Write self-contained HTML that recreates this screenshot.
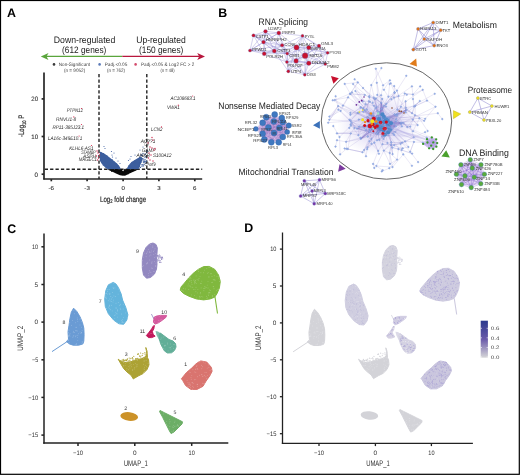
<!DOCTYPE html><html><head><meta charset="utf-8"><style>html,body{margin:0;padding:0;background:#fff;overflow:hidden}svg{display:block;will-change:transform}text{font-family:"Liberation Sans",sans-serif;text-rendering:geometricPrecision}</style></head><body>
<svg width="520" height="475" viewBox="0 0 520 475">
<rect x="0" y="0" width="520" height="475" fill="#fff"/>
<text x="7.1" y="17.3" font-size="12.4" fill="#000" font-weight="bold" >A</text>
<text x="218.3" y="17.2" font-size="12.4" fill="#000" font-weight="bold" >B</text>
<text x="7.2" y="232.5" font-size="12.4" fill="#000" font-weight="bold" >C</text>
<text x="244.3" y="232.3" font-size="12.4" fill="#000" font-weight="bold" >D</text>
<text x="84.5" y="42.7" font-size="9.4" fill="#222" text-anchor="middle" textLength="61.5" lengthAdjust="spacingAndGlyphs" >Down-regulated</text>
<text x="84.2" y="53" font-size="9.4" fill="#222" text-anchor="middle" textLength="44.2" lengthAdjust="spacingAndGlyphs" >(612 genes)</text>
<text x="161" y="42.7" font-size="9.4" fill="#222" text-anchor="middle" textLength="49.6" lengthAdjust="spacingAndGlyphs" >Up-regulated</text>
<text x="161.2" y="53" font-size="9.4" fill="#222" text-anchor="middle" textLength="44.3" lengthAdjust="spacingAndGlyphs" >(150 genes)</text>
<line x1="46" y1="56.4" x2="122.3" y2="56.4" stroke="#5aa53c" stroke-width="1.4"/>
<line x1="122.3" y1="56.4" x2="199" y2="56.4" stroke="#b8173d" stroke-width="1.4"/>
<path d="M40.8,56.4 L48.5,52.9 L46.5,56.4 L48.5,59.9 Z" fill="#5aa53c"/>
<path d="M205,56.4 L197.2,52.9 L199.2,56.4 L197.2,59.9 Z" fill="#b8173d"/>
<circle cx="54" cy="64.4" r="1.3" fill="#3a3a3a"/>
<circle cx="99.6" cy="64.4" r="1.3" fill="#5a7ab8"/>
<circle cx="135.6" cy="64.4" r="1.3" fill="#d44a6c"/>
<text x="74.4" y="66.1" font-size="4.9" fill="#444" text-anchor="middle" textLength="31.3" lengthAdjust="spacingAndGlyphs" >Non-Significant</text>
<text x="74.6" y="71.5" font-size="4.9" fill="#444" text-anchor="middle" textLength="21.3" lengthAdjust="spacingAndGlyphs" >(n = 9052)</text>
<text x="116" y="66.1" font-size="4.9" fill="#444" text-anchor="middle" textLength="22.6" lengthAdjust="spacingAndGlyphs" >Padj.&lt;0.05</text>
<text x="116" y="71.5" font-size="4.9" fill="#444" text-anchor="middle" textLength="18.2" lengthAdjust="spacingAndGlyphs" >(n = 762)</text>
<text x="167.6" y="66.1" font-size="4.9" fill="#444" text-anchor="middle" textLength="53.2" lengthAdjust="spacingAndGlyphs" >Padj.&lt;0.05 &amp; Log2 FC &gt; 2</text>
<text x="167.6" y="71.5" font-size="4.9" fill="#444" text-anchor="middle" textLength="14" lengthAdjust="spacingAndGlyphs" >(n = 48)</text>
<g stroke="#262626" stroke-width="1.7" fill="none">
<line x1="44" y1="72.6" x2="44" y2="179.6"/>
<line x1="43.3" y1="179" x2="202.2" y2="179"/>
<line x1="41.6" y1="174.2" x2="44" y2="174.2"/>
<line x1="41.6" y1="136.5" x2="44" y2="136.5"/>
<line x1="41.6" y1="98.9" x2="44" y2="98.9"/>
<line x1="51.3" y1="179" x2="51.3" y2="181.3"/>
<line x1="87.1" y1="179" x2="87.1" y2="181.3"/>
<line x1="123.1" y1="179" x2="123.1" y2="181.3"/>
<line x1="158.9" y1="179" x2="158.9" y2="181.3"/>
<line x1="194.8" y1="179" x2="194.8" y2="181.3"/>
</g>
<text x="38.1" y="176.5" font-size="6.3" fill="#333" text-anchor="end" textLength="3.5" lengthAdjust="spacingAndGlyphs" stroke="#333" stroke-width="0.12">0</text>
<text x="38.1" y="138.8" font-size="6.3" fill="#333" text-anchor="end" textLength="6.8" lengthAdjust="spacingAndGlyphs" stroke="#333" stroke-width="0.12">10</text>
<text x="38.1" y="101.2" font-size="6.3" fill="#333" text-anchor="end" textLength="6.8" lengthAdjust="spacingAndGlyphs" stroke="#333" stroke-width="0.12">20</text>
<text x="51.3" y="190.2" font-size="5.8" fill="#333" text-anchor="middle" textLength="5.5" lengthAdjust="spacingAndGlyphs" stroke="#333" stroke-width="0.12">-6</text>
<text x="87.1" y="190.2" font-size="5.8" fill="#333" text-anchor="middle" textLength="5.5" lengthAdjust="spacingAndGlyphs" stroke="#333" stroke-width="0.12">-3</text>
<text x="123.1" y="190.2" font-size="5.8" fill="#333" text-anchor="middle" textLength="3.4" lengthAdjust="spacingAndGlyphs" stroke="#333" stroke-width="0.12">0</text>
<text x="158.9" y="190.2" font-size="5.8" fill="#333" text-anchor="middle" textLength="3.4" lengthAdjust="spacingAndGlyphs" stroke="#333" stroke-width="0.12">3</text>
<text x="194.8" y="190.2" font-size="5.8" fill="#333" text-anchor="middle" textLength="3.4" lengthAdjust="spacingAndGlyphs" stroke="#333" stroke-width="0.12">6</text>
<text transform="translate(123.05,201.6) scale(0.77,1)" font-size="8" fill="#2a2a2a" stroke="#2a2a2a" stroke-width="0.2" text-anchor="middle">Log<tspan font-size="5.3" dy="1.8">2</tspan><tspan dy="-1.8"> fold change</tspan></text>
<text transform="translate(24,125.9) rotate(-90) scale(0.76,1)" font-size="8" fill="#2a2a2a" stroke="#2a2a2a" stroke-width="0.2" text-anchor="middle">-Log<tspan font-size="5.3" dy="1.8">10</tspan><tspan dy="-1.8"> P</tspan></text>
<g stroke="#222" stroke-width="1.4" stroke-dasharray="3.3,2.1" fill="none">
<line x1="99" y1="74" x2="99" y2="179"/>
<line x1="146.8" y1="74" x2="146.8" y2="179"/>
<line x1="44.7" y1="169.2" x2="202.2" y2="169.2"/>
</g>
<polygon points="99.8,151.5 102,152.5 105,154 109,157 113.4,160.6 117,163.5 119.6,166.5 121,169.3 108,169.3 105.7,168 102.3,164.4 100,161" fill="#3d5f9e"/>
<polygon points="126.4,169.3 128.5,165.5 131.5,162 135.5,159.5 139,157.5 141.5,156.5 142.5,160 140.5,164.5 138.5,169.3" fill="#3d5f9e"/>
<g fill="#3d5f9e" opacity="1.0"><circle cx="101" cy="160.5" r="0.55"/><circle cx="100.6" cy="159.2" r="0.55"/><circle cx="101.3" cy="153.1" r="0.55"/><circle cx="108.8" cy="166.2" r="0.55"/><circle cx="102.4" cy="155.5" r="0.55"/><circle cx="113.1" cy="168.4" r="0.55"/><circle cx="102.9" cy="153.6" r="0.55"/><circle cx="106.3" cy="166" r="0.55"/><circle cx="103.6" cy="161.9" r="0.55"/><circle cx="101.1" cy="155.2" r="0.55"/><circle cx="106.5" cy="161.9" r="0.55"/><circle cx="116.6" cy="163.9" r="0.55"/><circle cx="105" cy="161.7" r="0.55"/><circle cx="110.9" cy="167.1" r="0.55"/><circle cx="108.7" cy="165" r="0.55"/><circle cx="103" cy="160.2" r="0.55"/><circle cx="114.5" cy="162.1" r="0.55"/><circle cx="112.1" cy="159.6" r="0.55"/><circle cx="117.6" cy="168.3" r="0.55"/><circle cx="109.9" cy="163.3" r="0.55"/><circle cx="113.5" cy="169.2" r="0.55"/><circle cx="108" cy="163.4" r="0.55"/><circle cx="100.3" cy="159.7" r="0.55"/><circle cx="103.4" cy="153.6" r="0.55"/><circle cx="102.5" cy="155.9" r="0.55"/><circle cx="108.1" cy="167" r="0.55"/><circle cx="101.5" cy="159.5" r="0.55"/><circle cx="111.4" cy="167.2" r="0.55"/><circle cx="117.2" cy="166.9" r="0.55"/><circle cx="105.7" cy="158.9" r="0.55"/><circle cx="107.4" cy="167.2" r="0.55"/><circle cx="103.5" cy="155.6" r="0.55"/><circle cx="104.7" cy="160.1" r="0.55"/><circle cx="107.6" cy="161.6" r="0.55"/><circle cx="110.7" cy="162.5" r="0.55"/><circle cx="118.3" cy="165.7" r="0.55"/><circle cx="108.1" cy="158.6" r="0.55"/><circle cx="102" cy="162.8" r="0.55"/><circle cx="101.1" cy="152.7" r="0.55"/><circle cx="104.2" cy="154.4" r="0.55"/><circle cx="102" cy="158" r="0.55"/><circle cx="105.1" cy="157.7" r="0.55"/><circle cx="117.8" cy="169.2" r="0.55"/><circle cx="109.7" cy="160.1" r="0.55"/><circle cx="101.6" cy="153.3" r="0.55"/><circle cx="107.1" cy="156.2" r="0.55"/><circle cx="111" cy="168.9" r="0.55"/><circle cx="105.3" cy="158" r="0.55"/><circle cx="103.3" cy="165.2" r="0.55"/><circle cx="111.1" cy="165.4" r="0.55"/><circle cx="106.8" cy="155.5" r="0.55"/><circle cx="117" cy="169" r="0.55"/><circle cx="117.9" cy="165.8" r="0.55"/><circle cx="117.1" cy="164.7" r="0.55"/><circle cx="104.6" cy="160.7" r="0.55"/><circle cx="100.4" cy="156.5" r="0.55"/><circle cx="105.3" cy="163.8" r="0.55"/><circle cx="119.7" cy="169.1" r="0.55"/><circle cx="104.5" cy="155.5" r="0.55"/><circle cx="104" cy="155.1" r="0.55"/></g>
<g fill="#3d5f9e" opacity="1.0"><circle cx="136.4" cy="168" r="0.55"/><circle cx="139.9" cy="162.6" r="0.55"/><circle cx="136.9" cy="166.7" r="0.55"/><circle cx="138.5" cy="162.6" r="0.55"/><circle cx="129.3" cy="166.6" r="0.55"/><circle cx="131.8" cy="166.8" r="0.55"/><circle cx="132.9" cy="168.6" r="0.55"/><circle cx="138.1" cy="158.7" r="0.55"/><circle cx="128.8" cy="167.1" r="0.55"/><circle cx="132" cy="163.5" r="0.55"/><circle cx="134.9" cy="168.5" r="0.55"/><circle cx="133.4" cy="167.7" r="0.55"/><circle cx="139.7" cy="159.2" r="0.55"/><circle cx="130.3" cy="164" r="0.55"/><circle cx="128.5" cy="168.1" r="0.55"/><circle cx="132.1" cy="162.4" r="0.55"/><circle cx="135.8" cy="168.1" r="0.55"/><circle cx="133.2" cy="168.2" r="0.55"/><circle cx="134.5" cy="163.3" r="0.55"/><circle cx="138.1" cy="163.6" r="0.55"/><circle cx="131.6" cy="163.1" r="0.55"/><circle cx="135.3" cy="166.5" r="0.55"/><circle cx="138.8" cy="163" r="0.55"/><circle cx="135.4" cy="166.2" r="0.55"/><circle cx="141.1" cy="162.2" r="0.55"/><circle cx="136.3" cy="163" r="0.55"/><circle cx="134.6" cy="165.4" r="0.55"/><circle cx="133.7" cy="163.3" r="0.55"/><circle cx="134.1" cy="168.6" r="0.55"/><circle cx="137.7" cy="167.7" r="0.55"/><circle cx="141.6" cy="159.8" r="0.55"/><circle cx="135.4" cy="168.6" r="0.55"/><circle cx="139.9" cy="158.3" r="0.55"/><circle cx="139" cy="168" r="0.55"/><circle cx="128.9" cy="165.7" r="0.55"/><circle cx="129.9" cy="168.7" r="0.55"/><circle cx="132.8" cy="162.7" r="0.55"/><circle cx="134.7" cy="160.8" r="0.55"/><circle cx="135.3" cy="162.1" r="0.55"/><circle cx="136.4" cy="163.1" r="0.55"/></g>
<g fill="#3d5f9e" opacity="1.0"><circle cx="142" cy="166.3" r="0.6"/><circle cx="145.8" cy="153.8" r="0.6"/><circle cx="139.4" cy="166.4" r="0.6"/><circle cx="143.4" cy="162.2" r="0.6"/><circle cx="144.5" cy="157" r="0.6"/><circle cx="144" cy="164.2" r="0.6"/><circle cx="138.8" cy="165.2" r="0.6"/><circle cx="142.3" cy="155.3" r="0.6"/><circle cx="143" cy="153.4" r="0.6"/><circle cx="141" cy="154.7" r="0.6"/><circle cx="145.2" cy="154.4" r="0.6"/><circle cx="145" cy="159.4" r="0.6"/><circle cx="139.8" cy="157.9" r="0.6"/><circle cx="146.9" cy="150.8" r="0.6"/><circle cx="145.8" cy="157.1" r="0.6"/><circle cx="142.7" cy="164.8" r="0.6"/><circle cx="141.7" cy="158.5" r="0.6"/><circle cx="141.3" cy="164.8" r="0.6"/><circle cx="144.7" cy="161" r="0.6"/><circle cx="141.8" cy="155.5" r="0.6"/><circle cx="138.7" cy="163" r="0.6"/><circle cx="138.8" cy="165" r="0.6"/><circle cx="146.3" cy="161.7" r="0.6"/><circle cx="140.8" cy="157.6" r="0.6"/><circle cx="139.5" cy="157.4" r="0.6"/><circle cx="140.5" cy="167.3" r="0.6"/><circle cx="140.3" cy="167.3" r="0.6"/><circle cx="140.9" cy="155.6" r="0.6"/><circle cx="142.5" cy="158.5" r="0.6"/><circle cx="139.9" cy="158.5" r="0.6"/><circle cx="143.6" cy="159" r="0.6"/><circle cx="145.1" cy="161.4" r="0.6"/><circle cx="141.7" cy="155.1" r="0.6"/><circle cx="147.4" cy="151.7" r="0.6"/><circle cx="144.9" cy="161.1" r="0.6"/><circle cx="146.5" cy="160.8" r="0.6"/><circle cx="139.3" cy="158.9" r="0.6"/><circle cx="142.8" cy="164.8" r="0.6"/><circle cx="143.5" cy="165.9" r="0.6"/><circle cx="144.5" cy="162.1" r="0.6"/><circle cx="139" cy="164.8" r="0.6"/><circle cx="143.3" cy="160.9" r="0.6"/><circle cx="143.9" cy="161.9" r="0.6"/><circle cx="145.6" cy="163.2" r="0.6"/><circle cx="142.8" cy="159.1" r="0.6"/></g>
<g fill="#4a6aa8"><circle cx="104" cy="146.5" r="0.6"/><circle cx="105" cy="148.5" r="0.6"/><circle cx="111.5" cy="151.5" r="0.6"/><circle cx="112" cy="155" r="0.6"/><circle cx="112.5" cy="157" r="0.6"/><circle cx="116" cy="158" r="0.6"/><circle cx="114" cy="153" r="0.6"/><circle cx="131" cy="156.5" r="0.6"/><circle cx="130" cy="159" r="0.6"/><circle cx="128.5" cy="160.5" r="0.6"/><circle cx="135" cy="155" r="0.6"/><circle cx="140" cy="150" r="0.6"/><circle cx="143" cy="147" r="0.6"/><circle cx="118" cy="161" r="0.6"/><circle cx="120" cy="163.5" r="0.6"/></g>
<polygon points="107.5,169.2 121.5,169.2 123,171.5 124.5,169.2 138,169.2 135,171 130,173.3 126,175.2 123,175.8 120,175.2 116,173.5 112,171.6 109,170.3" fill="#0a0a0a"/>
<g fill="#0a0a0a" opacity="1.0"><circle cx="127.6" cy="169.6" r="0.6"/><circle cx="130" cy="170.9" r="0.6"/><circle cx="129.7" cy="170.6" r="0.6"/><circle cx="122.6" cy="171.7" r="0.6"/><circle cx="122.1" cy="173.7" r="0.6"/><circle cx="127.1" cy="169.7" r="0.6"/><circle cx="112" cy="170.9" r="0.6"/><circle cx="130.2" cy="171.2" r="0.6"/><circle cx="124.8" cy="169.3" r="0.6"/><circle cx="128" cy="173.8" r="0.6"/><circle cx="128.1" cy="171.1" r="0.6"/><circle cx="123.3" cy="172.3" r="0.6"/><circle cx="121.7" cy="170" r="0.6"/><circle cx="134.8" cy="170.5" r="0.6"/><circle cx="121.2" cy="171" r="0.6"/><circle cx="121.2" cy="171.2" r="0.6"/><circle cx="111.8" cy="171.5" r="0.6"/><circle cx="133.1" cy="170" r="0.6"/><circle cx="118.9" cy="171.8" r="0.6"/><circle cx="118.5" cy="172" r="0.6"/><circle cx="115.9" cy="169.5" r="0.6"/><circle cx="115.1" cy="171" r="0.6"/><circle cx="129.4" cy="169.5" r="0.6"/><circle cx="129.8" cy="172.2" r="0.6"/><circle cx="116.2" cy="169.5" r="0.6"/><circle cx="135.8" cy="170" r="0.6"/><circle cx="121.9" cy="171.5" r="0.6"/><circle cx="127.5" cy="171.2" r="0.6"/><circle cx="124.5" cy="171.8" r="0.6"/><circle cx="112.6" cy="170.3" r="0.6"/><circle cx="121.2" cy="170.1" r="0.6"/><circle cx="113.4" cy="169.8" r="0.6"/><circle cx="117.9" cy="169.8" r="0.6"/><circle cx="114.8" cy="170.9" r="0.6"/><circle cx="124.9" cy="175.1" r="0.6"/><circle cx="130.4" cy="171.9" r="0.6"/><circle cx="120.1" cy="172.7" r="0.6"/><circle cx="119" cy="171.4" r="0.6"/><circle cx="122.9" cy="173.4" r="0.6"/><circle cx="133.8" cy="170.6" r="0.6"/></g>
<text x="66.7" y="112.4" font-size="5.2" fill="#2a2a2a" textLength="16.2" lengthAdjust="spacingAndGlyphs" font-style="italic" >PTPN12</text>
<circle cx="81.5" cy="108.5" r="0.6" fill="#d8284c"/>
<text x="56.1" y="121.2" font-size="5.2" fill="#2a2a2a" textLength="20.1" lengthAdjust="spacingAndGlyphs" font-style="italic" >RNVU1-8</text>
<circle cx="73.8" cy="116.9" r="0.6" fill="#d8284c"/>
<text x="52.4" y="128.5" font-size="5.2" fill="#2a2a2a" textLength="31.8" lengthAdjust="spacingAndGlyphs" font-style="italic" >RP11-385J23.1</text>
<circle cx="81.5" cy="124.5" r="0.6" fill="#d8284c"/>
<text x="48" y="140.1" font-size="5.2" fill="#2a2a2a" textLength="34.2" lengthAdjust="spacingAndGlyphs" font-style="italic" >LA16c-349E10.1</text>
<circle cx="79.1" cy="136" r="0.6" fill="#d8284c"/>
<text x="69.2" y="149.5" font-size="5.2" fill="#2a2a2a" textLength="24.3" lengthAdjust="spacingAndGlyphs" font-style="italic" >KLHL6-AS1</text>
<circle cx="91.5" cy="145.5" r="0.6" fill="#d8284c"/>
<text x="81.2" y="154.1" font-size="5.2" fill="#2a2a2a" textLength="14.6" lengthAdjust="spacingAndGlyphs" font-style="italic" >STAMBP</text>
<text x="83" y="157.6" font-size="5.2" fill="#2a2a2a" textLength="13" lengthAdjust="spacingAndGlyphs" font-style="italic" >ASPH</text>
<text x="78.8" y="161" font-size="5.2" fill="#2a2a2a" textLength="18.1" lengthAdjust="spacingAndGlyphs" font-style="italic" >MAGEC1</text>
<text x="170.4" y="100.2" font-size="5.2" fill="#2a2a2a" textLength="25.2" lengthAdjust="spacingAndGlyphs" font-style="italic" >AC108683.1</text>
<circle cx="192.7" cy="96" r="0.6" fill="#d8284c"/>
<text x="167" y="109.1" font-size="5.2" fill="#2a2a2a" textLength="12.7" lengthAdjust="spacingAndGlyphs" font-style="italic" >VWA1</text>
<circle cx="178.3" cy="105.2" r="0.6" fill="#d8284c"/>
<text x="151.1" y="131.1" font-size="5.2" fill="#2a2a2a" textLength="11.4" lengthAdjust="spacingAndGlyphs" font-style="italic" >LCN2</text>
<circle cx="161.5" cy="126.9" r="0.6" fill="#d8284c"/>
<text x="140.7" y="142.9" font-size="5.2" fill="#2a2a2a" textLength="14.7" lengthAdjust="spacingAndGlyphs" font-style="italic" >AC??1</text>
<text x="144.5" y="145.8" font-size="5.2" fill="#2a2a2a" textLength="4.5" lengthAdjust="spacingAndGlyphs" font-style="italic" >CA?</text>
<text x="142.1" y="151.9" font-size="5.2" fill="#2a2a2a" textLength="13.3" lengthAdjust="spacingAndGlyphs" font-style="italic" >GAMP</text>
<text x="136.4" y="157.1" font-size="5.2" fill="#2a2a2a" textLength="13.6" lengthAdjust="spacingAndGlyphs" font-style="italic" >ANKR</text>
<text x="153" y="157.1" font-size="5.2" fill="#2a2a2a" textLength="18.5" lengthAdjust="spacingAndGlyphs" font-style="italic" >S100A12</text>
<text x="144.5" y="165.7" font-size="5.2" fill="#2a2a2a" textLength="10.9" lengthAdjust="spacingAndGlyphs" font-style="italic" >C?orf9</text>
<g fill="#d02a50"><circle cx="97" cy="151" r="0.7"/><circle cx="98" cy="153" r="0.7"/><circle cx="96.5" cy="156" r="0.7"/><circle cx="98.5" cy="158" r="0.7"/><circle cx="97.5" cy="160" r="0.7"/><circle cx="99.5" cy="155" r="0.7"/><circle cx="152" cy="137.5" r="0.7"/><circle cx="153" cy="140" r="0.7"/><circle cx="150" cy="147" r="0.7"/><circle cx="152" cy="148" r="0.7"/><circle cx="155" cy="148.5" r="0.7"/><circle cx="149" cy="153" r="0.7"/><circle cx="150" cy="160" r="0.7"/><circle cx="153" cy="161" r="0.7"/><circle cx="148" cy="143" r="0.7"/><circle cx="151" cy="155" r="0.7"/><circle cx="148.5" cy="158" r="0.7"/><circle cx="154" cy="150" r="0.7"/></g>
<ellipse cx="386.5" cy="121" rx="65.2" ry="58.2" fill="none" stroke="#4a4a4a" stroke-width="0.85"/>
<defs><radialGradient id="hz"><stop offset="0" stop-color="#a898e0" stop-opacity="0.55"/><stop offset="0.6" stop-color="#b0a4e4" stop-opacity="0.25"/><stop offset="1" stop-color="#b8b0e8" stop-opacity="0"/></radialGradient></defs>
<ellipse cx="379" cy="124" rx="42" ry="32" fill="url(#hz)"/>
<path d="M357,128.6L381.3,102.8M357,128.6L380.4,122.8M357,128.6L377.6,132.8M357,128.6L373.8,122.8M357,128.6L384.9,124.5M357,128.6L384.3,136.5M370.7,124.6L380.2,123M370.7,124.6L371.3,114.5M370.7,124.6L379.5,126M370.7,124.6L379.5,117.5M370.7,124.6L377.3,123.5M370.7,124.6L378.2,124.5M373.8,122.8L386.2,126.1M373.8,122.8L406.5,109.7M373.8,122.8L380.6,126.3M373.8,122.8L384.3,136.5M373.8,122.8L376.3,119.3M373.8,122.8L377.3,123.5M376.2,122.8L379.3,121.3M376.2,122.8L379.5,123.9M376.2,122.8L380.1,123.1M376.2,122.8L380.5,122.8M376.2,122.8L385.2,126.7M376.2,122.8L373.8,124.7M379.1,122.2L378.2,134.3M379.1,122.2L380,123.4M379.1,122.2L379.3,121.3M379.1,122.2L380.4,123.6M379.1,122.2L380.6,126.3M379.1,122.2L401.8,122.7M378.4,126.7L386.2,119M378.4,126.7L380.1,123.2M378.4,126.7L371.2,120.3M378.4,126.7L380.1,123.2M378.4,126.7L373.4,120.5M378.4,126.7L376.2,122.8M385.4,125.7L380.1,123.2M385.4,125.7L387.6,132.2M385.4,125.7L378.1,131.4M385.4,125.7L381.3,102.8M385.4,125.7L379.4,121.5M385.4,125.7L386.2,119M395.8,126.4L383.1,126.5M395.8,126.4L384.3,136.5M395.8,126.4L384.3,136.5M395.8,126.4L381.2,123.4M395.8,126.4L380.6,119.4M395.8,126.4L381.9,118.1M396.1,121.6L385.7,126.5M396.1,121.6L372.7,116M396.1,121.6L382.6,122.3M396.1,121.6L378.1,131.4M396.1,121.6L392.5,129M396.1,121.6L373.4,120.5M377.3,121.1L379.8,124.6M377.3,121.1L379.8,124.6M377.3,121.1L378.2,124.5M377.3,121.1L396.1,121.6M377.3,121.1L378.2,124.5M377.3,121.1L384.9,124.5M387.6,132.2L388.4,126.2M387.6,132.2L384.3,136.5M387.6,132.2L381.3,124.3M387.6,132.2L401.8,122.7M387.6,132.2L372.7,116M387.6,132.2L357,128.6M381.2,123.4L380.2,123.5M381.2,123.4L380.6,119.4M381.2,123.4L392.5,129M381.2,123.4L386.2,119M381.2,123.4L380.6,119.4M381.2,123.4L388.4,126.2M380.1,123.1L370.2,129.7M380.1,123.1L381.3,124.3M380.1,123.1L373.8,124.7M380.1,123.1L377.3,121.1M380.1,123.1L387,117.9M380.1,123.1L379.1,122.2M377.3,123.5L371.7,123.7M377.3,123.5L370.2,129.7M377.3,123.5L378.1,131.4M377.3,123.5L379.5,126M377.3,123.5L386.2,126.1M377.3,123.5L379.3,121.3M373,125.2L367.4,117.2M373,125.2L373.8,122.8M373,125.2L379.5,123.9M373,125.2L380.1,123.2M373,125.2L375.7,121.3M373,125.2L385.7,126.5M372.7,116L379.1,122.2M372.7,116L401.8,122.7M372.7,116L377.6,132.8M372.7,116L376.6,121M372.7,116L372.7,116M372.7,116L373.4,120.5M373.4,123L371.7,123.7M373.4,123L381.8,108.9M373.4,123L371.3,114.5M373.4,123L371.2,120.3M373.4,123L373.4,123M373.4,123L384.9,124.5M378.1,131.4L381.3,102.8M378.1,131.4L373.4,120.5M378.1,131.4L384.3,136.5M378.1,131.4L385.4,125.7M378.1,131.4L379.1,122.2M378.1,131.4L401.8,122.7M401.8,122.7L371.7,123.7M401.8,122.7L376.3,133.5M401.8,122.7L381.3,124.3M401.8,122.7L377.3,123.5M401.8,122.7L387.9,124.6M401.8,122.7L386.4,126.7M379.8,122.5L375.7,121.3M379.8,122.5L379.6,122.7M379.8,122.5L373.4,120.5M379.8,122.5L375.7,121.3M379.8,122.5L380.2,123.5M379.8,122.5L379.7,128.4M379.5,123.9L385.7,126.5M379.5,123.9L375.7,121.3M379.5,123.9L382.9,128.8M379.5,123.9L372.7,116M379.5,123.9L373.4,120.5M379.5,123.9L373,125.2M388.4,126.2L377.6,132.8M388.4,126.2L384.3,136.5M388.4,126.2L377.6,132.8M388.4,126.2L371.2,120.3M388.4,126.2L382.9,128.8M388.4,126.2L383.1,126.5M381.8,108.9L376.2,122.8M381.8,108.9L386.9,118.2M381.8,108.9L385.4,125.7M381.8,108.9L376.3,119.3M381.8,108.9L379.3,121.3M381.8,108.9L382.9,128.8M370.2,129.7L386.2,126.1M370.2,129.7L381.3,124.3M370.2,129.7L386.9,118.2M370.2,129.7L379.5,126M370.2,129.7L367.4,117.2M370.2,129.7L396.1,121.6M380.2,123L381.3,102.8M380.2,123L372.7,116M380.2,123L382.6,122.3M380.2,123L381.3,102.8M380.2,123L380.4,123.6M380.2,123L360.9,138.8M380.1,123.2L385.4,125.7M380.1,123.2L387.9,124.6M380.1,123.2L377.3,123.5M380.1,123.2L377.6,132.8M380.1,123.2L392.5,129M380.1,123.2L379.8,124.6M406.5,109.7L379.5,126M406.5,109.7L360.9,138.8M406.5,109.7L392.5,129M406.5,109.7L396.1,121.6M406.5,109.7L387.5,126M406.5,109.7L379.8,124.6M375.2,125.8L383.1,126.5M375.2,125.8L373.4,120.5M375.2,125.8L388.4,126.2M375.2,125.8L392.2,127.8M375.2,125.8L383.1,126.5M375.2,125.8L373.4,120.5M392.2,127.8L372.7,116M392.2,127.8L377.3,121.1M392.2,127.8L380.1,123.1M392.2,127.8L371.2,120.3M392.2,127.8L373.4,123M392.2,127.8L372.7,116M378.2,134.3L380.5,122.8M378.2,134.3L386.2,119M378.2,134.3L387,117.9M378.2,134.3L357,128.6M378.2,134.3L376.3,119.3M378.2,134.3L381.3,102.8M392.5,129L385.2,126.7M392.5,129L376.2,122.8M392.5,129L386.9,118.2M392.5,129L381.8,108.9M392.5,129L396.1,121.6M392.5,129L379.5,117.5M381.3,102.8L382.6,122.3M381.3,102.8L377.6,132.8M381.3,102.8L360.9,138.8M381.3,102.8L401.8,122.7M381.3,102.8L380,123.4M381.3,102.8L389.6,122.1M380.1,123.1L378.2,134.3M380.1,123.1L378.4,126.7M380.1,123.1L379.5,126M380.1,123.1L376.2,122.8M380.1,123.1L387,117.9M380.1,123.1L383.1,122.5M384.9,124.5L379.5,126M384.9,124.5L386.9,118.2M384.9,124.5L376.3,133.5M384.9,124.5L401.8,122.7M384.9,124.5L387.9,124.6M384.9,124.5L406.5,109.7M381.9,118.1L380.1,123.2M381.9,118.1L376.3,119.3M381.9,118.1L395.8,126.4M381.9,118.1L380.1,123.2M381.9,118.1L383.1,122.5M381.9,118.1L380,123.4M367.6,126.4L387.9,124.6M367.6,126.4L373.8,122.8M367.6,126.4L381.8,108.9M367.6,126.4L378.2,124.5M367.6,126.4L380.1,123.2M367.6,126.4L380.5,122.8M380.2,123.5L392.5,129M380.2,123.5L380.2,123M380.2,123.5L385.4,125.7M380.2,123.5L377.3,123.5M380.2,123.5L379.5,126M380.2,123.5L383.1,122.5M376.3,119.3L367.6,126.4M376.3,119.3L383.1,126.5M376.3,119.3L378.1,131.4M376.3,119.3L384.3,136.5M376.3,119.3L379.5,117.5M376.3,119.3L383.1,126.5M385.2,126.7L387.6,132.2M385.2,126.7L388.4,126.2M385.2,126.7L392.2,127.8M385.2,126.7L379.5,126M385.2,126.7L372.7,116M385.2,126.7L380.1,123.2M379.5,126L381.9,118.1M379.5,126L370.2,129.7M379.5,126L392.5,129M379.5,126L380.4,123.6M379.5,126L376.3,119.3M379.5,126L381.9,118.1M383.1,122.5L387.5,126M383.1,122.5L377.6,132.8M383.1,122.5L373,125.2M383.1,122.5L367.4,117.2M383.1,122.5L371.2,120.3M383.1,122.5L378.2,134.3M386.9,118.2L385.2,126.7M386.9,118.2L370.2,129.7M386.9,118.2L392.2,127.8M386.9,118.2L367.6,126.4M386.9,118.2L373.4,123M386.9,118.2L381.2,123.4M384.3,136.5L385.7,126.5M384.3,136.5L377.3,121.1M384.3,136.5L379.5,117.5M384.3,136.5L377.6,132.8M384.3,136.5L377.3,121.1M384.3,136.5L377.6,132.8M371.3,114.5L378.4,126.7M371.3,114.5L357,128.6M371.3,114.5L381.3,124.3M371.3,114.5L367.4,117.2M371.3,114.5L380.2,123.5M371.3,114.5L380.5,122.8M386.4,126.7L380.1,123.1M386.4,126.7L383,121.5M386.4,126.7L373.4,120.5M386.4,126.7L381.2,123.4M386.4,126.7L388.4,126.2M386.4,126.7L380.2,123.5M380,123.4L380.2,123M380,123.4L381.3,102.8M380,123.4L381.8,108.9M380,123.4L367.6,126.4M380,123.4L373.8,124.7M380,123.4L376.2,122.8M380.6,119.4L370.2,129.7M380.6,119.4L379.8,122.5M380.6,119.4L379.1,122.2M380.6,119.4L379.6,122.7M380.6,119.4L385.7,126.5M380.6,119.4L389.6,122.1M387.5,126L376.6,121M387.5,126L357,128.6M387.5,126L376.3,133.5M387.5,126L395.8,126.4M387.5,126L370.2,129.7M387.5,126L396.1,121.6M386.2,126.1L378.2,124.5M386.2,126.1L380.6,119.4M386.2,126.1L386.9,118.2M386.2,126.1L379.4,121.5M386.2,126.1L379.1,122.2M386.2,126.1L371.2,120.3M376.6,121L376.3,119.3M376.6,121L380.4,123.6M376.6,121L371.2,120.3M376.6,121L380.5,122.8M376.6,121L381.8,108.9M376.6,121L381.3,124.3M360.9,138.8L388.4,126.2M360.9,138.8L373,125.2M360.9,138.8L380.4,122.8M360.9,138.8L382.9,128.8M360.9,138.8L392.5,129M360.9,138.8L379.5,117.5M371.7,123.7L373.8,124.7M371.7,123.7L380.1,123.1M371.7,123.7L392.5,129M371.7,123.7L384.9,124.5M371.7,123.7L379.7,128.4M371.7,123.7L379.8,124.6M375.7,121.3L392.2,127.8M375.7,121.3L389.6,122.1M375.7,121.3L380.4,122.8M375.7,121.3L376.3,133.5M375.7,121.3L384.9,124.5M375.7,121.3L379.1,122.2M383.1,126.5L380.1,123.2M383.1,126.5L381.3,124.3M383.1,126.5L385.4,125.7M383.1,126.5L386.2,119M383.1,126.5L382.6,122.3M383.1,126.5L370.2,129.7M383,121.5L386.9,118.2M383,121.5L379.8,122.5M383,121.5L380.4,122.8M383,121.5L373.8,122.8M383,121.5L380.4,122.8M383,121.5L376.3,133.5M382.9,128.8L382.9,128.8M382.9,128.8L380.4,123.6M382.9,128.8L379.5,117.5M382.9,128.8L384.9,124.5M382.9,128.8L376.2,122.8M382.9,128.8L377.3,121.1M379.5,117.5L373,125.2M379.5,117.5L381.8,108.9M379.5,117.5L373.4,120.5M379.5,117.5L379.8,124.6M379.5,117.5L389.6,122.1M379.5,117.5L392.5,129M382.6,122.3L379.6,122.7M382.6,122.3L401.8,122.7M382.6,122.3L385.4,125.7M382.6,122.3L379.5,126M382.6,122.3L383,121.5M382.6,122.3L378.4,126.7M387,117.9L383.1,122.5M387,117.9L379.6,122.7M387,117.9L377.6,132.8M387,117.9L384.9,124.5M387,117.9L367.4,117.2M387,117.9L376.3,133.5M385.7,126.5L381.2,123.4M385.7,126.5L380.6,126.3M385.7,126.5L388.4,126.2M385.7,126.5L386.2,126.1M385.7,126.5L380.1,123.1M385.7,126.5L381.3,102.8M387.9,124.6L379.5,123.9M387.9,124.6L376.3,133.5M387.9,124.6L381.3,124.3M387.9,124.6L387,117.9M387.9,124.6L395.8,126.4M387.9,124.6L383.1,122.5M379.4,121.5L375.7,121.3M379.4,121.5L385.7,126.5M379.4,121.5L380.6,119.4M379.4,121.5L375.2,125.8M379.4,121.5L378.4,126.7M379.4,121.5L373.4,123M379.7,128.4L379.7,128.4M379.7,128.4L381.3,124.3M379.7,128.4L378.1,131.4M379.7,128.4L401.8,122.7M379.7,128.4L387,117.9M379.7,128.4L371.2,120.3M376.3,133.5L378.4,126.7M376.3,133.5L357,128.6M376.3,133.5L392.5,129M376.3,133.5L375.7,121.3M376.3,133.5L377.6,132.8M376.3,133.5L401.8,122.7M380.4,123.6L381.2,123.4M380.4,123.6L360.9,138.8M380.4,123.6L378.2,124.5M380.4,123.6L385.2,126.7M380.4,123.6L387.9,124.6M380.4,123.6L383,121.5M380.6,126.3L377.3,121.1M380.6,126.3L379.1,122.2M380.6,126.3L379.3,121.3M380.6,126.3L378.2,134.3M380.6,126.3L376.3,119.3M380.6,126.3L380.1,123.1M371.2,120.3L372.7,116M371.2,120.3L373.8,124.7M371.2,120.3L392.5,129M371.2,120.3L383.1,126.5M371.2,120.3L385.7,126.5M371.2,120.3L381.2,123.4M377.6,132.8L378.2,134.3M377.6,132.8L380.6,119.4M377.6,132.8L379.5,126M377.6,132.8L371.3,114.5M377.6,132.8L379.3,121.3M377.6,132.8L375.2,125.8M380.5,122.8L378.4,126.7M380.5,122.8L379.5,123.9M380.5,122.8L371.7,123.7M380.5,122.8L389.6,122.1M380.5,122.8L395.8,126.4M380.5,122.8L371.3,114.5M379.8,124.6L373.4,120.5M379.8,124.6L367.4,117.2M379.8,124.6L381.8,108.9M379.8,124.6L385.7,126.5M379.8,124.6L360.9,138.8M379.8,124.6L375.2,125.8M373.8,124.7L386.2,126.1M373.8,124.7L386.2,126.1M373.8,124.7L385.4,125.7M373.8,124.7L375.2,125.8M373.8,124.7L383.1,126.5M373.8,124.7L386.4,126.7M378.2,124.5L381.3,102.8M378.2,124.5L370.2,129.7M378.2,124.5L373.8,124.7M378.2,124.5L379.5,123.9M378.2,124.5L379.4,121.5M378.2,124.5L406.5,109.7M373.4,120.5L371.7,123.7M373.4,120.5L375.2,125.8M373.4,120.5L381.3,124.3M373.4,120.5L385.7,126.5M373.4,120.5L379.5,126M373.4,120.5L387.9,124.6M386.2,119L382.6,122.3M386.2,119L379.7,128.4M386.2,119L370.2,129.7M386.2,119L379.7,128.4M386.2,119L406.5,109.7M386.2,119L379.8,124.6M389.6,122.1L376.6,121M389.6,122.1L383.1,126.5M389.6,122.1L377.3,121.1M389.6,122.1L385.4,125.7M389.6,122.1L367.6,126.4M389.6,122.1L380.6,119.4M367.4,117.2L367.6,126.4M367.4,117.2L379.6,122.7M367.4,117.2L373.8,122.8M367.4,117.2L371.2,120.3M367.4,117.2L370.2,129.7M367.4,117.2L384.9,124.5M381.3,124.3L380.6,126.3M381.3,124.3L360.9,138.8M381.3,124.3L373.4,120.5M381.3,124.3L375.2,125.8M381.3,124.3L381.9,118.1M381.3,124.3L377.3,123.5M380.4,122.8L380.6,119.4M380.4,122.8L395.8,126.4M380.4,122.8L379.8,122.5M380.4,122.8L380.6,119.4M380.4,122.8L378.1,131.4M380.4,122.8L392.5,129M379.3,121.3L372.7,116M379.3,121.3L373.8,122.8M379.3,121.3L386.9,118.2M379.3,121.3L376.6,121M379.3,121.3L382.6,122.3M379.3,121.3L387.6,132.2M379.6,122.7L386.2,126.1M379.6,122.7L386.9,118.2M379.6,122.7L380.1,123.1M379.6,122.7L371.2,120.3M379.6,122.7L395.8,126.4M379.6,122.7L385.2,126.7M377.4,123.2L380.1,123.1M377.4,123.2L380.1,123.1M377.4,123.2L380.2,123M401,122.9L396.3,119.3M401,122.9L393.9,124M401,122.9L392.2,127.8M413.7,137.2L400.6,143.8M413.7,137.2L410.2,126.6M413.7,137.2L400.6,143.8M389.1,117.5L386.2,119M389.1,117.5L384.6,121.8M389.1,117.5L383.6,119.2M379,112.9L379.5,117.5M379,112.9L392.2,127.8M379,112.9L377.4,116.3M415.4,105.7L415,115.3M415.4,105.7L412.1,113.3M415.4,105.7L405.7,107.7M367.7,136.6L369.6,128.1M367.7,136.6L369.6,128.1M367.7,136.6L365.8,130M412.9,94.5L404.7,93.5M412.9,94.5L404.7,93.5M412.9,94.5L414.1,106.6M369.5,128L370.7,124.5M369.5,128L370.7,124.5M369.5,128L370.7,124.5M338.2,106L380.2,123.5M338.2,106L350.4,112.9M338.2,106L350.4,114.8M363.3,109.2L366.7,109.4M363.3,109.2L371.3,114.5M363.3,109.2L365.2,110.7M363.3,111.8L371.3,114.5M363.3,111.8L371.3,114.5M363.3,111.8L372.7,116M422.9,142.5L379.5,126M422.9,142.5L413.9,141.9M422.9,142.5L372.7,116M422.7,89.8L412.9,94.5M422.7,89.8L381.9,118.1M422.7,89.8L427,100.6M375.9,98.4L381.3,102.8M375.9,98.4L381.3,102.8M375.9,98.4L377.3,121.1M357.8,112.8L365.2,110.7M357.8,112.8L365.2,110.7M357.8,112.8L365.2,110.7M375,124.6L377.5,123.7M375,124.6L378.2,124.5M375,124.6L377.4,123.2M380,115.9L379.6,120.3M380,115.9L377.3,121.1M380,115.9L378.5,119.5M401.9,126.4L396.3,119.3M401.9,126.4L393.9,124M401.9,126.4L395.2,131.8M382,136.5L386.2,126.1M382,136.5L376.6,121M382,136.5L385.3,133M369.4,96.9L375,99.2M369.4,96.9L375,99.2M369.4,96.9L368.8,101.3M380.5,122.8L379.8,122.5M380.5,122.8L380.4,122.8M380.5,122.8L380.2,123M379.3,139.8L384.3,136.5M379.3,139.8L378.2,134.3M379.3,139.8L377.6,132.8M379.4,121.9L360.9,138.8M379.4,121.9L357,128.6M379.4,121.9L392.5,129M387.5,143.1L385.3,133M387.5,143.1L383.5,139M387.5,143.1L379.3,139.8M355.4,91L384.3,136.5M355.4,91L364.8,95M355.4,91L383.1,122.5M364.4,127.9L367.9,126M364.4,127.9L370.3,129.7M364.4,127.9L367.9,126M373.2,113.4L373.3,118.3M373.2,113.4L376.3,119.3M373.2,113.4L371.2,119.5M392.6,154.1L391.1,144.9M392.6,154.1L391.3,142.4M392.6,154.1L391.1,144.9M395.8,115.2L388.8,118.1M395.8,115.2L389.6,122.1M395.8,115.2L387,117.9M397.4,109.5L397.3,113.9M397.4,109.5L377.3,123.5M397.4,109.5L379.5,126M371.4,139L378.2,134.3M371.4,139L370.2,129.7M371.4,139L369.4,131.7M410.2,151.7L413.9,141.9M410.2,151.7L385.4,125.7M410.2,151.7L413.9,141.9M380.6,122.3L380.4,123.6M380.6,122.3L360.9,138.8M380.6,122.3L380.1,123.1M375.5,108.2L373.2,113.4M375.5,108.2L370.7,114.6M375.5,108.2L373.2,113.4M382.9,127.3L406.5,109.7M382.9,127.3L382.4,124.2M382.9,127.3L380.2,125.3M377.5,123.7L380.1,123.1M377.5,123.7L380.1,123.1M377.5,123.7L380.1,123.1M365.8,130L370.3,129.7M365.8,130L369.5,128M365.8,130L367.6,126.4M365.2,110.7L372.7,116M365.2,110.7L378.1,131.4M365.2,110.7L367.4,117.2M380.4,122.4L383.1,126.5M380.4,122.4L380.1,123.1M380.4,122.4L360.9,138.8M389,122.2L383,121.5M389,122.2L385.4,125.7M389,122.2L384.6,121.8M382.7,123.5L380.2,123M382.7,123.5L380.1,123.1M382.7,123.5L372.7,116M405.6,101.3L405.7,107.7M405.6,101.3L405.7,112.2M405.6,101.3L405.7,107.7M371.2,119.5L375.7,121.3M371.2,119.5L373.8,122.8M371.2,119.5L373.8,122.8M379.6,123.9L401.8,122.7M379.6,123.9L386.2,119M379.6,123.9L376.6,121M383,125.9L381.2,123.4M383,125.9L381.2,123.4M383,125.9L381.3,124.3M336.9,133.4L350.7,133.5M336.9,133.4L382.9,128.8M336.9,133.4L350.7,133.5M380.6,128.8L381.9,118.1M380.6,128.8L381.5,126.5M380.6,128.8L379.5,126M400.6,143.8L391.1,144.9M400.6,143.8L391.1,144.9M400.6,143.8L394.2,134.9M370.7,125.7L373.8,124.7M370.7,125.7L373.6,123.8M370.7,125.7L373,125.2M363.1,108.2L369.4,115M363.1,108.2L363.3,111.8M363.1,108.2L375.7,121.3M415,115.3L405.7,107.7M415,115.3L410.2,126.6M415,115.3L412.8,119.6M376.6,116.5L377.3,121.1M376.6,116.5L377.3,121.1M376.6,116.5L378.5,119.5M391.3,142.4L381.3,102.8M391.3,142.4L379.5,117.5M391.3,142.4L387.6,132.2M417.6,125.1L412.8,119.6M417.6,125.1L380.5,122.8M417.6,125.1L412.8,119.6M382.9,128L381.3,126.3M382.9,128L381.8,124.9M382.9,128L380.2,125.3M377,140.3L382,136.5M377,140.3L376.3,133.5M377,140.3L384.3,136.5M349.5,119.7L354.5,127.9M349.5,119.7L359.1,126.6M349.5,119.7L357.8,112.8M379.3,122.5L380.5,122.8M379.3,122.5L380.1,123.1M379.3,122.5L379.4,121.5M386.3,103.8L377.5,111.3M386.3,103.8L379.1,112.1M386.3,103.8L379.1,112.1M419.8,101L414.1,106.6M419.8,101L414.1,106.6M419.8,101L414.1,106.6M375,99.2L381.3,102.8M375,99.2L376.6,106.8M375,99.2L381.3,102.8M402.2,142.5L387.5,143.1M402.2,142.5L391.3,142.4M402.2,142.5L394.2,134.9M388.2,118.7L383.6,119.2M388.2,118.7L383.6,119.2M388.2,118.7L384.8,123.9M347.8,149L350.7,133.5M347.8,149L362.5,152.2M347.8,149L362.5,152.2M386,106.5L381.8,108.9M386,106.5L381.8,108.9M386,106.5L379,112.9M412.1,113.3L406.5,109.7M412.1,113.3L406.5,109.7M412.1,113.3L400.9,106.7M382.2,129.3L383.1,126.5M382.2,129.3L381.5,126.5M382.2,129.3L383,125.9M377.5,111.3L381.9,118.1M377.5,111.3L379.1,116.6M377.5,111.3L386.9,118.2M373.7,97.5L380,123.4M373.7,97.5L372.6,102.8M373.7,97.5L376.6,106.8M392.5,167.1L403.3,154.4M392.5,167.1L376.4,166M392.5,167.1L389.7,153M419.4,118.3L383,121.5M419.4,118.3L413,131.2M419.4,118.3L372.7,116M374.8,122L378.5,123.9M374.8,122L378.1,123.4M374.8,122L378.1,123.4M397.3,113.9L388.8,118.1M397.3,113.9L388.8,118.1M397.3,113.9L394.6,114.3M383.6,119.2L382.6,122.3M383.6,119.2L379.6,120.3M383.6,119.2L380.6,122.3M372.4,125.5L375,124.6M372.4,125.5L379.8,122.5M372.4,125.5L376.2,122.8M377,122.2L379.6,122.7M377,122.2L380.1,123.2M377,122.2L380,123.4M407.3,127.1L403.5,123M407.3,127.1L401.8,122.7M407.3,127.1L403.5,123M394.5,92.3L386.3,103.8M394.5,92.3L388.4,96.7M394.5,92.3L393.9,97.6M387.9,135.4L387.7,131.6M387.9,135.4L387.6,132.2M387.9,135.4L387.7,131.6M378.4,125.2L380.4,123.6M378.4,125.2L380.1,123.1M378.4,125.2L380.1,123.2M387.7,131.6L386.4,126.7M387.7,131.6L392.5,129M387.7,131.6L388.4,126.2M372.4,122.3L376.6,121M372.4,122.3L377.3,121.1M372.4,122.3L375.7,121.3M363,88L373.7,97.5M363,88L396.1,121.6M363,88L369.3,96.3M435.5,106.7L425.2,118.8M435.5,106.7L427,100.6M435.5,106.7L392.2,127.8M382.4,124.2L380.1,123.2M382.4,124.2L380.1,123.1M382.4,124.2L380.1,123.1M383.5,139L377.3,121.1M383.5,139L387.6,132.2M383.5,139L387.6,132.2M379.6,120.3L380.4,122.8M379.6,120.3L378.2,124.5M379.6,120.3L380.4,122.4M350.4,93.9L364.8,95M350.4,93.9L365.5,104.2M350.4,93.9L380.4,122.8M373.8,121L376.2,122.8M373.8,121L376.2,122.8M373.8,121L377.4,123.2M367.1,149.2L369.4,141.2M367.1,149.2L374.4,142.6M367.1,149.2L379.3,121.3M405.7,107.7L397.4,109.5M405.7,107.7L405.7,112.2M405.7,107.7L395.8,115.2M389.7,153L391.1,144.9M389.7,153L383.8,150.6M389.7,153L391.3,142.4M329.4,116.6L340.6,110.9M329.4,116.6L338.2,106M329.4,116.6L338.4,109.6M371.9,119.7L373.8,121M371.9,119.7L376.3,119.3M371.9,119.7L374.8,122M351.5,122.5L357,128.6M351.5,122.5L357,128.6M351.5,122.5L387.6,132.2M369,122.1L373.4,120.5M369,122.1L373.4,120.5M369,122.1L373.8,122.8M372.1,127.7L375.2,125.8M372.1,127.7L373.8,124.7M372.1,127.7L373.6,123.8M350.6,124.4L358.8,119.6M350.6,124.4L359.1,126.6M350.6,124.4L358.4,135.2M370,101.8L363.1,108.2M370,101.8L375.5,108.2M370,101.8L363.1,108.2M369.6,128.1L380.1,123.1M369.6,128.1L370.7,124.5M369.6,128.1L371.3,124.2M396.3,119.3L388.2,118.7M396.3,119.3L389.6,122.1M396.3,119.3L389.1,117.5M371.3,124.2L373.6,123.8M371.3,124.2L376.2,122.8M371.3,124.2L373.6,123.8M408.4,147L405.1,141.4M408.4,147L402.2,142.5M408.4,147L398.4,149M394.6,114.3L386.9,119M394.6,114.3L389.1,117.5M394.6,114.3L373.8,122.8M373.6,123.8L360.9,138.8M373.6,123.8L377.3,123.5M373.6,123.8L378.1,123.4M369.4,115L372.7,116M369.4,115L371.9,119.7M369.4,115L373.4,120.5M405.7,112.2L371.2,120.3M405.7,112.2L406.5,109.7M405.7,112.2L397.4,109.5M410.2,126.6L407.3,127.1M410.2,126.6L407.3,127.1M410.2,126.6L401,122.9M381.8,127.1L380.4,123.9M381.8,127.1L387.9,124.6M381.8,127.1L381.8,124.9M364.1,150.1L371.5,143.7M364.1,150.1L369.4,141.2M364.1,150.1L376.2,122.8M374.9,128.4L378.4,125.2M374.9,128.4L378.2,124.5M374.9,128.4L380.1,123.1M379.1,116.6L379.6,120.3M379.1,116.6L379.7,119.1M379.1,116.6L378.5,119.5M393.1,133.5L385.3,133M393.1,133.5L387.7,131.6M393.1,133.5L387.6,132.2M380.4,123.9L381.3,102.8M380.4,123.9L367.4,117.2M380.4,123.9L375.7,121.3M358.8,119.6L367.4,117.2M358.8,119.6L367.4,117.2M358.8,119.6L369,122.1M372.2,126.9L373.8,124.7M372.2,126.9L373.4,123M372.2,126.9L373.4,123M371.4,121.7L375.7,121.3M371.4,121.7L376.2,122.8M371.4,121.7L375.7,121.3M370.7,114.6L373.3,118.3M370.7,114.6L372.7,116M370.7,114.6L376.6,116.5M350.1,93.7L364.8,95M350.1,93.7L342.9,105.6M350.1,93.7L360.7,107.2M373.3,118.3L373.8,122.8M373.3,118.3L376.3,119.3M373.3,118.3L374.8,122M382.7,120.2L380.4,122.4M382.7,120.2L380.4,122.8M382.7,120.2L384.3,136.5M394.6,92.7L406.5,109.7M394.6,92.7L386.3,103.8M394.6,92.7L373.4,120.5M386.9,119L380.1,123.1M386.9,119L382.7,120.2M386.9,119L383.1,122.5M397,115.6L388.8,118.1M397,115.6L393.9,124M397,115.6L389.6,122.1M390,163.9L383.8,150.6M390,163.9L389.7,153M390,163.9L397.1,159.6M380.3,123.3L379.5,123.9M380.3,123.3L377.6,132.8M380.3,123.3L386.2,126.1M380.2,125.3L380.2,123M380.2,125.3L380.1,123.2M380.2,125.3L380.1,123.2M395.2,131.8L387.6,132.2M395.2,131.8L371.2,120.3M395.2,131.8L387.6,132.2M398.6,96L388.4,96.7M398.6,96L393.9,97.6M398.6,96L397.4,109.5M394.2,134.9L387.9,135.4M394.2,134.9L392.2,127.8M394.2,134.9L387.6,132.2M378.5,123.9L406.5,109.7M378.5,123.9L380.4,122.8M378.5,123.9L367.4,117.2M381.3,126.3L380.4,123.6M381.3,126.3L380.2,123.5M381.3,126.3L379.6,123.9M357.8,82.4L363,88M357.8,82.4L350.1,93.7M357.8,82.4L350.4,93.9M405.1,141.4L395.2,131.8M405.1,141.4L395.2,131.8M405.1,141.4L394.2,145.2M378.5,123L387.6,132.2M378.5,123L360.9,138.8M378.5,123L392.2,127.8M368.8,101.3L366.7,109.4M368.8,101.3L373.9,105.7M368.8,101.3L366.7,109.4M383.9,130.9L382.2,129.3M383.9,130.9L379.7,128.4M383.9,130.9L380.6,128.8M384.8,123.9L381.2,123.4M384.8,123.9L373.8,122.8M384.8,123.9L380.4,123.6M350.4,114.8L360.9,107.6M350.4,114.8L360.7,107.2M350.4,114.8L358.6,112.9M381.8,124.9L380.3,123.3M381.8,124.9L380.3,123.3M381.8,124.9L380,123.4M385.3,133L382.9,128.8M385.3,133L383.9,130.9M385.3,133L382.9,127.3M424.2,120.8L419.4,118.3M424.2,120.8L380,123.4M424.2,120.8L412.1,113.3M386.4,120.4L382.4,124.2M386.4,120.4L383.1,122.5M386.4,120.4L382.4,124.2M384.6,121.8L380.6,121.6M384.6,121.8L380.6,122.3M384.6,121.8L381.2,123.4M378.1,123.4L379.8,122.5M378.1,123.4L367.6,126.4M378.1,123.4L387.9,124.6M359.1,126.6L367.6,126.4M359.1,126.6L380.1,123.2M359.1,126.6L367.6,126.4M350.5,120.7L358.6,112.9M350.5,120.7L357.8,112.8M350.5,120.7L354.5,127.9M393.9,124L389,122.2M393.9,124L388.4,126.2M393.9,124L388.4,126.2M377.4,116.3L376.6,121M377.4,116.3L379.6,120.3M377.4,116.3L376.6,121M367.9,126L372.2,126.9M367.9,126L371.3,124.2M367.9,126L372.2,126.9M379.1,112.1L381.9,118.1M379.1,112.1L386.9,118.2M379.1,112.1L376.6,116.5M384.5,129.3L381.8,127.1M384.5,129.3L385.4,125.7M384.5,129.3L381.8,127.1M329.3,119.7L380.1,123.1M329.3,119.7L342.9,105.6M329.3,119.7L338.2,106M381.6,119.1L379.3,121.3M381.6,119.1L377.6,132.8M381.6,119.1L380.6,122.3M373.9,105.7L377.5,111.3M373.9,105.7L375.5,108.2M373.9,105.7L381.8,108.9M358.4,135.2L359.1,126.6M358.4,135.2L380,123.4M358.4,135.2L363.5,126.2M380.6,121.6L379.7,128.4M380.6,121.6L384.3,136.5M380.6,121.6L379.7,128.4M378.2,150.9L371.5,143.7M378.2,150.9L382.5,144.2M378.2,150.9L374.4,142.6M383.7,105.8L379.1,112.1M383.7,105.8L379.3,121.3M383.7,105.8L379.1,112.1M396.9,90.6L391.4,99.2M396.9,90.6L398.6,96M396.9,90.6L398.6,96M400.9,106.7L396.3,119.3M400.9,106.7L395.8,115.2M400.9,106.7L384.9,124.5M378.5,119.5L379.1,122.2M378.5,119.5L379.3,122.5M378.5,119.5L376.3,119.3M346.1,141.8L360.9,138.8M346.1,141.8L360.4,137.8M346.1,141.8L350.7,133.5M376.6,106.8L379.1,112.1M376.6,106.8L379.8,122.5M376.6,106.8L379.5,123.9M370.7,124.5L375,124.6M370.7,124.5L379.3,121.3M370.7,124.5L375.2,125.8M401.2,124.2L392.2,127.8M401.2,124.2L395.2,131.8M401.2,124.2L396.3,119.3M360.7,107.2L365.2,110.7M360.7,107.2L380.6,119.4M360.7,107.2L358.6,112.9M383.8,150.6L391.3,142.4M383.8,150.6L391.1,144.9M383.8,150.6L379.3,139.8M373.6,131.6L372.4,125.5M373.6,131.6L372.1,127.7M373.6,131.6L372.4,125.5M365.5,104.2L373.9,105.7M365.5,104.2L363.3,109.2M365.5,104.2L377.3,123.5M370.3,129.7L372.7,116M370.3,129.7L370.7,125.7M370.3,129.7L372.2,126.9M403.5,123L397,115.6M403.5,123L396.1,121.6M403.5,123L393.9,124M382.2,98.9L381.8,108.9M382.2,98.9L371.2,120.3M382.2,98.9L386,106.5M412.8,119.6L407.3,127.1M412.8,119.6L401,122.9M412.8,119.6L405.7,112.2M379.7,119.1L377.3,123.5M379.7,119.1L379.4,121.9M379.7,119.1L380.6,122.3M379.7,128.2L381.8,124.9M379.7,128.2L378.2,124.5M379.7,128.2L378.4,125.2M381.5,126.5L379.8,124.6M381.5,126.5L379.8,124.6M381.5,126.5L379.8,122.5M369.4,131.7L373.8,122.8M369.4,131.7L372.1,127.7M369.4,131.7L386.2,119M388.8,118.1L382.7,120.2M388.8,118.1L386.4,120.4M388.8,118.1L382.7,120.2M403.3,154.4L379.1,122.2M398.4,149L392.4,147.6M383.1,85.3L381.1,95.3M360.4,137.8L369.4,131.7M393.9,97.6L397.4,109.5M393.9,97.6L391.4,99.2M412.9,99L414.1,106.6M344.6,148.5L362.5,152.2M373.1,163.9L378.2,150.9M389.3,168.2L397.1,159.6M425.1,132.2L413.7,137.2M389.9,80.4L383.9,89.7M389.9,80.4L383.1,85.3M381.1,95.3L381.3,102.8M381.1,95.3L375.9,98.4M354.6,79.3L363,88M369.3,96.3L370,101.8M402.7,148.4L391.1,144.9M358.6,112.9L367.4,117.2M358.6,112.9L367.4,117.2M383.9,89.7L388.4,96.7M367.4,147.4L374.4,142.6M340.1,154.4L339.5,137M340.1,154.4L346.5,148.8M401.6,150L392.4,147.6M401.6,150L400.6,143.8M377.3,94.9L382.2,98.9M392.4,147.6L387.5,126M392.4,147.6L391.1,144.9M437.8,113.2L376.6,121M406.3,75.8L396.9,90.6M413.9,141.9L405.1,141.4M342.9,105.6L378.2,124.5M414.1,106.6L396.1,121.6M414.1,106.6L412.1,113.3M378.9,153.7L374.4,142.6M362.7,101.3L368.8,101.3M374.3,167.9L373.1,163.9M434.7,93.8L383.1,122.5M349.3,127.9L351.5,122.5M394.2,86.1L394.6,92.7M418.1,162.1L410.2,151.7M328.2,122.7L338.2,106M328.2,122.7L387,117.9M333.3,126.1L339.5,137M335.5,146.6L337,140.2M404.7,93.5L400.9,106.7M391.1,144.9L382.5,144.2M411.9,165.8L403.3,154.4M412.1,153.6L401.6,150M412.1,153.6L401.6,150M376.8,82.8L387.6,132.2M371.3,85.1L369.3,96.3M371.3,85.1L380.4,123.6M350.4,112.9L358.6,112.9M332.7,100.3L342.9,105.6M332.7,100.3L348.1,97.4M339.5,137L350.9,125.7M420.2,86.4L412.9,94.5M352,92.4L376.2,122.8M413,131.2L403.5,123M348.1,97.4L340.6,110.9M348.1,97.4L360.7,107.2M346.5,148.8L346.1,141.8M346.5,148.8L360.9,138.8M363.5,126.2L367.6,126.4M425.2,118.8L415,115.3M442.3,119.1L437.8,113.2M388.4,96.7L383.7,105.8M344.7,83.9L350.4,93.9M344.7,83.9L357.8,82.4M364.8,95L369.4,96.9M390.7,83.3L396.9,90.6M390.7,83.3L394.5,92.3M335.6,96.2L338.4,109.6M382.7,170.2L373.1,163.9M397.1,159.6L398.4,149M397.1,159.6L389.7,153M362.5,152.2L383.1,122.5M376.4,166L383.8,150.6M350.9,125.7L359.1,126.6M389.6,84L388.4,96.7M427,100.6L414.1,106.6M427,100.6L414.1,106.6M334.8,100L380.6,126.3M334.8,100L350.1,93.7M382.5,144.2L382,136.5M369.4,141.2L376.3,133.5M338.4,109.6L340.6,110.9M338.4,109.6L351.5,122.5M381.8,171.4L389.3,168.2M426.7,137.6L413,131.2M371.5,143.7L371.4,139M354.5,127.9L364.4,127.9M381.4,68.1L371.3,85.1M350.7,133.5L358.4,135.2M350.7,133.5L354.5,127.9M360.9,107.6L379.8,122.5M391.4,99.2L381.8,108.9M366.7,109.4L370.7,114.6M366.7,109.4L372.7,116M406.8,94.7L393.9,97.6M394.2,145.2L382.5,144.2M366,156.3L367.1,149.2M366,156.3L364.1,150.1M337,140.2L346.1,141.8M411.9,86.4L412.9,94.5M411.9,86.4L371.3,114.5M427.6,131L419.4,118.3M353.1,84L396.1,121.6M353.1,84L379.5,123.9M340.6,110.9L349.5,119.7M372.6,102.8L376.6,106.8M375.8,68.7L383.1,85.3M375.8,68.7L379.6,122.7M374.4,142.6L376.3,133.5M374.4,142.6L367.7,136.6" stroke="#8078c8" stroke-width="0.3" stroke-opacity="0.55" fill="none"/>
<g fill="#a4b8ea" stroke="#6286d0" stroke-width="0.35"><circle cx="357" cy="128.6" r="0.8"/><circle cx="370.7" cy="124.6" r="0.8"/><circle cx="373.8" cy="122.8" r="0.8"/><circle cx="376.2" cy="122.8" r="0.8"/><circle cx="379.1" cy="122.2" r="0.8"/><circle cx="378.4" cy="126.7" r="0.8"/><circle cx="385.4" cy="125.7" r="0.8"/><circle cx="395.8" cy="126.4" r="0.8"/><circle cx="396.1" cy="121.6" r="0.8"/><circle cx="377.3" cy="121.1" r="0.8"/><circle cx="387.6" cy="132.2" r="0.8"/><circle cx="381.2" cy="123.4" r="0.8"/><circle cx="380.1" cy="123.1" r="0.8"/><circle cx="377.3" cy="123.5" r="0.8"/><circle cx="373" cy="125.2" r="0.8"/><circle cx="372.7" cy="116" r="0.8"/><circle cx="373.4" cy="123" r="0.8"/><circle cx="378.1" cy="131.4" r="0.8"/><circle cx="401.8" cy="122.7" r="0.8"/><circle cx="379.8" cy="122.5" r="0.8"/><circle cx="379.5" cy="123.9" r="0.8"/><circle cx="388.4" cy="126.2" r="0.8"/><circle cx="381.8" cy="108.9" r="0.8"/><circle cx="370.2" cy="129.7" r="0.8"/><circle cx="380.2" cy="123" r="0.8"/><circle cx="380.1" cy="123.2" r="0.8"/><circle cx="406.5" cy="109.7" r="0.8"/><circle cx="375.2" cy="125.8" r="0.8"/><circle cx="392.2" cy="127.8" r="0.8"/><circle cx="378.2" cy="134.3" r="0.8"/><circle cx="392.5" cy="129" r="0.8"/><circle cx="381.3" cy="102.8" r="0.8"/><circle cx="380.1" cy="123.1" r="0.8"/><circle cx="384.9" cy="124.5" r="0.8"/><circle cx="381.9" cy="118.1" r="0.8"/><circle cx="367.6" cy="126.4" r="0.8"/><circle cx="380.2" cy="123.5" r="0.8"/><circle cx="376.3" cy="119.3" r="0.8"/><circle cx="385.2" cy="126.7" r="0.8"/><circle cx="379.5" cy="126" r="0.8"/><circle cx="383.1" cy="122.5" r="0.8"/><circle cx="386.9" cy="118.2" r="0.8"/><circle cx="384.3" cy="136.5" r="0.8"/><circle cx="371.3" cy="114.5" r="0.8"/><circle cx="386.4" cy="126.7" r="0.8"/><circle cx="380" cy="123.4" r="0.8"/><circle cx="380.6" cy="119.4" r="0.8"/><circle cx="387.5" cy="126" r="0.8"/><circle cx="386.2" cy="126.1" r="0.8"/><circle cx="376.6" cy="121" r="0.8"/><circle cx="360.9" cy="138.8" r="0.8"/><circle cx="371.7" cy="123.7" r="0.8"/><circle cx="375.7" cy="121.3" r="0.8"/><circle cx="383.1" cy="126.5" r="0.8"/><circle cx="383" cy="121.5" r="0.8"/><circle cx="382.9" cy="128.8" r="0.8"/><circle cx="379.5" cy="117.5" r="0.8"/><circle cx="382.6" cy="122.3" r="0.8"/><circle cx="387" cy="117.9" r="0.8"/><circle cx="385.7" cy="126.5" r="0.8"/><circle cx="387.9" cy="124.6" r="0.8"/><circle cx="379.4" cy="121.5" r="0.8"/><circle cx="379.7" cy="128.4" r="0.8"/><circle cx="376.3" cy="133.5" r="0.8"/><circle cx="380.4" cy="123.6" r="0.8"/><circle cx="380.6" cy="126.3" r="0.8"/><circle cx="371.2" cy="120.3" r="0.8"/><circle cx="377.6" cy="132.8" r="0.8"/><circle cx="380.5" cy="122.8" r="0.8"/><circle cx="379.8" cy="124.6" r="0.8"/><circle cx="373.8" cy="124.7" r="0.8"/><circle cx="378.2" cy="124.5" r="0.8"/><circle cx="373.4" cy="120.5" r="0.8"/><circle cx="386.2" cy="119" r="0.8"/><circle cx="389.6" cy="122.1" r="0.8"/><circle cx="367.4" cy="117.2" r="0.8"/><circle cx="381.3" cy="124.3" r="0.8"/><circle cx="380.4" cy="122.8" r="0.8"/><circle cx="379.3" cy="121.3" r="0.8"/><circle cx="379.6" cy="122.7" r="0.8"/><circle cx="377.4" cy="123.2" r="0.8"/><circle cx="401" cy="122.9" r="0.8"/><circle cx="413.7" cy="137.2" r="0.8"/><circle cx="389.1" cy="117.5" r="0.8"/><circle cx="379" cy="112.9" r="0.8"/><circle cx="415.4" cy="105.7" r="0.8"/><circle cx="367.7" cy="136.6" r="0.8"/><circle cx="412.9" cy="94.5" r="0.8"/><circle cx="369.5" cy="128" r="0.8"/><circle cx="338.2" cy="106" r="0.8"/><circle cx="363.3" cy="109.2" r="0.8"/><circle cx="363.3" cy="111.8" r="0.8"/><circle cx="422.9" cy="142.5" r="0.8"/><circle cx="422.7" cy="89.8" r="0.8"/><circle cx="375.9" cy="98.4" r="0.8"/><circle cx="357.8" cy="112.8" r="0.8"/><circle cx="375" cy="124.6" r="0.8"/><circle cx="380" cy="115.9" r="0.8"/><circle cx="401.9" cy="126.4" r="0.8"/><circle cx="382" cy="136.5" r="0.8"/><circle cx="369.4" cy="96.9" r="0.8"/><circle cx="380.5" cy="122.8" r="0.8"/><circle cx="379.3" cy="139.8" r="0.8"/><circle cx="379.4" cy="121.9" r="0.8"/><circle cx="387.5" cy="143.1" r="0.8"/><circle cx="355.4" cy="91" r="0.8"/><circle cx="364.4" cy="127.9" r="0.8"/><circle cx="373.2" cy="113.4" r="0.8"/><circle cx="392.6" cy="154.1" r="0.8"/><circle cx="395.8" cy="115.2" r="0.8"/><circle cx="397.4" cy="109.5" r="0.8"/><circle cx="371.4" cy="139" r="0.8"/><circle cx="410.2" cy="151.7" r="0.8"/><circle cx="380.6" cy="122.3" r="0.8"/><circle cx="375.5" cy="108.2" r="0.8"/><circle cx="382.9" cy="127.3" r="0.8"/><circle cx="377.5" cy="123.7" r="0.8"/><circle cx="365.8" cy="130" r="0.8"/><circle cx="365.2" cy="110.7" r="0.8"/><circle cx="380.4" cy="122.4" r="0.8"/><circle cx="389" cy="122.2" r="0.8"/><circle cx="382.7" cy="123.5" r="0.8"/><circle cx="405.6" cy="101.3" r="0.8"/><circle cx="371.2" cy="119.5" r="0.8"/><circle cx="379.6" cy="123.9" r="0.8"/><circle cx="383" cy="125.9" r="0.8"/><circle cx="336.9" cy="133.4" r="0.8"/><circle cx="380.6" cy="128.8" r="0.8"/><circle cx="400.6" cy="143.8" r="0.8"/><circle cx="370.7" cy="125.7" r="0.8"/><circle cx="363.1" cy="108.2" r="0.8"/><circle cx="415" cy="115.3" r="0.8"/><circle cx="376.6" cy="116.5" r="0.8"/><circle cx="391.3" cy="142.4" r="0.8"/><circle cx="417.6" cy="125.1" r="0.8"/><circle cx="382.9" cy="128" r="0.8"/><circle cx="377" cy="140.3" r="0.8"/><circle cx="349.5" cy="119.7" r="0.8"/><circle cx="379.3" cy="122.5" r="0.8"/><circle cx="386.3" cy="103.8" r="0.8"/><circle cx="419.8" cy="101" r="0.8"/><circle cx="375" cy="99.2" r="0.8"/><circle cx="402.2" cy="142.5" r="0.8"/><circle cx="388.2" cy="118.7" r="0.8"/><circle cx="347.8" cy="149" r="0.8"/><circle cx="386" cy="106.5" r="0.8"/><circle cx="412.1" cy="113.3" r="0.8"/><circle cx="382.2" cy="129.3" r="0.8"/><circle cx="377.5" cy="111.3" r="0.8"/><circle cx="373.7" cy="97.5" r="0.8"/><circle cx="392.5" cy="167.1" r="0.8"/><circle cx="419.4" cy="118.3" r="0.8"/><circle cx="374.8" cy="122" r="0.8"/><circle cx="397.3" cy="113.9" r="0.8"/><circle cx="383.6" cy="119.2" r="0.8"/><circle cx="372.4" cy="125.5" r="0.8"/><circle cx="377" cy="122.2" r="0.8"/><circle cx="407.3" cy="127.1" r="0.8"/><circle cx="394.5" cy="92.3" r="0.8"/><circle cx="387.9" cy="135.4" r="0.8"/><circle cx="378.4" cy="125.2" r="0.8"/><circle cx="387.7" cy="131.6" r="0.8"/><circle cx="372.4" cy="122.3" r="0.8"/><circle cx="363" cy="88" r="0.8"/><circle cx="435.5" cy="106.7" r="0.8"/><circle cx="382.4" cy="124.2" r="0.8"/><circle cx="383.5" cy="139" r="0.8"/><circle cx="379.6" cy="120.3" r="0.8"/><circle cx="350.4" cy="93.9" r="0.8"/><circle cx="373.8" cy="121" r="0.8"/><circle cx="367.1" cy="149.2" r="0.8"/><circle cx="405.7" cy="107.7" r="0.8"/><circle cx="389.7" cy="153" r="0.8"/><circle cx="329.4" cy="116.6" r="0.8"/><circle cx="371.9" cy="119.7" r="0.8"/><circle cx="351.5" cy="122.5" r="0.8"/><circle cx="369" cy="122.1" r="0.8"/><circle cx="372.1" cy="127.7" r="0.8"/><circle cx="350.6" cy="124.4" r="0.8"/><circle cx="370" cy="101.8" r="0.8"/><circle cx="369.6" cy="128.1" r="0.8"/><circle cx="396.3" cy="119.3" r="0.8"/><circle cx="371.3" cy="124.2" r="0.8"/><circle cx="408.4" cy="147" r="0.8"/><circle cx="394.6" cy="114.3" r="0.8"/><circle cx="373.6" cy="123.8" r="0.8"/><circle cx="369.4" cy="115" r="0.8"/><circle cx="405.7" cy="112.2" r="0.8"/><circle cx="410.2" cy="126.6" r="0.8"/><circle cx="381.8" cy="127.1" r="0.8"/><circle cx="364.1" cy="150.1" r="0.8"/><circle cx="374.9" cy="128.4" r="0.8"/><circle cx="379.1" cy="116.6" r="0.8"/><circle cx="393.1" cy="133.5" r="0.8"/><circle cx="380.4" cy="123.9" r="0.8"/><circle cx="358.8" cy="119.6" r="0.8"/><circle cx="372.2" cy="126.9" r="0.8"/><circle cx="371.4" cy="121.7" r="0.8"/><circle cx="370.7" cy="114.6" r="0.8"/><circle cx="350.1" cy="93.7" r="0.8"/><circle cx="373.3" cy="118.3" r="0.8"/><circle cx="382.7" cy="120.2" r="0.8"/><circle cx="394.6" cy="92.7" r="0.8"/><circle cx="386.9" cy="119" r="0.8"/><circle cx="397" cy="115.6" r="0.8"/><circle cx="390" cy="163.9" r="0.8"/><circle cx="380.3" cy="123.3" r="0.8"/><circle cx="380.2" cy="125.3" r="0.8"/><circle cx="395.2" cy="131.8" r="0.8"/><circle cx="398.6" cy="96" r="0.8"/><circle cx="394.2" cy="134.9" r="0.8"/><circle cx="378.5" cy="123.9" r="0.8"/><circle cx="381.3" cy="126.3" r="0.8"/><circle cx="357.8" cy="82.4" r="0.8"/><circle cx="405.1" cy="141.4" r="0.8"/><circle cx="378.5" cy="123" r="0.8"/><circle cx="368.8" cy="101.3" r="0.8"/><circle cx="383.9" cy="130.9" r="0.8"/><circle cx="384.8" cy="123.9" r="0.8"/><circle cx="350.4" cy="114.8" r="0.8"/><circle cx="381.8" cy="124.9" r="0.8"/><circle cx="385.3" cy="133" r="0.8"/><circle cx="424.2" cy="120.8" r="0.8"/><circle cx="386.4" cy="120.4" r="0.8"/><circle cx="384.6" cy="121.8" r="0.8"/><circle cx="378.1" cy="123.4" r="0.8"/><circle cx="359.1" cy="126.6" r="0.8"/><circle cx="350.5" cy="120.7" r="0.8"/><circle cx="393.9" cy="124" r="0.8"/><circle cx="377.4" cy="116.3" r="0.8"/><circle cx="367.9" cy="126" r="0.8"/><circle cx="379.1" cy="112.1" r="0.8"/><circle cx="384.5" cy="129.3" r="0.8"/><circle cx="329.3" cy="119.7" r="0.8"/><circle cx="381.6" cy="119.1" r="0.8"/><circle cx="373.9" cy="105.7" r="0.8"/><circle cx="358.4" cy="135.2" r="0.8"/><circle cx="380.6" cy="121.6" r="0.8"/><circle cx="378.2" cy="150.9" r="0.8"/><circle cx="383.7" cy="105.8" r="0.8"/><circle cx="396.9" cy="90.6" r="0.8"/><circle cx="400.9" cy="106.7" r="0.8"/><circle cx="378.5" cy="119.5" r="0.8"/><circle cx="346.1" cy="141.8" r="0.8"/><circle cx="376.6" cy="106.8" r="0.8"/><circle cx="370.7" cy="124.5" r="0.8"/><circle cx="401.2" cy="124.2" r="0.8"/><circle cx="360.7" cy="107.2" r="0.8"/><circle cx="383.8" cy="150.6" r="0.8"/><circle cx="373.6" cy="131.6" r="0.8"/><circle cx="365.5" cy="104.2" r="0.8"/><circle cx="370.3" cy="129.7" r="0.8"/><circle cx="403.5" cy="123" r="0.8"/><circle cx="382.2" cy="98.9" r="0.8"/><circle cx="412.8" cy="119.6" r="0.8"/><circle cx="379.7" cy="119.1" r="0.8"/><circle cx="379.7" cy="128.2" r="0.8"/><circle cx="381.5" cy="126.5" r="0.8"/><circle cx="369.4" cy="131.7" r="0.8"/><circle cx="388.8" cy="118.1" r="0.8"/><circle cx="403.3" cy="154.4" r="0.8"/><circle cx="398.4" cy="149" r="0.8"/><circle cx="383.1" cy="85.3" r="0.8"/><circle cx="360.4" cy="137.8" r="0.8"/><circle cx="393.9" cy="97.6" r="0.8"/><circle cx="412.9" cy="99" r="0.8"/><circle cx="344.6" cy="148.5" r="0.8"/><circle cx="373.1" cy="163.9" r="0.8"/><circle cx="389.3" cy="168.2" r="0.8"/><circle cx="425.1" cy="132.2" r="0.8"/><circle cx="389.9" cy="80.4" r="0.8"/><circle cx="381.1" cy="95.3" r="0.8"/><circle cx="354.6" cy="79.3" r="0.8"/><circle cx="369.3" cy="96.3" r="0.8"/><circle cx="402.7" cy="148.4" r="0.8"/><circle cx="358.6" cy="112.9" r="0.8"/><circle cx="383.9" cy="89.7" r="0.8"/><circle cx="367.4" cy="147.4" r="0.8"/><circle cx="340.1" cy="154.4" r="0.8"/><circle cx="401.6" cy="150" r="0.8"/><circle cx="377.3" cy="94.9" r="0.8"/><circle cx="392.4" cy="147.6" r="0.8"/><circle cx="437.8" cy="113.2" r="0.8"/><circle cx="406.3" cy="75.8" r="0.8"/><circle cx="413.9" cy="141.9" r="0.8"/><circle cx="342.9" cy="105.6" r="0.8"/><circle cx="414.1" cy="106.6" r="0.8"/><circle cx="378.9" cy="153.7" r="0.8"/><circle cx="362.7" cy="101.3" r="0.8"/><circle cx="374.3" cy="167.9" r="0.8"/><circle cx="434.7" cy="93.8" r="0.8"/><circle cx="349.3" cy="127.9" r="0.8"/><circle cx="394.2" cy="86.1" r="0.8"/><circle cx="418.1" cy="162.1" r="0.8"/><circle cx="328.2" cy="122.7" r="0.8"/><circle cx="333.3" cy="126.1" r="0.8"/><circle cx="335.5" cy="146.6" r="0.8"/><circle cx="404.7" cy="93.5" r="0.8"/><circle cx="391.1" cy="144.9" r="0.8"/><circle cx="411.9" cy="165.8" r="0.8"/><circle cx="412.1" cy="153.6" r="0.8"/><circle cx="376.8" cy="82.8" r="0.8"/><circle cx="371.3" cy="85.1" r="0.8"/><circle cx="350.4" cy="112.9" r="0.8"/><circle cx="332.7" cy="100.3" r="0.8"/><circle cx="339.5" cy="137" r="0.8"/><circle cx="420.2" cy="86.4" r="0.8"/><circle cx="352" cy="92.4" r="0.8"/><circle cx="413" cy="131.2" r="0.8"/><circle cx="348.1" cy="97.4" r="0.8"/><circle cx="346.5" cy="148.8" r="0.8"/><circle cx="363.5" cy="126.2" r="0.8"/><circle cx="425.2" cy="118.8" r="0.8"/><circle cx="442.3" cy="119.1" r="0.8"/><circle cx="388.4" cy="96.7" r="0.8"/><circle cx="344.7" cy="83.9" r="0.8"/><circle cx="364.8" cy="95" r="0.8"/><circle cx="390.7" cy="83.3" r="0.8"/><circle cx="335.6" cy="96.2" r="0.8"/><circle cx="382.7" cy="170.2" r="0.8"/><circle cx="397.1" cy="159.6" r="0.8"/><circle cx="362.5" cy="152.2" r="0.8"/><circle cx="376.4" cy="166" r="0.8"/><circle cx="350.9" cy="125.7" r="0.8"/><circle cx="389.6" cy="84" r="0.8"/><circle cx="427" cy="100.6" r="0.8"/><circle cx="334.8" cy="100" r="0.8"/><circle cx="382.5" cy="144.2" r="0.8"/><circle cx="369.4" cy="141.2" r="0.8"/><circle cx="338.4" cy="109.6" r="0.8"/><circle cx="381.8" cy="171.4" r="0.8"/><circle cx="426.7" cy="137.6" r="0.8"/><circle cx="371.5" cy="143.7" r="0.8"/><circle cx="354.5" cy="127.9" r="0.8"/><circle cx="381.4" cy="68.1" r="0.8"/><circle cx="350.7" cy="133.5" r="0.8"/><circle cx="360.9" cy="107.6" r="0.8"/><circle cx="391.4" cy="99.2" r="0.8"/><circle cx="366.7" cy="109.4" r="0.8"/><circle cx="406.8" cy="94.7" r="0.8"/><circle cx="394.2" cy="145.2" r="0.8"/><circle cx="366" cy="156.3" r="0.8"/><circle cx="337" cy="140.2" r="0.8"/><circle cx="411.9" cy="86.4" r="0.8"/><circle cx="427.6" cy="131" r="0.8"/><circle cx="353.1" cy="84" r="0.8"/><circle cx="340.6" cy="110.9" r="0.8"/><circle cx="372.6" cy="102.8" r="0.8"/><circle cx="375.8" cy="68.7" r="0.8"/><circle cx="374.4" cy="142.6" r="0.8"/></g>
<g fill="#4a86c8"><circle cx="382.4" cy="114.4" r="2.1"/><circle cx="383.8" cy="116.8" r="2.1"/><circle cx="379" cy="119.2" r="2.1"/><circle cx="385.8" cy="119.7" r="2.1"/><circle cx="387.7" cy="120.7" r="2.1"/><circle cx="383.8" cy="122.1" r="2.1"/><circle cx="391" cy="123.1" r="2.1"/><circle cx="380" cy="124.5" r="2.1"/><circle cx="382.4" cy="126" r="2.1"/><circle cx="387.7" cy="125.5" r="2.1"/><circle cx="389.1" cy="127.9" r="2.1"/><circle cx="381" cy="128.8" r="2.1"/><circle cx="383.8" cy="130.3" r="2.1"/><circle cx="388.2" cy="132.2" r="2.1"/><circle cx="378.1" cy="126.9" r="2.1"/><circle cx="376.6" cy="124" r="2.1"/><circle cx="385" cy="134.5" r="2.1"/><circle cx="390" cy="130" r="2.1"/></g>
<g fill="#d0101e"><circle cx="373.8" cy="118.8" r="2"/><circle cx="368" cy="120.7" r="1.6"/><circle cx="364.6" cy="125.5" r="1.5"/><circle cx="369.9" cy="126" r="2.2"/><circle cx="372.8" cy="124.5" r="1.8"/><circle cx="374.7" cy="127.4" r="1.8"/><circle cx="377.1" cy="126" r="1.8"/><circle cx="380.5" cy="122.6" r="1.8"/><circle cx="386.3" cy="122.1" r="1.6"/><circle cx="384.3" cy="128.8" r="1.8"/><circle cx="385.3" cy="128.4" r="1.6"/><circle cx="382.9" cy="133.7" r="1.6"/><circle cx="373.3" cy="131.3" r="1"/></g>
<g fill="#f2e51c"><circle cx="372.3" cy="121.2" r="2"/><circle cx="362.7" cy="119.7" r="1.5"/><circle cx="359.3" cy="112" r="0.8"/><circle cx="362.7" cy="110.1" r="0.8"/></g>
<g fill="#ef8a1c"><circle cx="370.9" cy="113.5" r="1.3"/><circle cx="365.1" cy="122.1" r="1.2"/><circle cx="371.8" cy="124" r="1.2"/><circle cx="376.2" cy="121.6" r="1.3"/></g>
<g fill="#9fe0c8"><circle cx="378.1" cy="113.5" r="1.2"/><circle cx="373.3" cy="128.4" r="1"/></g>
<g fill="#8a4a2a"><circle cx="399.2" cy="111.1" r="0.9"/><circle cx="401.2" cy="111.3" r="0.9"/><circle cx="404" cy="113" r="0.8"/><circle cx="392" cy="108" r="0.8"/></g>
<g fill="#6a2a9a"><circle cx="359.3" cy="101.9" r="0.9"/><circle cx="361.7" cy="100.5" r="0.9"/><circle cx="356.4" cy="104.8" r="0.9"/><circle cx="364" cy="97" r="0.8"/></g>
<ellipse cx="431" cy="143.5" rx="6" ry="5" fill="#d8ccf0" opacity="0.8"/>
<path d="M431.8,137.4L427,139.2M431.8,137.4L436.2,139.3M431.8,137.4L427.4,142.5M431.8,137.4L433.3,142.4M431.8,137.4L437.2,143.1M431.8,137.4L423.1,143.9M431.8,137.4L431.2,145.7M431.8,137.4L436.4,146.7M431.8,137.4L429.1,148.3M431.8,137.4L433.2,149M427,139.2L436.2,139.3M427,139.2L427.4,142.5M427,139.2L433.3,142.4M427,139.2L437.2,143.1M427,139.2L423.1,143.9M427,139.2L431.2,145.7M427,139.2L436.4,146.7M427,139.2L429.1,148.3M427,139.2L433.2,149M436.2,139.3L427.4,142.5M436.2,139.3L433.3,142.4M436.2,139.3L437.2,143.1M436.2,139.3L423.1,143.9M436.2,139.3L431.2,145.7M436.2,139.3L436.4,146.7M436.2,139.3L429.1,148.3M436.2,139.3L433.2,149M427.4,142.5L433.3,142.4M427.4,142.5L437.2,143.1M427.4,142.5L423.1,143.9M427.4,142.5L431.2,145.7M427.4,142.5L436.4,146.7M427.4,142.5L429.1,148.3M427.4,142.5L433.2,149M433.3,142.4L437.2,143.1M433.3,142.4L423.1,143.9M433.3,142.4L431.2,145.7M433.3,142.4L436.4,146.7M433.3,142.4L429.1,148.3M433.3,142.4L433.2,149M437.2,143.1L423.1,143.9M437.2,143.1L431.2,145.7M437.2,143.1L436.4,146.7M437.2,143.1L429.1,148.3M437.2,143.1L433.2,149M423.1,143.9L431.2,145.7M423.1,143.9L436.4,146.7M423.1,143.9L429.1,148.3M423.1,143.9L433.2,149M431.2,145.7L436.4,146.7M431.2,145.7L429.1,148.3M431.2,145.7L433.2,149M436.4,146.7L429.1,148.3M436.4,146.7L433.2,149M429.1,148.3L433.2,149" stroke="#a890e0" stroke-width="0.4" stroke-opacity="0.8" fill="none"/>
<path d="M431.8,137.4L377.3,128.6M431.8,137.4L372,133.5M427,139.2L378,123.4M427,139.2L375.5,123.9M436.2,139.3L378.1,134.3M436.2,139.3L379.1,116M427.4,142.5L379.9,122.5M427.4,142.5L384.4,129.7M433.3,142.4L377.1,123.5M433.3,142.4L383.3,125.7M437.2,143.1L375,122.1M437.2,143.1L378.5,126.5" stroke="#b0a8e0" stroke-width="0.3" stroke-opacity="0.6" fill="none"/>
<g fill="#3a9a2a"><circle cx="431.8" cy="137.4" r="1.15"/><circle cx="427" cy="139.2" r="1.15"/><circle cx="436.2" cy="139.3" r="1.15"/><circle cx="427.4" cy="142.5" r="1.15"/><circle cx="433.3" cy="142.4" r="1.15"/><circle cx="437.2" cy="143.1" r="1.15"/><circle cx="423.1" cy="143.9" r="1.15"/><circle cx="431.2" cy="145.7" r="1.15"/><circle cx="436.4" cy="146.7" r="1.15"/><circle cx="429.1" cy="148.3" r="1.15"/><circle cx="433.2" cy="149" r="1.15"/></g>
<polygon points="313,125.3 319.9,121 319.9,128.8" fill="#3c72ba"/>
<polygon points="409.5,64 416.2,58.6 416.9,66.6" fill="#e07c1c"/>
<polygon points="453.4,110.6 460.8,113.9 453.4,118.7" fill="#f0e21e" stroke="#b8a818" stroke-width="0.4"/>
<polygon points="331,76.1 338.8,78.3 333.4,83.7" fill="#c8102e"/>
<polygon points="339.5,164.2 345.7,168.8 338.1,171.7" fill="#7b3a9e"/>
<polygon points="446.2,150.2 441.4,156.6 449.8,157.4" fill="#4aa02c"/>
<text x="283.3" y="24.6" font-size="9.4" fill="#222" text-anchor="middle" textLength="49.5" lengthAdjust="spacingAndGlyphs" >RNA Splicing</text>
<path d="M265.5,31.3L263.5,42.1M265.5,31.3L253.5,35.4M265.5,31.3L278.8,32.9M265.5,31.3L274.3,51M265.5,31.3L282.1,45.3M265.5,31.3L264.2,53.8M265.5,31.3L250,50.5M265.5,31.3L287.2,53.6M253.5,35.4L263.5,42.1M253.5,35.4L250,50.5M253.5,35.4L264.2,53.8M253.5,35.4L278.8,32.9M253.5,35.4L274.3,51M253.5,35.4L282.1,45.3M253.5,35.4L287.2,53.6M278.8,32.9L282.1,45.3M278.8,32.9L263.5,42.1M278.8,32.9L274.3,51M278.8,32.9L287.2,53.6M278.8,32.9L296.5,47.4M278.8,32.9L302.5,35.8M302.5,35.8L296.5,47.4M302.5,35.8L308.8,47.6M302.5,35.8L319,45.9M302.5,35.8L305.1,55.7M302.5,35.8L282.1,45.3M302.5,35.8L287.2,53.6M302.5,35.8L296.1,60.9M263.5,42.1L264.2,53.8M263.5,42.1L274.3,51M263.5,42.1L250,50.5M263.5,42.1L282.1,45.3M263.5,42.1L287.2,53.6M282.1,45.3L274.3,51M282.1,45.3L287.2,53.6M282.1,45.3L296.5,47.4M282.1,45.3L286.9,62M282.1,45.3L264.2,53.8M282.1,45.3L296.1,60.9M296.5,47.4L287.2,53.6M296.5,47.4L305.1,55.7M296.5,47.4L308.8,47.6M296.5,47.4L296.1,60.9M296.5,47.4L286.9,62M296.5,47.4L308.8,63.2M308.8,47.6L305.1,55.7M308.8,47.6L319,45.9M308.8,47.6L308.8,63.2M308.8,47.6L296.1,60.9M308.8,47.6L327.6,52.8M308.8,47.6L287.2,53.6M319,45.9L327.6,52.8M319,45.9L305.1,55.7M319,45.9L325.3,64.1M319,45.9L308.8,63.2M319,45.9L296.5,47.4M319,45.9L296.1,60.9M250,50.5L264.2,53.8M250,50.5L274.3,51M250,50.5L282.1,45.3M250,50.5L278.8,32.9M250,50.5L287.2,53.6M274.3,51L264.2,53.8M274.3,51L287.2,53.6M274.3,51L286.9,62M274.3,51L296.5,47.4M264.2,53.8L287.2,53.6M264.2,53.8L286.9,62M287.2,53.6L286.9,62M287.2,53.6L296.1,60.9M287.2,53.6L288.3,71.3M287.2,53.6L305.1,55.7M305.1,55.7L308.8,63.2M305.1,55.7L296.1,60.9M305.1,55.7L304.8,74.7M305.1,55.7L286.9,62M327.6,52.8L325.3,64.1M327.6,52.8L308.8,63.2M327.6,52.8L305.1,55.7M327.6,52.8L302.5,35.8M327.6,52.8L296.5,47.4M327.6,52.8L304.8,74.7M296.1,60.9L286.9,62M296.1,60.9L308.8,63.2M296.1,60.9L288.3,71.3M296.1,60.9L304.8,74.7M308.8,63.2L304.8,74.7M308.8,63.2L325.3,64.1M286.9,62L288.3,71.3M286.9,62L308.8,63.2M325.3,64.1L305.1,55.7M325.3,64.1L304.8,74.7M325.3,64.1L308.8,47.6M325.3,64.1L296.1,60.9M325.3,64.1L296.5,47.4M288.3,71.3L304.8,74.7M288.3,71.3L308.8,63.2M288.3,71.3L305.1,55.7M288.3,71.3L274.3,51M288.3,71.3L296.5,47.4M304.8,74.7L286.9,62M304.8,74.7L308.8,47.6M304.8,74.7L287.2,53.6" stroke="#7a70c8" stroke-width="0.45" stroke-opacity="0.7" fill="none"/>
<g fill="#c8102e" stroke="#6a80c0" stroke-width="0.3"><circle cx="265.5" cy="31.3" r="1.9"/><circle cx="253.5" cy="35.4" r="1.7"/><circle cx="278.8" cy="32.9" r="2.0"/><circle cx="302.5" cy="35.8" r="1.5"/><circle cx="263.5" cy="42.1" r="1.9"/><circle cx="282.1" cy="45.3" r="1.7"/><circle cx="296.5" cy="47.4" r="2.6"/><circle cx="308.8" cy="47.6" r="2.2"/><circle cx="319" cy="45.9" r="1.8"/><circle cx="250" cy="50.5" r="1.6"/><circle cx="274.3" cy="51" r="2.1"/><circle cx="264.2" cy="53.8" r="2.0"/><circle cx="287.2" cy="53.6" r="1.5"/><circle cx="305.1" cy="55.7" r="2.9"/><circle cx="327.6" cy="52.8" r="1.5"/><circle cx="296.1" cy="60.9" r="2.3"/><circle cx="308.8" cy="63.2" r="2.3"/><circle cx="286.9" cy="62" r="1.5"/><circle cx="325.3" cy="64.1" r="1.5"/><circle cx="288.3" cy="71.3" r="1.6"/><circle cx="304.8" cy="74.7" r="1.5"/></g>
<text x="268" y="30.2" font-size="4.3" fill="#333" textLength="13.7" lengthAdjust="spacingAndGlyphs" >U2AF2</text>
<text x="255.8" y="37.5" font-size="4.3" fill="#333" textLength="12.8" lengthAdjust="spacingAndGlyphs" >CSTF1</text>
<text x="282.3" y="34.2" font-size="4.3" fill="#333" textLength="12.7" lengthAdjust="spacingAndGlyphs" >PRPF3</text>
<text x="304.8" y="37.6" font-size="4.3" fill="#333" textLength="9.8" lengthAdjust="spacingAndGlyphs" >PYGL</text>
<text x="265.7" y="41.4" font-size="4.3" fill="#333" textLength="21.1" lengthAdjust="spacingAndGlyphs" >HNRNPH2</text>
<text x="284.6" y="45.6" font-size="4.3" fill="#333" textLength="11" lengthAdjust="spacingAndGlyphs" >CCNK</text>
<text x="298.5" y="45.6" font-size="4.3" fill="#333" textLength="16.7" lengthAdjust="spacingAndGlyphs" >HDAC1</text>
<text x="310" y="50.3" font-size="4.3" fill="#333" textLength="15.6" lengthAdjust="spacingAndGlyphs" >SNRPA1A</text>
<text x="321" y="44.5" font-size="4.3" fill="#333" textLength="12" lengthAdjust="spacingAndGlyphs" >GNL3</text>
<text x="252.2" y="50.5" font-size="4.3" fill="#333" textLength="14.4" lengthAdjust="spacingAndGlyphs" >PFWD1</text>
<text x="277.2" y="52" font-size="4.3" fill="#333" textLength="13" lengthAdjust="spacingAndGlyphs" >CSTF3</text>
<text x="266.2" y="57.8" font-size="4.3" fill="#333" textLength="16.8" lengthAdjust="spacingAndGlyphs" >POLR2H</text>
<text x="289.2" y="56.6" font-size="4.3" fill="#333" textLength="10.4" lengthAdjust="spacingAndGlyphs" >CMI1</text>
<text x="309.4" y="57.2" font-size="4.3" fill="#333" textLength="12.7" lengthAdjust="spacingAndGlyphs" >MAT2A</text>
<text x="329.6" y="54.3" font-size="4.3" fill="#333" textLength="11.4" lengthAdjust="spacingAndGlyphs" >PYCR3</text>
<text x="311.7" y="64.2" font-size="4.3" fill="#333" textLength="17.9" lengthAdjust="spacingAndGlyphs" >DNAJA2</text>
<text x="287.5" y="67" font-size="4.3" fill="#333" textLength="15" lengthAdjust="spacingAndGlyphs" >POLR2F</text>
<text x="327.3" y="68.1" font-size="4.3" fill="#333" textLength="11.7" lengthAdjust="spacingAndGlyphs" >PMM2</text>
<text x="291" y="72.8" font-size="4.3" fill="#333" textLength="10.3" lengthAdjust="spacingAndGlyphs" >UTP4</text>
<text x="307.1" y="76.2" font-size="4.3" fill="#333" textLength="8.7" lengthAdjust="spacingAndGlyphs" >DIS3</text>
<text x="269.2" y="109.2" font-size="9.5" fill="#222" text-anchor="middle" textLength="101.9" lengthAdjust="spacingAndGlyphs" >Nonsense Mediated Decay</text>
<ellipse cx="273" cy="129" rx="14" ry="12" fill="#c8a8e0" opacity="0.6"/>
<path d="M266.2,117.2L274.7,114.5M266.2,117.2L281.8,118.1M266.2,117.2L262.6,122.8M266.2,117.2L273.8,121.5M266.2,117.2L282.8,122.1M266.2,117.2L288.8,125.5M266.2,117.2L255.9,128.9M266.2,117.2L268.4,127.5M266.2,117.2L279.4,127.9M266.2,117.2L287.2,132M266.2,117.2L262.6,133.8M266.2,117.2L274,132.9M266.2,117.2L282.8,136.9M266.2,117.2L264.3,139.6M266.2,117.2L271.3,142.3M266.2,117.2L278.7,142.3M274.7,114.5L281.8,118.1M274.7,114.5L262.6,122.8M274.7,114.5L273.8,121.5M274.7,114.5L282.8,122.1M274.7,114.5L288.8,125.5M274.7,114.5L255.9,128.9M274.7,114.5L268.4,127.5M274.7,114.5L279.4,127.9M274.7,114.5L287.2,132M274.7,114.5L262.6,133.8M274.7,114.5L274,132.9M274.7,114.5L282.8,136.9M274.7,114.5L264.3,139.6M274.7,114.5L271.3,142.3M274.7,114.5L278.7,142.3M281.8,118.1L262.6,122.8M281.8,118.1L273.8,121.5M281.8,118.1L282.8,122.1M281.8,118.1L288.8,125.5M281.8,118.1L255.9,128.9M281.8,118.1L268.4,127.5M281.8,118.1L279.4,127.9M281.8,118.1L287.2,132M281.8,118.1L262.6,133.8M281.8,118.1L274,132.9M281.8,118.1L282.8,136.9M281.8,118.1L264.3,139.6M281.8,118.1L271.3,142.3M281.8,118.1L278.7,142.3M262.6,122.8L273.8,121.5M262.6,122.8L282.8,122.1M262.6,122.8L288.8,125.5M262.6,122.8L255.9,128.9M262.6,122.8L268.4,127.5M262.6,122.8L279.4,127.9M262.6,122.8L287.2,132M262.6,122.8L262.6,133.8M262.6,122.8L274,132.9M262.6,122.8L282.8,136.9M262.6,122.8L264.3,139.6M262.6,122.8L271.3,142.3M262.6,122.8L278.7,142.3M273.8,121.5L282.8,122.1M273.8,121.5L288.8,125.5M273.8,121.5L255.9,128.9M273.8,121.5L268.4,127.5M273.8,121.5L279.4,127.9M273.8,121.5L287.2,132M273.8,121.5L262.6,133.8M273.8,121.5L274,132.9M273.8,121.5L282.8,136.9M273.8,121.5L264.3,139.6M273.8,121.5L271.3,142.3M273.8,121.5L278.7,142.3M282.8,122.1L288.8,125.5M282.8,122.1L255.9,128.9M282.8,122.1L268.4,127.5M282.8,122.1L279.4,127.9M282.8,122.1L287.2,132M282.8,122.1L262.6,133.8M282.8,122.1L274,132.9M282.8,122.1L282.8,136.9M282.8,122.1L264.3,139.6M282.8,122.1L271.3,142.3M282.8,122.1L278.7,142.3M288.8,125.5L255.9,128.9M288.8,125.5L268.4,127.5M288.8,125.5L279.4,127.9M288.8,125.5L287.2,132M288.8,125.5L262.6,133.8M288.8,125.5L274,132.9M288.8,125.5L282.8,136.9M288.8,125.5L264.3,139.6M288.8,125.5L271.3,142.3M288.8,125.5L278.7,142.3M255.9,128.9L268.4,127.5M255.9,128.9L279.4,127.9M255.9,128.9L287.2,132M255.9,128.9L262.6,133.8M255.9,128.9L274,132.9M255.9,128.9L282.8,136.9M255.9,128.9L264.3,139.6M255.9,128.9L271.3,142.3M255.9,128.9L278.7,142.3M268.4,127.5L279.4,127.9M268.4,127.5L287.2,132M268.4,127.5L262.6,133.8M268.4,127.5L274,132.9M268.4,127.5L282.8,136.9M268.4,127.5L264.3,139.6M268.4,127.5L271.3,142.3M268.4,127.5L278.7,142.3M279.4,127.9L287.2,132M279.4,127.9L262.6,133.8M279.4,127.9L274,132.9M279.4,127.9L282.8,136.9M279.4,127.9L264.3,139.6M279.4,127.9L271.3,142.3M279.4,127.9L278.7,142.3M287.2,132L262.6,133.8M287.2,132L274,132.9M287.2,132L282.8,136.9M287.2,132L264.3,139.6M287.2,132L271.3,142.3M287.2,132L278.7,142.3M262.6,133.8L274,132.9M262.6,133.8L282.8,136.9M262.6,133.8L264.3,139.6M262.6,133.8L271.3,142.3M262.6,133.8L278.7,142.3M274,132.9L282.8,136.9M274,132.9L264.3,139.6M274,132.9L271.3,142.3M274,132.9L278.7,142.3M282.8,136.9L264.3,139.6M282.8,136.9L271.3,142.3M282.8,136.9L278.7,142.3M264.3,139.6L271.3,142.3M264.3,139.6L278.7,142.3M271.3,142.3L278.7,142.3" stroke="#8a5ab8" stroke-width="0.4" stroke-opacity="0.45" fill="none"/>
<g fill="#3f78c0" stroke="#3060a8" stroke-width="0.35"><circle cx="266.2" cy="117.2" r="3"/><circle cx="274.7" cy="114.5" r="3"/><circle cx="281.8" cy="118.1" r="3"/><circle cx="262.6" cy="122.8" r="3"/><circle cx="273.8" cy="121.5" r="3"/><circle cx="282.8" cy="122.1" r="3"/><circle cx="288.8" cy="125.5" r="2.7"/><circle cx="255.9" cy="128.9" r="2.4"/><circle cx="268.4" cy="127.5" r="3"/><circle cx="279.4" cy="127.9" r="3"/><circle cx="287.2" cy="132" r="2.5"/><circle cx="262.6" cy="133.8" r="3"/><circle cx="274" cy="132.9" r="3"/><circle cx="282.8" cy="136.9" r="3"/><circle cx="264.3" cy="139.6" r="3"/><circle cx="271.3" cy="142.3" r="3"/><circle cx="278.7" cy="142.3" r="3"/></g>
<text x="279.1" y="114.6" font-size="4.3" fill="#333" textLength="11.8" lengthAdjust="spacingAndGlyphs" >RPS21</text>
<text x="259.9" y="118.2" font-size="4.3" fill="#333" textLength="11.4" lengthAdjust="spacingAndGlyphs" >RPS4X</text>
<text x="286.1" y="119.2" font-size="4.3" fill="#333" textLength="12.2" lengthAdjust="spacingAndGlyphs" >RPS29</text>
<text x="244.7" y="123.6" font-size="4.3" fill="#333" textLength="12.5" lengthAdjust="spacingAndGlyphs" >RPL32</text>
<text x="272" y="123" font-size="4.3" fill="#333" textLength="14.8" lengthAdjust="spacingAndGlyphs" >RPL11A</text>
<text x="291.5" y="126.8" font-size="4.3" fill="#333" textLength="10.1" lengthAdjust="spacingAndGlyphs" >SSR2</text>
<text x="237.4" y="130.5" font-size="4.3" fill="#333" textLength="17.1" lengthAdjust="spacingAndGlyphs" >NCBP1</text>
<text x="261.2" y="130.5" font-size="4.3" fill="#333" textLength="10.8" lengthAdjust="spacingAndGlyphs" >RPS11</text>
<text x="276.7" y="129.8" font-size="4.3" fill="#333" textLength="10.8" lengthAdjust="spacingAndGlyphs" >RPL41</text>
<text x="292.2" y="133.6" font-size="4.3" fill="#333" textLength="9.4" lengthAdjust="spacingAndGlyphs" >EIF3E</text>
<text x="247.8" y="136.9" font-size="4.3" fill="#333" textLength="13.4" lengthAdjust="spacingAndGlyphs" >RPS23</text>
<text x="272.4" y="134.5" font-size="4.3" fill="#333" textLength="4.3" lengthAdjust="spacingAndGlyphs" >RPL</text>
<text x="286.8" y="138.2" font-size="4.3" fill="#333" textLength="15.5" lengthAdjust="spacingAndGlyphs" >RPL35A</text>
<text x="253.2" y="141.9" font-size="4.3" fill="#333" textLength="14.1" lengthAdjust="spacingAndGlyphs" >RPS27</text>
<text x="282.8" y="145.7" font-size="4.3" fill="#333" textLength="8.7" lengthAdjust="spacingAndGlyphs" >RPL4</text>
<text x="268" y="148.9" font-size="4.3" fill="#333" textLength="10.1" lengthAdjust="spacingAndGlyphs" >RPL3</text>
<text x="286" y="175" font-size="9.2" fill="#222" text-anchor="middle" textLength="95" lengthAdjust="spacingAndGlyphs" >Mitochondrial Translation</text>
<path d="M304.3,180.8L319.5,179.8M304.3,180.8L312.1,190.9M304.3,180.8L325.3,193.5M304.3,180.8L300.6,196M304.3,180.8L314.2,203.7M319.5,179.8L312.1,190.9M319.5,179.8L325.3,193.5M319.5,179.8L300.6,196M319.5,179.8L314.2,203.7M312.1,190.9L325.3,193.5M312.1,190.9L300.6,196M312.1,190.9L314.2,203.7M325.3,193.5L300.6,196M325.3,193.5L314.2,203.7M300.6,196L314.2,203.7" stroke="#7a70c8" stroke-width="0.5" stroke-opacity="0.8" fill="none"/>
<g fill="#7a30a0" stroke="#6a80d0" stroke-width="0.35"><circle cx="304.3" cy="180.8" r="1.5"/><circle cx="319.5" cy="179.8" r="1.5"/><circle cx="312.1" cy="190.9" r="1.5"/><circle cx="325.3" cy="193.5" r="1.5"/><circle cx="300.6" cy="196" r="1.5"/><circle cx="314.2" cy="203.7" r="1.5"/></g>
<text x="321.4" y="181.4" font-size="4.3" fill="#333" textLength="14.5" lengthAdjust="spacingAndGlyphs" >MRPS6</text>
<text x="301" y="185.9" font-size="4.3" fill="#333" textLength="15.3" lengthAdjust="spacingAndGlyphs" >MRPL45</text>
<text x="313.8" y="191.8" font-size="4.3" fill="#333" textLength="12" lengthAdjust="spacingAndGlyphs" >MRPL3</text>
<text x="327.2" y="195.1" font-size="4.3" fill="#333" textLength="18.8" lengthAdjust="spacingAndGlyphs" >MRPS18C</text>
<text x="302.7" y="197.2" font-size="4.3" fill="#333" textLength="14.4" lengthAdjust="spacingAndGlyphs" >MRPS7</text>
<text x="316.6" y="205" font-size="4.3" fill="#333" textLength="15.9" lengthAdjust="spacingAndGlyphs" >MRPL40</text>
<text x="474.8" y="28.3" font-size="9.0" fill="#222" text-anchor="middle" textLength="44.2" lengthAdjust="spacingAndGlyphs" >Metabolism</text>
<path d="M433.2,22.5L418.1,28.9M433.2,22.5L440.7,30.2M433.2,22.5L424.3,39M433.2,22.5L434.2,45.6M433.2,22.5L413.3,49.6M418.1,28.9L440.7,30.2M418.1,28.9L424.3,39M418.1,28.9L434.2,45.6M418.1,28.9L413.3,49.6M440.7,30.2L424.3,39M440.7,30.2L434.2,45.6M440.7,30.2L413.3,49.6M424.3,39L434.2,45.6M424.3,39L413.3,49.6M434.2,45.6L413.3,49.6" stroke="#6a5ec0" stroke-width="0.5" stroke-opacity="0.8" fill="none"/>
<g fill="#e07010" stroke="#7a90d0" stroke-width="0.35"><circle cx="433.2" cy="22.5" r="1.6"/><circle cx="418.1" cy="28.9" r="1.6"/><circle cx="440.7" cy="30.2" r="1.6"/><circle cx="424.3" cy="39" r="1.6"/><circle cx="434.2" cy="45.6" r="1.6"/><circle cx="413.3" cy="49.6" r="1.6"/></g>
<text x="435.4" y="24.1" font-size="4.3" fill="#333" textLength="13" lengthAdjust="spacingAndGlyphs" >DIMT1</text>
<text x="420" y="30.4" font-size="4.3" fill="#333" textLength="16.4" lengthAdjust="spacingAndGlyphs" >HSPA13</text>
<text x="442.6" y="31.8" font-size="4.3" fill="#333" textLength="7.7" lengthAdjust="spacingAndGlyphs" >TKT</text>
<text x="426.3" y="40.5" font-size="4.3" fill="#333" textLength="15.8" lengthAdjust="spacingAndGlyphs" >GAPDH</text>
<text x="436.4" y="47.1" font-size="4.3" fill="#333" textLength="11.5" lengthAdjust="spacingAndGlyphs" >ENO3</text>
<text x="415.5" y="51.1" font-size="4.3" fill="#333" textLength="11.3" lengthAdjust="spacingAndGlyphs" >GOT1</text>
<text x="490" y="92.7" font-size="9.0" fill="#222" text-anchor="middle" textLength="44.3" lengthAdjust="spacingAndGlyphs" >Proteasome</text>
<path d="M477.9,98.1L491.9,106M477.9,98.1L469.8,112.1M477.9,98.1L484,120M491.9,106L469.8,112.1M491.9,106L484,120M469.8,112.1L484,120" stroke="#6a5ec0" stroke-width="0.5" stroke-opacity="0.8" fill="none"/>
<g fill="#f0e21e" stroke="#8a8a70" stroke-width="0.35"><circle cx="477.9" cy="98.1" r="1.5"/><circle cx="491.9" cy="106" r="1.5"/><circle cx="469.8" cy="112.1" r="1.5"/><circle cx="484" cy="120" r="1.5"/></g>
<text x="480" y="99.6" font-size="4.3" fill="#333" textLength="11.3" lengthAdjust="spacingAndGlyphs" >BTRC</text>
<text x="494.4" y="107.5" font-size="4.3" fill="#333" textLength="15" lengthAdjust="spacingAndGlyphs" >HUWE1</text>
<text x="471.9" y="114" font-size="4.3" fill="#333" textLength="16.2" lengthAdjust="spacingAndGlyphs" >PRMAN</text>
<text x="486.3" y="121.5" font-size="4.3" fill="#333" textLength="15" lengthAdjust="spacingAndGlyphs" >FBXL20</text>
<text x="483.9" y="155.8" font-size="9.4" fill="#222" text-anchor="middle" textLength="49.8" lengthAdjust="spacingAndGlyphs" >DNA Binding</text>
<ellipse cx="470" cy="174" rx="13" ry="12" fill="#d0b8ee" opacity="0.55"/>
<path d="M470.3,159.7L460.9,164.7M470.3,159.7L481,164.7M470.3,159.7L472.3,168.1M470.3,159.7L456.4,174.2M470.3,159.7L464.9,175.9M470.3,159.7L474.3,177.2M470.3,159.7L484.4,174.2M470.3,159.7L461.5,184.6M470.3,159.7L471.2,187.6M470.3,159.7L480.8,183.7M460.9,164.7L481,164.7M460.9,164.7L472.3,168.1M460.9,164.7L456.4,174.2M460.9,164.7L464.9,175.9M460.9,164.7L474.3,177.2M460.9,164.7L484.4,174.2M460.9,164.7L461.5,184.6M460.9,164.7L471.2,187.6M460.9,164.7L480.8,183.7M481,164.7L472.3,168.1M481,164.7L456.4,174.2M481,164.7L464.9,175.9M481,164.7L474.3,177.2M481,164.7L484.4,174.2M481,164.7L461.5,184.6M481,164.7L471.2,187.6M481,164.7L480.8,183.7M472.3,168.1L456.4,174.2M472.3,168.1L464.9,175.9M472.3,168.1L474.3,177.2M472.3,168.1L484.4,174.2M472.3,168.1L461.5,184.6M472.3,168.1L471.2,187.6M472.3,168.1L480.8,183.7M456.4,174.2L464.9,175.9M456.4,174.2L474.3,177.2M456.4,174.2L484.4,174.2M456.4,174.2L461.5,184.6M456.4,174.2L471.2,187.6M456.4,174.2L480.8,183.7M464.9,175.9L474.3,177.2M464.9,175.9L484.4,174.2M464.9,175.9L461.5,184.6M464.9,175.9L471.2,187.6M464.9,175.9L480.8,183.7M474.3,177.2L484.4,174.2M474.3,177.2L461.5,184.6M474.3,177.2L471.2,187.6M474.3,177.2L480.8,183.7M484.4,174.2L461.5,184.6M484.4,174.2L471.2,187.6M484.4,174.2L480.8,183.7M461.5,184.6L471.2,187.6M461.5,184.6L480.8,183.7M471.2,187.6L480.8,183.7" stroke="#7a5ac8" stroke-width="0.45" stroke-opacity="0.6" fill="none"/>
<g fill="#5aaa3c" stroke="#3a70b0" stroke-width="0.35"><circle cx="470.3" cy="159.7" r="2.3"/><circle cx="460.9" cy="164.7" r="2.3"/><circle cx="481" cy="164.7" r="2.3"/><circle cx="472.3" cy="168.1" r="2.3"/><circle cx="456.4" cy="174.2" r="2.3"/><circle cx="464.9" cy="175.9" r="2.3"/><circle cx="474.3" cy="177.2" r="2.3"/><circle cx="484.4" cy="174.2" r="2.3"/><circle cx="461.5" cy="184.6" r="2.3"/><circle cx="471.2" cy="187.6" r="2.3"/><circle cx="480.8" cy="183.7" r="2.3"/></g>
<text x="473.6" y="160.9" font-size="4.3" fill="#333" textLength="10.1" lengthAdjust="spacingAndGlyphs" >ZNF7</text>
<text x="484.4" y="166" font-size="4.3" fill="#333" textLength="18.2" lengthAdjust="spacingAndGlyphs" >ZNF780B</text>
<text x="464" y="166" font-size="4.3" fill="#333" textLength="11.7" lengthAdjust="spacingAndGlyphs" >ZNF480</text>
<text x="475.7" y="170.1" font-size="4.3" fill="#333" textLength="15.2" lengthAdjust="spacingAndGlyphs" >ZNF426</text>
<text x="445.4" y="172.5" font-size="4.3" fill="#333" textLength="16.1" lengthAdjust="spacingAndGlyphs" >ZNF490</text>
<text x="487.8" y="175.4" font-size="4.3" fill="#333" textLength="14.8" lengthAdjust="spacingAndGlyphs" >ZNF227</text>
<text x="454.1" y="180.8" font-size="4.3" fill="#333" textLength="15.8" lengthAdjust="spacingAndGlyphs" >ZNF506</text>
<text x="476.3" y="180.2" font-size="4.3" fill="#333" textLength="13.8" lengthAdjust="spacingAndGlyphs" >ZNF14</text>
<text x="484.4" y="185.2" font-size="4.3" fill="#333" textLength="15.5" lengthAdjust="spacingAndGlyphs" >ZNF33B</text>
<text x="474.3" y="190.5" font-size="4.3" fill="#333" textLength="15.5" lengthAdjust="spacingAndGlyphs" >ZNF484</text>
<text x="448.3" y="192.7" font-size="4.3" fill="#333" textLength="15.7" lengthAdjust="spacingAndGlyphs" >ZNF510</text>
<g stroke="#222" stroke-width="1.5" fill="none">
<line x1="44" y1="233.5" x2="44" y2="443.85"/>
<line x1="43.25" y1="443.1" x2="228.3" y2="443.1"/>
<line x1="41.4" y1="246.8" x2="44" y2="246.8"/>
<line x1="41.4" y1="284.5" x2="44" y2="284.5"/>
<line x1="41.4" y1="322.1" x2="44" y2="322.1"/>
<line x1="41.4" y1="359.8" x2="44" y2="359.8"/>
<line x1="41.4" y1="397.4" x2="44" y2="397.4"/>
<line x1="41.4" y1="435.1" x2="44" y2="435.1"/>
<line x1="78" y1="443.1" x2="78" y2="445.90000000000003"/>
<line x1="134.8" y1="443.1" x2="134.8" y2="445.90000000000003"/>
<line x1="191.7" y1="443.1" x2="191.7" y2="445.90000000000003"/>
</g>
<text x="38.2" y="249.1" font-size="6.4" fill="#333" text-anchor="end" textLength="6.2" lengthAdjust="spacingAndGlyphs" >10</text>
<text x="38.2" y="286.8" font-size="6.4" fill="#333" text-anchor="end" textLength="3.6" lengthAdjust="spacingAndGlyphs" >5</text>
<text x="38.2" y="324.4" font-size="6.4" fill="#333" text-anchor="end" textLength="3.6" lengthAdjust="spacingAndGlyphs" >0</text>
<text x="38.2" y="362.1" font-size="6.4" fill="#333" text-anchor="end" textLength="6.2" lengthAdjust="spacingAndGlyphs" >−5</text>
<text x="38.2" y="399.7" font-size="6.4" fill="#333" text-anchor="end" textLength="9.9" lengthAdjust="spacingAndGlyphs" >−10</text>
<text x="38.2" y="437.4" font-size="6.4" fill="#333" text-anchor="end" textLength="9.9" lengthAdjust="spacingAndGlyphs" >−15</text>
<text x="78" y="454.7" font-size="6.4" fill="#333" text-anchor="middle" textLength="9.9" lengthAdjust="spacingAndGlyphs" >−10</text>
<text x="134.8" y="454.7" font-size="6.4" fill="#333" text-anchor="middle" textLength="3.6" lengthAdjust="spacingAndGlyphs" >0</text>
<text x="191.7" y="454.7" font-size="6.4" fill="#333" text-anchor="middle" textLength="6.2" lengthAdjust="spacingAndGlyphs" >10</text>
<text x="135.8" y="466" font-size="8.1" fill="#333" text-anchor="middle" textLength="24.2" lengthAdjust="spacingAndGlyphs" >UMAP_1</text>
<text transform="translate(22.6,338.3) rotate(-90)" font-size="8.1" fill="#333" text-anchor="middle" textLength="24.8" lengthAdjust="spacingAndGlyphs">UMAP_2</text>
<polygon points="73.6,308.2 76.8,311.4 80.1,317 82.4,322.5 83.8,328.1 84.1,334.6 83.8,341.1 82.9,343.9 78.7,345.2 73.1,345.2 69.4,343.9 66.5,341.5 68.5,339.2 68,331.8 69,325.3 69.9,318.8 71.3,312.3" fill="#6a9bd4" stroke="#6a9bd4" stroke-width="1" stroke-linejoin="round"/>
<polygon points="113.2,282.4 115.8,283.8 118.4,287.5 121.1,293.8 122.6,300.1 125.8,307.5 127.9,314.8 126.8,320.1 123.7,324.3 118.9,323.8 113.7,320.1 108.4,313.8 105.3,306.4 104.7,299.1 105.8,290.6 108.4,284.8" fill="#64b4dc" stroke="#64b4dc" stroke-width="1" stroke-linejoin="round"/>
<polygon points="153,243 156,244.5 157.3,248 157,253 156.5,258 157,264 156.5,269 154.5,274 150.5,277.5 146.5,278.2 143.5,275 142.3,268 142.3,260 143.5,253 146,247.5 149.5,244" fill="#9288c0" stroke="#9288c0" stroke-width="1" stroke-linejoin="round"/>
<polygon points="180.2,290.2 181.1,286.9 184.3,283.2 188.9,277.7 193.5,273.1 198.2,269.4 203.7,266.6 209.2,266.4 214.8,269.4 218.5,274.9 220.3,281.4 219.4,287.9 217.1,293.4 214.8,297.1 210.2,298.9 203.7,299.9 196.3,298.9 188.9,296.2 183.4,293.4" fill="#80b83e" stroke="#80b83e" stroke-width="1" stroke-linejoin="round"/>
<polygon points="153.8,317.4 156.5,316.1 160.5,315.4 166.6,315.4 165.9,317.4 162.5,320.1 158.5,322.8 155.1,324.1 153.4,322.1 153.8,319.4" fill="#d45a9e" stroke="#d45a9e" stroke-width="1" stroke-linejoin="round"/>
<polygon points="154.4,325.5 153.8,328.8 152.4,331.5 153.1,334.2 155.1,336.2 151.7,337.6 148.4,337.6 146.4,335.6 149.1,332.2 151.7,328.8 153.1,326.2" fill="#c2185b" stroke="#c2185b" stroke-width="1" stroke-linejoin="round"/>
<polygon points="160,333 161,333.5 165,336.5 169,339.5 173,341 175.5,343.5 176,347 174.5,350.5 171.5,352.8 167.5,353 164.5,351 162.5,347.5 160.5,343.5 159.5,339 159,335" fill="#62ae98" stroke="#62ae98" stroke-width="1" stroke-linejoin="round"/>
<polygon points="118.2,359.2 119.8,360.4 123,362 127,362.8 131,361.6 135,360.8 139,359.2 143,358.4 146,356 146.6,352 145.8,347.5 147,351 147.5,357.6 148.6,360 149,364.8 147,369.6 143,373.6 138.2,376 134.5,378.2 133.4,379 131,375.2 127,372 123.8,368.8 121.4,364.8" fill="#aca234" stroke="#aca234" stroke-width="1" stroke-linejoin="round"/>
<polygon points="181.4,378.8 186.3,372.7 191.7,368.1 195.5,364.3 198.5,362.1 200.8,360.9 206.8,362.1 211.4,367.4 212.1,371.2 209.9,375.7 206.1,381 203,386.3 197,389.4 190.9,389.4 185.6,385.6 182.6,380.3" fill="#d9746f" stroke="#d9746f" stroke-width="1" stroke-linejoin="round"/>
<polygon points="160,410.5 163,412 170,415.5 177,419 182.5,421.8 182,424 178,428 174,432 171,433.5 169.5,431 166,424 162,416 159.5,411.5" fill="#6cae66" stroke="#6cae66" stroke-width="1" stroke-linejoin="round"/>
<g fill="#9288c0" opacity="1.0"><circle cx="159.1" cy="255.8" r="0.55"/><circle cx="157.7" cy="256.2" r="0.55"/><circle cx="159" cy="260.2" r="0.55"/><circle cx="160" cy="262.4" r="0.55"/><circle cx="159.7" cy="257.8" r="0.55"/><circle cx="160.5" cy="256" r="0.55"/><circle cx="162.4" cy="257.4" r="0.55"/><circle cx="159" cy="260.1" r="0.55"/><circle cx="157.5" cy="259.9" r="0.55"/><circle cx="162" cy="257" r="0.55"/><circle cx="162.7" cy="258.8" r="0.55"/><circle cx="161.5" cy="258.2" r="0.55"/><circle cx="159.1" cy="256.4" r="0.55"/><circle cx="159.5" cy="262.1" r="0.55"/><circle cx="158.8" cy="255.9" r="0.55"/><circle cx="161.6" cy="259.4" r="0.55"/><circle cx="156.7" cy="258.3" r="0.55"/><circle cx="159.3" cy="254.8" r="0.55"/><circle cx="158.6" cy="258.7" r="0.55"/><circle cx="157.8" cy="261.1" r="0.55"/><circle cx="156.9" cy="255.9" r="0.55"/><circle cx="158.2" cy="257.6" r="0.55"/><circle cx="161.5" cy="257.2" r="0.55"/><circle cx="161" cy="262.3" r="0.55"/><circle cx="160.4" cy="260.7" r="0.55"/><circle cx="160.5" cy="257.7" r="0.55"/><circle cx="157.1" cy="255.3" r="0.55"/><circle cx="157.6" cy="255.6" r="0.55"/></g>
<polygon points="155.5,331 158,331.5 161,333.5 160,338 161,343.5 158.5,339 156.5,335" fill="#62ae98" opacity="0.8"/>
<g fill="#aca234" opacity="1.0"><circle cx="129.9" cy="360.2" r="0.6"/><circle cx="132.8" cy="358.6" r="0.6"/><circle cx="133.1" cy="360.2" r="0.6"/><circle cx="135.2" cy="359.9" r="0.6"/><circle cx="138.3" cy="353.8" r="0.6"/><circle cx="123.6" cy="361" r="0.6"/><circle cx="140.6" cy="353" r="0.6"/><circle cx="126.1" cy="360.6" r="0.6"/><circle cx="129.2" cy="358.1" r="0.6"/><circle cx="143.2" cy="357.7" r="0.6"/><circle cx="124.1" cy="360.6" r="0.6"/><circle cx="123.2" cy="359.3" r="0.6"/><circle cx="123.9" cy="360.8" r="0.6"/><circle cx="127.4" cy="358.9" r="0.6"/><circle cx="132.9" cy="360.1" r="0.6"/><circle cx="133.8" cy="356.3" r="0.6"/><circle cx="140.8" cy="356.9" r="0.6"/><circle cx="144.9" cy="352.6" r="0.6"/><circle cx="137.6" cy="358.3" r="0.6"/><circle cx="124.9" cy="360.2" r="0.6"/><circle cx="138.5" cy="359.1" r="0.6"/><circle cx="125.5" cy="362.3" r="0.6"/><circle cx="132.4" cy="357.7" r="0.6"/><circle cx="142.9" cy="353.6" r="0.6"/><circle cx="130.9" cy="358.4" r="0.6"/><circle cx="123.3" cy="360" r="0.6"/><circle cx="127.2" cy="361.9" r="0.6"/><circle cx="128.6" cy="361" r="0.6"/><circle cx="145" cy="354.1" r="0.6"/><circle cx="142.2" cy="355.4" r="0.6"/><circle cx="126.2" cy="360.5" r="0.6"/><circle cx="139.8" cy="356.1" r="0.6"/><circle cx="129.1" cy="361" r="0.6"/><circle cx="136.1" cy="358.7" r="0.6"/><circle cx="137.7" cy="354.3" r="0.6"/><circle cx="138.1" cy="354" r="0.6"/><circle cx="126.7" cy="360.3" r="0.6"/><circle cx="136" cy="358.5" r="0.6"/><circle cx="134.2" cy="360.7" r="0.6"/><circle cx="136.3" cy="359.8" r="0.6"/><circle cx="127.1" cy="359.7" r="0.6"/><circle cx="122.1" cy="360.2" r="0.6"/><circle cx="125.9" cy="359.9" r="0.6"/><circle cx="135.7" cy="359.1" r="0.6"/><circle cx="139.8" cy="356.1" r="0.6"/></g>
<ellipse cx="129.2" cy="416.5" rx="8.9" ry="4.3" transform="rotate(6 129.2 416.5)" fill="#cc9228"/>
<line x1="68" y1="341" x2="52" y2="351.6" stroke="#6a9bd4" stroke-width="1"/>
<line x1="215" y1="297" x2="217.5" y2="313.5" stroke="#80b83e" stroke-width="1.1"/>
<line x1="151.4" y1="314" x2="153.8" y2="318.7" stroke="#9288c0" stroke-width="0.8"/>
<g fill="#ffffff" opacity="0.35"><circle cx="80" cy="319.4" r="0.45"/><circle cx="82.1" cy="330.7" r="0.45"/><circle cx="75.4" cy="330.7" r="0.45"/><circle cx="76.5" cy="327.3" r="0.45"/><circle cx="80.8" cy="333.6" r="0.45"/><circle cx="82" cy="343.7" r="0.45"/><circle cx="73.1" cy="336.1" r="0.45"/><circle cx="77.8" cy="340.6" r="0.45"/><circle cx="80" cy="325" r="0.45"/><circle cx="81.6" cy="332.9" r="0.45"/><circle cx="82.4" cy="342" r="0.45"/><circle cx="72.9" cy="337.6" r="0.45"/><circle cx="80.2" cy="318.4" r="0.45"/><circle cx="67.9" cy="340.3" r="0.45"/><circle cx="75.6" cy="336.7" r="0.45"/><circle cx="81.7" cy="332.2" r="0.45"/><circle cx="81.7" cy="327.3" r="0.45"/><circle cx="70" cy="336.1" r="0.45"/><circle cx="76.6" cy="343.6" r="0.45"/><circle cx="68.8" cy="336.2" r="0.45"/><circle cx="73.8" cy="335.8" r="0.45"/><circle cx="68.5" cy="340.3" r="0.45"/><circle cx="74.3" cy="332.5" r="0.45"/><circle cx="77.5" cy="319.2" r="0.45"/><circle cx="72.7" cy="320.5" r="0.45"/><circle cx="69.8" cy="322.6" r="0.45"/><circle cx="74.7" cy="313.7" r="0.45"/><circle cx="80.1" cy="331.9" r="0.45"/><circle cx="69.8" cy="334.7" r="0.45"/><circle cx="73.9" cy="310.7" r="0.45"/><circle cx="75.2" cy="344.4" r="0.45"/><circle cx="76.4" cy="344.3" r="0.45"/><circle cx="73.2" cy="332.2" r="0.45"/><circle cx="76.7" cy="330.7" r="0.45"/><circle cx="81.7" cy="321.7" r="0.45"/><circle cx="75.7" cy="322.8" r="0.45"/><circle cx="78.5" cy="333.8" r="0.45"/><circle cx="73.4" cy="331.3" r="0.45"/><circle cx="81.7" cy="332.5" r="0.45"/><circle cx="69.1" cy="330.1" r="0.45"/><circle cx="71.6" cy="325.3" r="0.45"/><circle cx="68.3" cy="335.7" r="0.45"/><circle cx="68.7" cy="332.8" r="0.45"/><circle cx="69.1" cy="342.2" r="0.45"/><circle cx="77.2" cy="331" r="0.45"/><circle cx="75.9" cy="327.3" r="0.45"/><circle cx="77.5" cy="337.4" r="0.45"/><circle cx="77.8" cy="335.3" r="0.45"/><circle cx="82.1" cy="341.9" r="0.45"/><circle cx="69.6" cy="335.6" r="0.45"/><circle cx="76" cy="335.8" r="0.45"/><circle cx="77.8" cy="321.3" r="0.45"/><circle cx="77.2" cy="317.9" r="0.45"/><circle cx="70" cy="333.4" r="0.45"/></g>
<g fill="#ffffff" opacity="0.35"><circle cx="110.6" cy="309.7" r="0.45"/><circle cx="114.9" cy="287.9" r="0.45"/><circle cx="122.4" cy="319.8" r="0.45"/><circle cx="119.3" cy="323.6" r="0.45"/><circle cx="114.3" cy="315.4" r="0.45"/><circle cx="120" cy="305.1" r="0.45"/><circle cx="113.5" cy="288.5" r="0.45"/><circle cx="109.4" cy="305.3" r="0.45"/><circle cx="123.1" cy="309" r="0.45"/><circle cx="111.6" cy="299" r="0.45"/><circle cx="113.9" cy="295.9" r="0.45"/><circle cx="108.3" cy="300.8" r="0.45"/><circle cx="113.5" cy="300.1" r="0.45"/><circle cx="109.8" cy="299" r="0.45"/><circle cx="117.1" cy="313.9" r="0.45"/><circle cx="127.2" cy="317.2" r="0.45"/><circle cx="116.1" cy="308.2" r="0.45"/><circle cx="123.5" cy="317.6" r="0.45"/><circle cx="110.1" cy="293.9" r="0.45"/><circle cx="112.5" cy="292.5" r="0.45"/><circle cx="106.1" cy="298.7" r="0.45"/><circle cx="109.2" cy="293.3" r="0.45"/><circle cx="106.4" cy="308.4" r="0.45"/><circle cx="122.3" cy="321.4" r="0.45"/><circle cx="117.5" cy="311" r="0.45"/><circle cx="106.5" cy="293.2" r="0.45"/><circle cx="109.1" cy="289.5" r="0.45"/><circle cx="118.7" cy="289.1" r="0.45"/><circle cx="115.4" cy="296.5" r="0.45"/><circle cx="107.3" cy="289.8" r="0.45"/><circle cx="114.8" cy="318.6" r="0.45"/><circle cx="109.3" cy="306.6" r="0.45"/><circle cx="120.2" cy="308.2" r="0.45"/><circle cx="108.6" cy="307.1" r="0.45"/><circle cx="119.5" cy="305.6" r="0.45"/><circle cx="117.5" cy="309.9" r="0.45"/><circle cx="123.3" cy="304.4" r="0.45"/><circle cx="115.8" cy="312.6" r="0.45"/><circle cx="112.2" cy="310.9" r="0.45"/><circle cx="120.1" cy="291.5" r="0.45"/><circle cx="120.4" cy="304.3" r="0.45"/><circle cx="113.2" cy="283.4" r="0.45"/><circle cx="113" cy="302.1" r="0.45"/><circle cx="113.1" cy="287.8" r="0.45"/><circle cx="122.6" cy="322.6" r="0.45"/><circle cx="121.6" cy="320.7" r="0.45"/><circle cx="105.3" cy="297.6" r="0.45"/><circle cx="111.7" cy="301.5" r="0.45"/><circle cx="123.3" cy="322.7" r="0.45"/><circle cx="105.9" cy="297.6" r="0.45"/><circle cx="121.6" cy="314" r="0.45"/><circle cx="112.2" cy="297.6" r="0.45"/><circle cx="116" cy="303.3" r="0.45"/><circle cx="109.7" cy="305.1" r="0.45"/><circle cx="116" cy="307.8" r="0.45"/><circle cx="110.8" cy="283.7" r="0.45"/><circle cx="110.8" cy="296.5" r="0.45"/><circle cx="109.2" cy="308.8" r="0.45"/><circle cx="120.8" cy="309.5" r="0.45"/><circle cx="115.2" cy="314.9" r="0.45"/><circle cx="109.7" cy="294.2" r="0.45"/><circle cx="121.9" cy="322.6" r="0.45"/><circle cx="107.5" cy="291.5" r="0.45"/><circle cx="110.1" cy="301" r="0.45"/><circle cx="118.3" cy="302.5" r="0.45"/><circle cx="105.9" cy="296.1" r="0.45"/><circle cx="116.3" cy="313.6" r="0.45"/><circle cx="117.3" cy="317.1" r="0.45"/><circle cx="105.8" cy="293.3" r="0.45"/><circle cx="111.6" cy="305.2" r="0.45"/><circle cx="106.3" cy="298.1" r="0.45"/><circle cx="118.1" cy="294.1" r="0.45"/><circle cx="117.7" cy="310" r="0.45"/><circle cx="125.6" cy="312.9" r="0.45"/><circle cx="107.3" cy="294.1" r="0.45"/></g>
<g fill="#ffffff" opacity="0.35"><circle cx="149.7" cy="260" r="0.45"/><circle cx="153.8" cy="271.5" r="0.45"/><circle cx="147.4" cy="262.2" r="0.45"/><circle cx="151.6" cy="268" r="0.45"/><circle cx="155.4" cy="266.3" r="0.45"/><circle cx="146.3" cy="253.1" r="0.45"/><circle cx="142.4" cy="260.7" r="0.45"/><circle cx="144.7" cy="253.1" r="0.45"/><circle cx="153.8" cy="254.4" r="0.45"/><circle cx="152.1" cy="274.9" r="0.45"/><circle cx="146.7" cy="263.3" r="0.45"/><circle cx="152.8" cy="246" r="0.45"/><circle cx="143.4" cy="257.1" r="0.45"/><circle cx="149.7" cy="251.2" r="0.45"/><circle cx="146.1" cy="256.8" r="0.45"/><circle cx="149.4" cy="252.5" r="0.45"/><circle cx="151.4" cy="262.1" r="0.45"/><circle cx="150.5" cy="244.3" r="0.45"/><circle cx="156" cy="256.9" r="0.45"/><circle cx="148.3" cy="249.4" r="0.45"/><circle cx="146.5" cy="263.9" r="0.45"/><circle cx="148.7" cy="275.6" r="0.45"/><circle cx="149.3" cy="255.9" r="0.45"/><circle cx="154.9" cy="271.6" r="0.45"/><circle cx="150.9" cy="272.2" r="0.45"/><circle cx="142.4" cy="266.5" r="0.45"/><circle cx="154.2" cy="250.1" r="0.45"/><circle cx="153.6" cy="251.6" r="0.45"/><circle cx="155" cy="248.7" r="0.45"/><circle cx="146.5" cy="253.7" r="0.45"/><circle cx="149.3" cy="270.4" r="0.45"/><circle cx="149.9" cy="272" r="0.45"/><circle cx="143.4" cy="265.7" r="0.45"/><circle cx="148.6" cy="273.6" r="0.45"/><circle cx="152.4" cy="268.2" r="0.45"/><circle cx="145" cy="275.9" r="0.45"/><circle cx="155.9" cy="263.1" r="0.45"/><circle cx="154.4" cy="261.4" r="0.45"/><circle cx="154.6" cy="257.4" r="0.45"/><circle cx="150.9" cy="252.2" r="0.45"/><circle cx="152.2" cy="261.9" r="0.45"/><circle cx="155.6" cy="265.8" r="0.45"/><circle cx="152.8" cy="247.3" r="0.45"/><circle cx="150.9" cy="255" r="0.45"/><circle cx="147.6" cy="251.9" r="0.45"/><circle cx="151.5" cy="250.9" r="0.45"/><circle cx="155.4" cy="253.6" r="0.45"/><circle cx="153.6" cy="251.1" r="0.45"/><circle cx="151.8" cy="263.2" r="0.45"/><circle cx="147.5" cy="263.3" r="0.45"/></g>
<g fill="#ffffff" opacity="0.35"><circle cx="192.8" cy="287.3" r="0.45"/><circle cx="194.6" cy="295.6" r="0.45"/><circle cx="195.9" cy="291.7" r="0.45"/><circle cx="202.8" cy="296.9" r="0.45"/><circle cx="218.4" cy="289.1" r="0.45"/><circle cx="208" cy="281.4" r="0.45"/><circle cx="193.9" cy="280.1" r="0.45"/><circle cx="207.4" cy="297.9" r="0.45"/><circle cx="208.4" cy="292.6" r="0.45"/><circle cx="200.9" cy="272.8" r="0.45"/><circle cx="201.1" cy="296.5" r="0.45"/><circle cx="209.9" cy="292.8" r="0.45"/><circle cx="196.2" cy="297.9" r="0.45"/><circle cx="206.2" cy="287.4" r="0.45"/><circle cx="194.6" cy="281.4" r="0.45"/><circle cx="209.5" cy="292.7" r="0.45"/><circle cx="194.8" cy="282.3" r="0.45"/><circle cx="190.3" cy="277.3" r="0.45"/><circle cx="200.2" cy="293.7" r="0.45"/><circle cx="198.5" cy="271.3" r="0.45"/><circle cx="198.1" cy="269.5" r="0.45"/><circle cx="209.1" cy="276.9" r="0.45"/><circle cx="213.3" cy="286.7" r="0.45"/><circle cx="220.1" cy="280.9" r="0.45"/><circle cx="212.4" cy="296.3" r="0.45"/><circle cx="206.5" cy="296.3" r="0.45"/><circle cx="197.9" cy="289.6" r="0.45"/><circle cx="214.2" cy="280" r="0.45"/><circle cx="204.2" cy="288.3" r="0.45"/><circle cx="217" cy="276.3" r="0.45"/><circle cx="208.5" cy="267.1" r="0.45"/><circle cx="205.2" cy="287.9" r="0.45"/><circle cx="195.3" cy="282.6" r="0.45"/><circle cx="188.3" cy="283.9" r="0.45"/><circle cx="201.8" cy="281.1" r="0.45"/><circle cx="191.4" cy="294.9" r="0.45"/><circle cx="214" cy="288.8" r="0.45"/><circle cx="212.3" cy="295.8" r="0.45"/><circle cx="199.4" cy="296.2" r="0.45"/><circle cx="187.8" cy="279.3" r="0.45"/><circle cx="183.2" cy="291.2" r="0.45"/><circle cx="199.6" cy="299.1" r="0.45"/><circle cx="195.5" cy="280.2" r="0.45"/><circle cx="196.1" cy="275.9" r="0.45"/><circle cx="190.1" cy="280.1" r="0.45"/><circle cx="191.7" cy="282.8" r="0.45"/><circle cx="209.4" cy="267.6" r="0.45"/><circle cx="189.1" cy="277.6" r="0.45"/><circle cx="215.2" cy="280.1" r="0.45"/><circle cx="206.8" cy="268.4" r="0.45"/><circle cx="204.4" cy="270.1" r="0.45"/><circle cx="213.2" cy="286.4" r="0.45"/><circle cx="200.7" cy="283.3" r="0.45"/><circle cx="196" cy="287.2" r="0.45"/><circle cx="214.2" cy="275.8" r="0.45"/><circle cx="208.7" cy="276.9" r="0.45"/><circle cx="217.9" cy="289.2" r="0.45"/><circle cx="201.1" cy="287.9" r="0.45"/><circle cx="218.9" cy="278.4" r="0.45"/><circle cx="211.1" cy="273.8" r="0.45"/><circle cx="190.6" cy="286.1" r="0.45"/><circle cx="199" cy="278.5" r="0.45"/><circle cx="181" cy="290.5" r="0.45"/><circle cx="181.3" cy="289.9" r="0.45"/><circle cx="207.7" cy="273.2" r="0.45"/><circle cx="210.2" cy="290.5" r="0.45"/><circle cx="200.5" cy="292.5" r="0.45"/><circle cx="194.8" cy="283.8" r="0.45"/><circle cx="209.3" cy="289.9" r="0.45"/><circle cx="207.2" cy="285.1" r="0.45"/><circle cx="189.2" cy="278.3" r="0.45"/><circle cx="195.4" cy="280.9" r="0.45"/><circle cx="203.9" cy="290.7" r="0.45"/><circle cx="219.4" cy="281.5" r="0.45"/><circle cx="210.9" cy="273.8" r="0.45"/><circle cx="213.2" cy="279.8" r="0.45"/><circle cx="211.5" cy="282.6" r="0.45"/><circle cx="197.3" cy="292.9" r="0.45"/><circle cx="185.5" cy="288.9" r="0.45"/><circle cx="195" cy="289.6" r="0.45"/><circle cx="212" cy="276.5" r="0.45"/><circle cx="188.8" cy="289.5" r="0.45"/><circle cx="208.2" cy="293.9" r="0.45"/><circle cx="189.8" cy="281.3" r="0.45"/><circle cx="197.1" cy="279.7" r="0.45"/><circle cx="196.4" cy="283.6" r="0.45"/><circle cx="190.9" cy="278.6" r="0.45"/><circle cx="214.8" cy="294.4" r="0.45"/><circle cx="188" cy="285.9" r="0.45"/><circle cx="214.1" cy="279.3" r="0.45"/><circle cx="212.4" cy="282.3" r="0.45"/><circle cx="217.5" cy="273.7" r="0.45"/><circle cx="206.9" cy="298.6" r="0.45"/><circle cx="218.5" cy="276.9" r="0.45"/><circle cx="193.5" cy="289.6" r="0.45"/><circle cx="191.7" cy="280.7" r="0.45"/><circle cx="201.1" cy="283.5" r="0.45"/><circle cx="191" cy="287.1" r="0.45"/><circle cx="208.5" cy="295.2" r="0.45"/><circle cx="183.7" cy="288.3" r="0.45"/><circle cx="200" cy="276.6" r="0.45"/><circle cx="204.9" cy="286.5" r="0.45"/><circle cx="216.7" cy="290.3" r="0.45"/><circle cx="198.6" cy="280" r="0.45"/><circle cx="208" cy="288" r="0.45"/><circle cx="200" cy="297.2" r="0.45"/><circle cx="192" cy="284.4" r="0.45"/><circle cx="189.7" cy="285.9" r="0.45"/><circle cx="194" cy="279.9" r="0.45"/><circle cx="203.7" cy="272.8" r="0.45"/><circle cx="203.8" cy="288.6" r="0.45"/><circle cx="208.2" cy="272.4" r="0.45"/><circle cx="182.1" cy="290.8" r="0.45"/></g>
<g fill="#ffffff" opacity="0.35"><circle cx="160.6" cy="319.9" r="0.45"/><circle cx="154.6" cy="321.7" r="0.45"/><circle cx="161.3" cy="319.2" r="0.45"/><circle cx="158.4" cy="320.2" r="0.45"/><circle cx="159.2" cy="316.6" r="0.45"/><circle cx="160" cy="320.7" r="0.45"/><circle cx="155.5" cy="317.7" r="0.45"/><circle cx="158" cy="322.6" r="0.45"/></g>
<g fill="#ffffff" opacity="0.35"><circle cx="151.4" cy="333.5" r="0.45"/><circle cx="152.8" cy="329" r="0.45"/><circle cx="149.1" cy="334.2" r="0.45"/><circle cx="150.3" cy="333.3" r="0.45"/><circle cx="153.3" cy="326.1" r="0.45"/></g>
<g fill="#ffffff" opacity="0.35"><circle cx="165" cy="349.1" r="0.45"/><circle cx="174.1" cy="350.2" r="0.45"/><circle cx="164.4" cy="345.9" r="0.45"/><circle cx="160.8" cy="339.4" r="0.45"/><circle cx="173.9" cy="344.5" r="0.45"/><circle cx="162" cy="343.5" r="0.45"/><circle cx="174.2" cy="344.8" r="0.45"/><circle cx="161.1" cy="338" r="0.45"/><circle cx="175.2" cy="348.1" r="0.45"/><circle cx="168.1" cy="350.9" r="0.45"/><circle cx="163.3" cy="348.7" r="0.45"/><circle cx="167.4" cy="344" r="0.45"/><circle cx="165.1" cy="345.1" r="0.45"/><circle cx="163.2" cy="337" r="0.45"/><circle cx="170.6" cy="343.9" r="0.45"/><circle cx="164.4" cy="345.7" r="0.45"/><circle cx="169.2" cy="347.7" r="0.45"/><circle cx="173.6" cy="348.3" r="0.45"/><circle cx="167.5" cy="343" r="0.45"/><circle cx="165.5" cy="345.8" r="0.45"/><circle cx="170.6" cy="347.5" r="0.45"/><circle cx="171.9" cy="346.6" r="0.45"/><circle cx="170.9" cy="349" r="0.45"/></g>
<g fill="#ffffff" opacity="0.35"><circle cx="132.7" cy="369.4" r="0.45"/><circle cx="123.5" cy="362.5" r="0.45"/><circle cx="137.1" cy="364.2" r="0.45"/><circle cx="125.3" cy="363.6" r="0.45"/><circle cx="126.9" cy="368.8" r="0.45"/><circle cx="144.7" cy="367.3" r="0.45"/><circle cx="143.5" cy="372.4" r="0.45"/><circle cx="126.8" cy="370.4" r="0.45"/><circle cx="146.1" cy="357.7" r="0.45"/><circle cx="128.9" cy="366.5" r="0.45"/><circle cx="147" cy="353.8" r="0.45"/><circle cx="136.9" cy="364.9" r="0.45"/><circle cx="133.6" cy="364.6" r="0.45"/><circle cx="123.6" cy="365.7" r="0.45"/><circle cx="131.7" cy="366.8" r="0.45"/><circle cx="131.1" cy="364.7" r="0.45"/><circle cx="136.1" cy="366.9" r="0.45"/><circle cx="129.9" cy="363.5" r="0.45"/><circle cx="146.7" cy="350.7" r="0.45"/><circle cx="128.6" cy="369.8" r="0.45"/><circle cx="148.1" cy="363.3" r="0.45"/><circle cx="143.7" cy="364.2" r="0.45"/><circle cx="145.2" cy="365.2" r="0.45"/><circle cx="130.2" cy="362.2" r="0.45"/><circle cx="125.1" cy="365.6" r="0.45"/><circle cx="130" cy="365.7" r="0.45"/><circle cx="143.4" cy="358.1" r="0.45"/><circle cx="144" cy="361" r="0.45"/><circle cx="146.1" cy="360.3" r="0.45"/><circle cx="144.2" cy="360.9" r="0.45"/><circle cx="144" cy="369" r="0.45"/><circle cx="135.6" cy="363.4" r="0.45"/><circle cx="132.6" cy="370.3" r="0.45"/><circle cx="123.8" cy="366" r="0.45"/><circle cx="144.3" cy="371.7" r="0.45"/><circle cx="146.7" cy="366.7" r="0.45"/><circle cx="134.4" cy="367.7" r="0.45"/><circle cx="129.9" cy="368" r="0.45"/><circle cx="134.2" cy="369" r="0.45"/><circle cx="137.6" cy="360.3" r="0.45"/><circle cx="137" cy="366.2" r="0.45"/><circle cx="144.5" cy="369.6" r="0.45"/><circle cx="146.8" cy="353" r="0.45"/></g>
<g fill="#ffffff" opacity="0.35"><circle cx="188" cy="386.3" r="0.45"/><circle cx="203" cy="376.1" r="0.45"/><circle cx="188.4" cy="384.1" r="0.45"/><circle cx="205" cy="372.5" r="0.45"/><circle cx="203.8" cy="383.7" r="0.45"/><circle cx="208.9" cy="367.2" r="0.45"/><circle cx="192.8" cy="386.3" r="0.45"/><circle cx="195.8" cy="379.6" r="0.45"/><circle cx="197.2" cy="384.4" r="0.45"/><circle cx="210.1" cy="370.2" r="0.45"/><circle cx="196.3" cy="366.5" r="0.45"/><circle cx="193.1" cy="383.5" r="0.45"/><circle cx="204.4" cy="375.3" r="0.45"/><circle cx="206.6" cy="378.8" r="0.45"/><circle cx="192.6" cy="382.5" r="0.45"/><circle cx="207.2" cy="368.1" r="0.45"/><circle cx="205.9" cy="376.7" r="0.45"/><circle cx="189.6" cy="382.9" r="0.45"/><circle cx="201.9" cy="374.4" r="0.45"/><circle cx="189.7" cy="372.1" r="0.45"/><circle cx="197.2" cy="384.3" r="0.45"/><circle cx="202.3" cy="376.3" r="0.45"/><circle cx="191.8" cy="375.6" r="0.45"/><circle cx="211.7" cy="369.4" r="0.45"/><circle cx="196" cy="368.9" r="0.45"/><circle cx="191.2" cy="379.3" r="0.45"/><circle cx="201.6" cy="365.3" r="0.45"/><circle cx="190.7" cy="384.1" r="0.45"/><circle cx="201.7" cy="374.7" r="0.45"/><circle cx="203.3" cy="362" r="0.45"/><circle cx="199.6" cy="375.3" r="0.45"/><circle cx="210" cy="374.2" r="0.45"/><circle cx="197.6" cy="384.6" r="0.45"/><circle cx="206.3" cy="372.6" r="0.45"/><circle cx="187.1" cy="380.2" r="0.45"/><circle cx="208.3" cy="364.9" r="0.45"/><circle cx="195.8" cy="372.3" r="0.45"/><circle cx="191" cy="377.4" r="0.45"/><circle cx="197.8" cy="369.2" r="0.45"/><circle cx="207.7" cy="375.4" r="0.45"/><circle cx="192" cy="382.5" r="0.45"/><circle cx="196.9" cy="365.2" r="0.45"/><circle cx="194.3" cy="371.9" r="0.45"/><circle cx="205.1" cy="363.1" r="0.45"/><circle cx="199.8" cy="361.5" r="0.45"/><circle cx="189.5" cy="386.4" r="0.45"/><circle cx="190.3" cy="372.6" r="0.45"/><circle cx="188" cy="382.8" r="0.45"/><circle cx="197.4" cy="368.4" r="0.45"/><circle cx="199.6" cy="361.9" r="0.45"/><circle cx="197.6" cy="386.6" r="0.45"/><circle cx="190.7" cy="387.7" r="0.45"/><circle cx="200.6" cy="386.1" r="0.45"/><circle cx="202.4" cy="366.7" r="0.45"/><circle cx="189.3" cy="384.2" r="0.45"/><circle cx="190.2" cy="385.2" r="0.45"/><circle cx="202.5" cy="383.2" r="0.45"/><circle cx="197.6" cy="376.7" r="0.45"/><circle cx="192.9" cy="369.7" r="0.45"/><circle cx="192.4" cy="389.3" r="0.45"/><circle cx="195.5" cy="369.2" r="0.45"/><circle cx="193.5" cy="387.6" r="0.45"/><circle cx="194.3" cy="379.8" r="0.45"/><circle cx="204.8" cy="383.3" r="0.45"/><circle cx="201.8" cy="368.7" r="0.45"/></g>
<g fill="#ffffff" opacity="0.35"><circle cx="173.8" cy="431.6" r="0.45"/><circle cx="163.2" cy="414" r="0.45"/><circle cx="178.1" cy="425.5" r="0.45"/><circle cx="169.5" cy="429.1" r="0.45"/><circle cx="173.4" cy="430.6" r="0.45"/><circle cx="173.5" cy="427.4" r="0.45"/><circle cx="169.6" cy="419.6" r="0.45"/><circle cx="169.3" cy="423.1" r="0.45"/><circle cx="170" cy="421.7" r="0.45"/><circle cx="166.7" cy="421.6" r="0.45"/><circle cx="166.5" cy="424" r="0.45"/><circle cx="176" cy="426.1" r="0.45"/><circle cx="167.8" cy="425.4" r="0.45"/><circle cx="175" cy="421.1" r="0.45"/><circle cx="162.7" cy="417.2" r="0.45"/><circle cx="177.2" cy="425.8" r="0.45"/><circle cx="171.9" cy="431.3" r="0.45"/><circle cx="174.3" cy="422.3" r="0.45"/><circle cx="177.6" cy="424.8" r="0.45"/><circle cx="174.7" cy="426.3" r="0.45"/><circle cx="173.3" cy="425.6" r="0.45"/><circle cx="164.1" cy="412.8" r="0.45"/><circle cx="169.9" cy="426.5" r="0.45"/><circle cx="178.6" cy="426.2" r="0.45"/><circle cx="172.4" cy="427" r="0.45"/><circle cx="179.9" cy="423.9" r="0.45"/></g>
<text x="63.9" y="324.3" font-size="5.2" fill="#333" text-anchor="middle" >8</text>
<text x="100.2" y="302.9" font-size="5.2" fill="#333" text-anchor="middle" >7</text>
<text x="137.4" y="253.2" font-size="5.2" fill="#333" text-anchor="middle" >9</text>
<text x="183.8" y="275.9" font-size="5.2" fill="#333" text-anchor="middle" >4</text>
<text x="164.2" y="313.7" font-size="5.2" fill="#333" text-anchor="middle" >10</text>
<text x="142.4" y="333.3" font-size="5.2" fill="#333" text-anchor="middle" >11</text>
<text x="174.8" y="340.4" font-size="5.2" fill="#333" text-anchor="middle" >6</text>
<text x="126.2" y="355.7" font-size="5.2" fill="#333" text-anchor="middle" >3</text>
<text x="185.6" y="366.4" font-size="5.2" fill="#333" text-anchor="middle" >1</text>
<text x="125.8" y="410" font-size="5.2" fill="#333" text-anchor="middle" >2</text>
<text x="175" y="413.8" font-size="5.2" fill="#333" text-anchor="middle" >5</text>
<g stroke="#222" stroke-width="1.3" fill="none">
<line x1="282.5" y1="232.5" x2="282.5" y2="443.95"/>
<line x1="281.85" y1="443.3" x2="472.9" y2="443.3"/>
<line x1="279.9" y1="249.1" x2="282.5" y2="249.1"/>
<line x1="279.9" y1="286" x2="282.5" y2="286"/>
<line x1="279.9" y1="322.9" x2="282.5" y2="322.9"/>
<line x1="279.9" y1="359.8" x2="282.5" y2="359.8"/>
<line x1="279.9" y1="396.7" x2="282.5" y2="396.7"/>
<line x1="279.9" y1="433.7" x2="282.5" y2="433.7"/>
<line x1="319" y1="443.3" x2="319" y2="446.1"/>
<line x1="375.4" y1="443.3" x2="375.4" y2="446.1"/>
<line x1="431.4" y1="443.3" x2="431.4" y2="446.1"/>
</g>
<text x="276.4" y="251.4" font-size="6.4" fill="#333" text-anchor="end" textLength="6.2" lengthAdjust="spacingAndGlyphs" >10</text>
<text x="276.4" y="288.3" font-size="6.4" fill="#333" text-anchor="end" textLength="3.6" lengthAdjust="spacingAndGlyphs" >5</text>
<text x="276.4" y="325.2" font-size="6.4" fill="#333" text-anchor="end" textLength="3.6" lengthAdjust="spacingAndGlyphs" >0</text>
<text x="276.4" y="362.1" font-size="6.4" fill="#333" text-anchor="end" textLength="6.2" lengthAdjust="spacingAndGlyphs" >−5</text>
<text x="276.4" y="399" font-size="6.4" fill="#333" text-anchor="end" textLength="9.9" lengthAdjust="spacingAndGlyphs" >−10</text>
<text x="276.4" y="436" font-size="6.4" fill="#333" text-anchor="end" textLength="9.9" lengthAdjust="spacingAndGlyphs" >−15</text>
<text x="319" y="454.9" font-size="6.4" fill="#333" text-anchor="middle" textLength="9.9" lengthAdjust="spacingAndGlyphs" >−10</text>
<text x="375.4" y="454.9" font-size="6.4" fill="#333" text-anchor="middle" textLength="3.6" lengthAdjust="spacingAndGlyphs" >0</text>
<text x="431.4" y="454.9" font-size="6.4" fill="#333" text-anchor="middle" textLength="6.2" lengthAdjust="spacingAndGlyphs" >10</text>
<text x="378" y="466.2" font-size="8.1" fill="#333" text-anchor="middle" textLength="23.6" lengthAdjust="spacingAndGlyphs" >UMAP_1</text>
<text transform="translate(261.4,337.9) rotate(-90)" font-size="8.1" fill="#333" text-anchor="middle" textLength="24.8" lengthAdjust="spacingAndGlyphs">UMAP_2</text>
<g transform="matrix(0.9885,0,0,0.9802,241.7,7.18)">
<polygon points="73.6,308.2 76.8,311.4 80.1,317 82.4,322.5 83.8,328.1 84.1,334.6 83.8,341.1 82.9,343.9 78.7,345.2 73.1,345.2 69.4,343.9 66.5,341.5 68.5,339.2 68,331.8 69,325.3 69.9,318.8 71.3,312.3" fill="#d3d3d8" stroke="#d3d3d8" stroke-width="1" stroke-linejoin="round"/>
<polygon points="113.2,282.4 115.8,283.8 118.4,287.5 121.1,293.8 122.6,300.1 125.8,307.5 127.9,314.8 126.8,320.1 123.7,324.3 118.9,323.8 113.7,320.1 108.4,313.8 105.3,306.4 104.7,299.1 105.8,290.6 108.4,284.8" fill="#d0cee0" stroke="#d0cee0" stroke-width="1" stroke-linejoin="round"/>
<polygon points="153,243 156,244.5 157.3,248 157,253 156.5,258 157,264 156.5,269 154.5,274 150.5,277.5 146.5,278.2 143.5,275 142.3,268 142.3,260 143.5,253 146,247.5 149.5,244" fill="#d3d2de" stroke="#d3d2de" stroke-width="1" stroke-linejoin="round"/>
<polygon points="180.2,290.2 181.1,286.9 184.3,283.2 188.9,277.7 193.5,273.1 198.2,269.4 203.7,266.6 209.2,266.4 214.8,269.4 218.5,274.9 220.3,281.4 219.4,287.9 217.1,293.4 214.8,297.1 210.2,298.9 203.7,299.9 196.3,298.9 188.9,296.2 183.4,293.4" fill="#cecbe0" stroke="#cecbe0" stroke-width="1" stroke-linejoin="round"/>
<polygon points="153.8,317.4 156.5,316.1 160.5,315.4 166.6,315.4 165.9,317.4 162.5,320.1 158.5,322.8 155.1,324.1 153.4,322.1 153.8,319.4" fill="#d0cce2" stroke="#d0cce2" stroke-width="1" stroke-linejoin="round"/>
<polygon points="154.4,325.5 153.8,328.8 152.4,331.5 153.1,334.2 155.1,336.2 151.7,337.6 148.4,337.6 146.4,335.6 149.1,332.2 151.7,328.8 153.1,326.2" fill="#d4d0e2" stroke="#d4d0e2" stroke-width="1" stroke-linejoin="round"/>
<polygon points="160,333 161,333.5 165,336.5 169,339.5 173,341 175.5,343.5 176,347 174.5,350.5 171.5,352.8 167.5,353 164.5,351 162.5,347.5 160.5,343.5 159.5,339 159,335" fill="#d4d2e2" stroke="#d4d2e2" stroke-width="1" stroke-linejoin="round"/>
<polygon points="118.2,359.2 119.8,360.4 123,362 127,362.8 131,361.6 135,360.8 139,359.2 143,358.4 146,356 146.6,352 145.8,347.5 147,351 147.5,357.6 148.6,360 149,364.8 147,369.6 143,373.6 138.2,376 134.5,378.2 133.4,379 131,375.2 127,372 123.8,368.8 121.4,364.8" fill="#d3d3d8" stroke="#d3d3d8" stroke-width="1" stroke-linejoin="round"/>
<polygon points="181.4,378.8 186.3,372.7 191.7,368.1 195.5,364.3 198.5,362.1 200.8,360.9 206.8,362.1 211.4,367.4 212.1,371.2 209.9,375.7 206.1,381 203,386.3 197,389.4 190.9,389.4 185.6,385.6 182.6,380.3" fill="#cac6de" stroke="#cac6de" stroke-width="1" stroke-linejoin="round"/>
<polygon points="160,410.5 163,412 170,415.5 177,419 182.5,421.8 182,424 178,428 174,432 171,433.5 169.5,431 166,424 162,416 159.5,411.5" fill="#d3d3d8" stroke="#d3d3d8" stroke-width="1" stroke-linejoin="round"/>
<g fill="#d3d2de" opacity="1.0"><circle cx="159.1" cy="255.8" r="0.55"/><circle cx="157.7" cy="256.2" r="0.55"/><circle cx="159" cy="260.2" r="0.55"/><circle cx="160" cy="262.4" r="0.55"/><circle cx="159.7" cy="257.8" r="0.55"/><circle cx="160.5" cy="256" r="0.55"/><circle cx="162.4" cy="257.4" r="0.55"/><circle cx="159" cy="260.1" r="0.55"/><circle cx="157.5" cy="259.9" r="0.55"/><circle cx="162" cy="257" r="0.55"/><circle cx="162.7" cy="258.8" r="0.55"/><circle cx="161.5" cy="258.2" r="0.55"/><circle cx="159.1" cy="256.4" r="0.55"/><circle cx="159.5" cy="262.1" r="0.55"/><circle cx="158.8" cy="255.9" r="0.55"/><circle cx="161.6" cy="259.4" r="0.55"/><circle cx="156.7" cy="258.3" r="0.55"/><circle cx="159.3" cy="254.8" r="0.55"/><circle cx="158.6" cy="258.7" r="0.55"/><circle cx="157.8" cy="261.1" r="0.55"/><circle cx="156.9" cy="255.9" r="0.55"/><circle cx="158.2" cy="257.6" r="0.55"/><circle cx="161.5" cy="257.2" r="0.55"/><circle cx="161" cy="262.3" r="0.55"/><circle cx="160.4" cy="260.7" r="0.55"/><circle cx="160.5" cy="257.7" r="0.55"/><circle cx="157.1" cy="255.3" r="0.55"/><circle cx="157.6" cy="255.6" r="0.55"/></g>
<polygon points="155.5,331 158,331.5 161,333.5 160,338 161,343.5 158.5,339 156.5,335" fill="#d4d2e2" opacity="0.8"/>
<g fill="#d3d3d8" opacity="1.0"><circle cx="129.9" cy="360.2" r="0.6"/><circle cx="132.8" cy="358.6" r="0.6"/><circle cx="133.1" cy="360.2" r="0.6"/><circle cx="135.2" cy="359.9" r="0.6"/><circle cx="138.3" cy="353.8" r="0.6"/><circle cx="123.6" cy="361" r="0.6"/><circle cx="140.6" cy="353" r="0.6"/><circle cx="126.1" cy="360.6" r="0.6"/><circle cx="129.2" cy="358.1" r="0.6"/><circle cx="143.2" cy="357.7" r="0.6"/><circle cx="124.1" cy="360.6" r="0.6"/><circle cx="123.2" cy="359.3" r="0.6"/><circle cx="123.9" cy="360.8" r="0.6"/><circle cx="127.4" cy="358.9" r="0.6"/><circle cx="132.9" cy="360.1" r="0.6"/><circle cx="133.8" cy="356.3" r="0.6"/><circle cx="140.8" cy="356.9" r="0.6"/><circle cx="144.9" cy="352.6" r="0.6"/><circle cx="137.6" cy="358.3" r="0.6"/><circle cx="124.9" cy="360.2" r="0.6"/><circle cx="138.5" cy="359.1" r="0.6"/><circle cx="125.5" cy="362.3" r="0.6"/><circle cx="132.4" cy="357.7" r="0.6"/><circle cx="142.9" cy="353.6" r="0.6"/><circle cx="130.9" cy="358.4" r="0.6"/><circle cx="123.3" cy="360" r="0.6"/><circle cx="127.2" cy="361.9" r="0.6"/><circle cx="128.6" cy="361" r="0.6"/><circle cx="145" cy="354.1" r="0.6"/><circle cx="142.2" cy="355.4" r="0.6"/><circle cx="126.2" cy="360.5" r="0.6"/><circle cx="139.8" cy="356.1" r="0.6"/><circle cx="129.1" cy="361" r="0.6"/><circle cx="136.1" cy="358.7" r="0.6"/><circle cx="137.7" cy="354.3" r="0.6"/><circle cx="138.1" cy="354" r="0.6"/><circle cx="126.7" cy="360.3" r="0.6"/><circle cx="136" cy="358.5" r="0.6"/><circle cx="134.2" cy="360.7" r="0.6"/><circle cx="136.3" cy="359.8" r="0.6"/><circle cx="127.1" cy="359.7" r="0.6"/><circle cx="122.1" cy="360.2" r="0.6"/><circle cx="125.9" cy="359.9" r="0.6"/><circle cx="135.7" cy="359.1" r="0.6"/><circle cx="139.8" cy="356.1" r="0.6"/></g>
<ellipse cx="129.2" cy="416.5" rx="8.9" ry="4.3" transform="rotate(6 129.2 416.5)" fill="#d3d3d8"/>
<line x1="68" y1="341" x2="52" y2="351.6" stroke="#d3d3d8" stroke-width="1"/>
<line x1="215" y1="297" x2="217.5" y2="313.5" stroke="#cecbe0" stroke-width="1.1"/>
<line x1="151.4" y1="314" x2="153.8" y2="318.7" stroke="#d3d2de" stroke-width="0.8"/>
<g fill="#ececf0" opacity="0.6"><circle cx="80" cy="319.4" r="0.45"/><circle cx="82.1" cy="330.7" r="0.45"/><circle cx="75.4" cy="330.7" r="0.45"/><circle cx="76.5" cy="327.3" r="0.45"/><circle cx="80.8" cy="333.6" r="0.45"/><circle cx="82" cy="343.7" r="0.45"/><circle cx="73.1" cy="336.1" r="0.45"/><circle cx="77.8" cy="340.6" r="0.45"/><circle cx="80" cy="325" r="0.45"/><circle cx="81.6" cy="332.9" r="0.45"/><circle cx="82.4" cy="342" r="0.45"/><circle cx="72.9" cy="337.6" r="0.45"/><circle cx="80.2" cy="318.4" r="0.45"/><circle cx="67.9" cy="340.3" r="0.45"/><circle cx="75.6" cy="336.7" r="0.45"/><circle cx="81.7" cy="332.2" r="0.45"/><circle cx="81.7" cy="327.3" r="0.45"/><circle cx="70" cy="336.1" r="0.45"/><circle cx="76.6" cy="343.6" r="0.45"/><circle cx="68.8" cy="336.2" r="0.45"/><circle cx="73.8" cy="335.8" r="0.45"/><circle cx="68.5" cy="340.3" r="0.45"/><circle cx="74.3" cy="332.5" r="0.45"/><circle cx="77.5" cy="319.2" r="0.45"/><circle cx="72.7" cy="320.5" r="0.45"/><circle cx="69.8" cy="322.6" r="0.45"/><circle cx="74.7" cy="313.7" r="0.45"/><circle cx="80.1" cy="331.9" r="0.45"/><circle cx="69.8" cy="334.7" r="0.45"/><circle cx="73.9" cy="310.7" r="0.45"/><circle cx="75.2" cy="344.4" r="0.45"/><circle cx="76.4" cy="344.3" r="0.45"/><circle cx="73.2" cy="332.2" r="0.45"/><circle cx="76.7" cy="330.7" r="0.45"/><circle cx="81.7" cy="321.7" r="0.45"/><circle cx="75.7" cy="322.8" r="0.45"/><circle cx="78.5" cy="333.8" r="0.45"/><circle cx="73.4" cy="331.3" r="0.45"/><circle cx="81.7" cy="332.5" r="0.45"/><circle cx="69.1" cy="330.1" r="0.45"/><circle cx="71.6" cy="325.3" r="0.45"/><circle cx="68.3" cy="335.7" r="0.45"/><circle cx="68.7" cy="332.8" r="0.45"/><circle cx="69.1" cy="342.2" r="0.45"/><circle cx="77.2" cy="331" r="0.45"/><circle cx="75.9" cy="327.3" r="0.45"/><circle cx="77.5" cy="337.4" r="0.45"/><circle cx="77.8" cy="335.3" r="0.45"/><circle cx="82.1" cy="341.9" r="0.45"/><circle cx="69.6" cy="335.6" r="0.45"/><circle cx="76" cy="335.8" r="0.45"/><circle cx="77.8" cy="321.3" r="0.45"/><circle cx="77.2" cy="317.9" r="0.45"/><circle cx="70" cy="333.4" r="0.45"/></g>
<g fill="#a8a4d0" opacity="0.5"><circle cx="110.6" cy="309.7" r="0.45"/><circle cx="114.9" cy="287.9" r="0.45"/><circle cx="122.4" cy="319.8" r="0.45"/><circle cx="119.3" cy="323.6" r="0.45"/><circle cx="114.3" cy="315.4" r="0.45"/><circle cx="120" cy="305.1" r="0.45"/><circle cx="113.5" cy="288.5" r="0.45"/><circle cx="109.4" cy="305.3" r="0.45"/><circle cx="123.1" cy="309" r="0.45"/><circle cx="111.6" cy="299" r="0.45"/><circle cx="113.9" cy="295.9" r="0.45"/><circle cx="108.3" cy="300.8" r="0.45"/><circle cx="113.5" cy="300.1" r="0.45"/><circle cx="109.8" cy="299" r="0.45"/><circle cx="117.1" cy="313.9" r="0.45"/><circle cx="127.2" cy="317.2" r="0.45"/><circle cx="116.1" cy="308.2" r="0.45"/><circle cx="123.5" cy="317.6" r="0.45"/><circle cx="110.1" cy="293.9" r="0.45"/><circle cx="112.5" cy="292.5" r="0.45"/><circle cx="106.1" cy="298.7" r="0.45"/><circle cx="109.2" cy="293.3" r="0.45"/><circle cx="106.4" cy="308.4" r="0.45"/><circle cx="122.3" cy="321.4" r="0.45"/><circle cx="117.5" cy="311" r="0.45"/><circle cx="106.5" cy="293.2" r="0.45"/><circle cx="109.1" cy="289.5" r="0.45"/><circle cx="118.7" cy="289.1" r="0.45"/><circle cx="115.4" cy="296.5" r="0.45"/><circle cx="107.3" cy="289.8" r="0.45"/><circle cx="114.8" cy="318.6" r="0.45"/><circle cx="109.3" cy="306.6" r="0.45"/><circle cx="120.2" cy="308.2" r="0.45"/><circle cx="108.6" cy="307.1" r="0.45"/><circle cx="119.5" cy="305.6" r="0.45"/><circle cx="117.5" cy="309.9" r="0.45"/><circle cx="123.3" cy="304.4" r="0.45"/><circle cx="115.8" cy="312.6" r="0.45"/><circle cx="112.2" cy="310.9" r="0.45"/><circle cx="120.1" cy="291.5" r="0.45"/><circle cx="120.4" cy="304.3" r="0.45"/><circle cx="113.2" cy="283.4" r="0.45"/><circle cx="113" cy="302.1" r="0.45"/><circle cx="113.1" cy="287.8" r="0.45"/><circle cx="122.6" cy="322.6" r="0.45"/><circle cx="121.6" cy="320.7" r="0.45"/><circle cx="105.3" cy="297.6" r="0.45"/><circle cx="111.7" cy="301.5" r="0.45"/><circle cx="123.3" cy="322.7" r="0.45"/><circle cx="105.9" cy="297.6" r="0.45"/><circle cx="121.6" cy="314" r="0.45"/><circle cx="112.2" cy="297.6" r="0.45"/><circle cx="116" cy="303.3" r="0.45"/><circle cx="109.7" cy="305.1" r="0.45"/><circle cx="116" cy="307.8" r="0.45"/><circle cx="110.8" cy="283.7" r="0.45"/><circle cx="110.8" cy="296.5" r="0.45"/><circle cx="109.2" cy="308.8" r="0.45"/><circle cx="120.8" cy="309.5" r="0.45"/><circle cx="115.2" cy="314.9" r="0.45"/><circle cx="109.7" cy="294.2" r="0.45"/><circle cx="121.9" cy="322.6" r="0.45"/><circle cx="107.5" cy="291.5" r="0.45"/><circle cx="110.1" cy="301" r="0.45"/><circle cx="118.3" cy="302.5" r="0.45"/><circle cx="105.9" cy="296.1" r="0.45"/><circle cx="116.3" cy="313.6" r="0.45"/><circle cx="117.3" cy="317.1" r="0.45"/><circle cx="105.8" cy="293.3" r="0.45"/><circle cx="111.6" cy="305.2" r="0.45"/><circle cx="106.3" cy="298.1" r="0.45"/><circle cx="118.1" cy="294.1" r="0.45"/><circle cx="117.7" cy="310" r="0.45"/><circle cx="125.6" cy="312.9" r="0.45"/><circle cx="107.3" cy="294.1" r="0.45"/><circle cx="112.3" cy="300.9" r="0.45"/><circle cx="109" cy="309.2" r="0.45"/><circle cx="116.1" cy="302.3" r="0.45"/><circle cx="114.1" cy="302.8" r="0.45"/><circle cx="107.5" cy="308.6" r="0.45"/><circle cx="116.6" cy="287.5" r="0.45"/><circle cx="115.6" cy="297.1" r="0.45"/><circle cx="117.1" cy="311.5" r="0.45"/><circle cx="112.2" cy="284.8" r="0.45"/><circle cx="123.3" cy="315.9" r="0.45"/><circle cx="121.3" cy="317.4" r="0.45"/><circle cx="117" cy="301.5" r="0.45"/><circle cx="110.1" cy="289.6" r="0.45"/><circle cx="121.4" cy="323.8" r="0.45"/><circle cx="123" cy="303.8" r="0.45"/><circle cx="116.5" cy="321.8" r="0.45"/><circle cx="119.9" cy="302" r="0.45"/><circle cx="119.7" cy="301.6" r="0.45"/><circle cx="114.3" cy="308.3" r="0.45"/></g>
<g fill="#ececf0" opacity="0.6"><circle cx="115" cy="285" r="0.45"/><circle cx="114.6" cy="308.1" r="0.45"/><circle cx="111.3" cy="304" r="0.45"/><circle cx="114.7" cy="316.2" r="0.45"/><circle cx="115.4" cy="315.3" r="0.45"/><circle cx="112.3" cy="290.7" r="0.45"/><circle cx="115.9" cy="291.1" r="0.45"/><circle cx="115.7" cy="311.9" r="0.45"/><circle cx="109.2" cy="301.5" r="0.45"/><circle cx="110" cy="294.1" r="0.45"/><circle cx="111.9" cy="315.2" r="0.45"/><circle cx="112" cy="285.3" r="0.45"/><circle cx="118.4" cy="318.2" r="0.45"/><circle cx="118.1" cy="300.2" r="0.45"/><circle cx="116.8" cy="316" r="0.45"/><circle cx="117.8" cy="312.2" r="0.45"/><circle cx="109.4" cy="299.5" r="0.45"/><circle cx="113.8" cy="304.3" r="0.45"/><circle cx="112.3" cy="283.6" r="0.45"/><circle cx="115.9" cy="300.4" r="0.45"/><circle cx="123.7" cy="312" r="0.45"/><circle cx="117.8" cy="304.8" r="0.45"/><circle cx="107.8" cy="300.3" r="0.45"/><circle cx="116.6" cy="297.4" r="0.45"/><circle cx="107.6" cy="286.7" r="0.45"/><circle cx="109.8" cy="287.7" r="0.45"/><circle cx="115" cy="307.9" r="0.45"/><circle cx="120.5" cy="315.3" r="0.45"/><circle cx="125.7" cy="318.7" r="0.45"/><circle cx="119.2" cy="311.1" r="0.45"/><circle cx="116.6" cy="301.4" r="0.45"/><circle cx="111.6" cy="314" r="0.45"/><circle cx="112" cy="303.4" r="0.45"/><circle cx="119.7" cy="313.2" r="0.45"/><circle cx="118" cy="290.3" r="0.45"/><circle cx="124.9" cy="306.7" r="0.45"/><circle cx="118.2" cy="302.3" r="0.45"/><circle cx="110.9" cy="307" r="0.45"/><circle cx="121.5" cy="304.9" r="0.45"/><circle cx="113.5" cy="297.1" r="0.45"/><circle cx="119.6" cy="303.1" r="0.45"/><circle cx="116.9" cy="301.2" r="0.45"/><circle cx="121.5" cy="299.3" r="0.45"/><circle cx="113.9" cy="299.6" r="0.45"/><circle cx="115" cy="292.4" r="0.45"/><circle cx="120.6" cy="318.4" r="0.45"/><circle cx="120.2" cy="296.4" r="0.45"/><circle cx="117" cy="300.3" r="0.45"/><circle cx="112.1" cy="288.7" r="0.45"/><circle cx="114.6" cy="298.1" r="0.45"/><circle cx="110.5" cy="305.3" r="0.45"/><circle cx="116.4" cy="320.7" r="0.45"/><circle cx="117.3" cy="292.3" r="0.45"/><circle cx="109.6" cy="308.6" r="0.45"/><circle cx="119.4" cy="296.4" r="0.45"/><circle cx="113.8" cy="295.9" r="0.45"/><circle cx="117.4" cy="315.6" r="0.45"/><circle cx="108.7" cy="307.4" r="0.45"/><circle cx="117.4" cy="287.1" r="0.45"/><circle cx="119.5" cy="307.3" r="0.45"/><circle cx="122" cy="314.2" r="0.45"/><circle cx="115.6" cy="287.8" r="0.45"/><circle cx="120.2" cy="312.5" r="0.45"/></g>
<g fill="#a8a4d0" opacity="0.5"><circle cx="149.7" cy="260" r="0.45"/><circle cx="153.8" cy="271.5" r="0.45"/><circle cx="147.4" cy="262.2" r="0.45"/><circle cx="151.6" cy="268" r="0.45"/><circle cx="155.4" cy="266.3" r="0.45"/><circle cx="146.3" cy="253.1" r="0.45"/><circle cx="142.4" cy="260.7" r="0.45"/><circle cx="144.7" cy="253.1" r="0.45"/><circle cx="153.8" cy="254.4" r="0.45"/><circle cx="152.1" cy="274.9" r="0.45"/><circle cx="146.7" cy="263.3" r="0.45"/><circle cx="152.8" cy="246" r="0.45"/><circle cx="143.4" cy="257.1" r="0.45"/><circle cx="149.7" cy="251.2" r="0.45"/><circle cx="146.1" cy="256.8" r="0.45"/><circle cx="149.4" cy="252.5" r="0.45"/><circle cx="151.4" cy="262.1" r="0.45"/><circle cx="150.5" cy="244.3" r="0.45"/><circle cx="156" cy="256.9" r="0.45"/><circle cx="148.3" cy="249.4" r="0.45"/><circle cx="146.5" cy="263.9" r="0.45"/><circle cx="148.7" cy="275.6" r="0.45"/><circle cx="149.3" cy="255.9" r="0.45"/><circle cx="154.9" cy="271.6" r="0.45"/><circle cx="150.9" cy="272.2" r="0.45"/><circle cx="142.4" cy="266.5" r="0.45"/><circle cx="154.2" cy="250.1" r="0.45"/><circle cx="153.6" cy="251.6" r="0.45"/><circle cx="155" cy="248.7" r="0.45"/><circle cx="146.5" cy="253.7" r="0.45"/><circle cx="149.3" cy="270.4" r="0.45"/><circle cx="149.9" cy="272" r="0.45"/><circle cx="143.4" cy="265.7" r="0.45"/><circle cx="148.6" cy="273.6" r="0.45"/><circle cx="152.4" cy="268.2" r="0.45"/><circle cx="145" cy="275.9" r="0.45"/><circle cx="155.9" cy="263.1" r="0.45"/><circle cx="154.4" cy="261.4" r="0.45"/><circle cx="154.6" cy="257.4" r="0.45"/><circle cx="150.9" cy="252.2" r="0.45"/><circle cx="152.2" cy="261.9" r="0.45"/><circle cx="155.6" cy="265.8" r="0.45"/><circle cx="152.8" cy="247.3" r="0.45"/><circle cx="150.9" cy="255" r="0.45"/><circle cx="147.6" cy="251.9" r="0.45"/><circle cx="151.5" cy="250.9" r="0.45"/><circle cx="155.4" cy="253.6" r="0.45"/><circle cx="153.6" cy="251.1" r="0.45"/><circle cx="151.8" cy="263.2" r="0.45"/><circle cx="147.5" cy="263.3" r="0.45"/></g>
<g fill="#ececf0" opacity="0.6"><circle cx="151" cy="251.9" r="0.45"/><circle cx="149.4" cy="247.7" r="0.45"/><circle cx="156.3" cy="247.3" r="0.45"/><circle cx="142.8" cy="264" r="0.45"/><circle cx="149.3" cy="251.6" r="0.45"/><circle cx="144.8" cy="272.5" r="0.45"/><circle cx="149.9" cy="261.3" r="0.45"/><circle cx="148.7" cy="275.9" r="0.45"/><circle cx="143.6" cy="255.4" r="0.45"/><circle cx="147.3" cy="255.7" r="0.45"/><circle cx="153" cy="274.1" r="0.45"/><circle cx="152.5" cy="250.3" r="0.45"/><circle cx="144.8" cy="262" r="0.45"/><circle cx="152.4" cy="262.7" r="0.45"/><circle cx="148.7" cy="265.9" r="0.45"/><circle cx="149.3" cy="249.6" r="0.45"/><circle cx="145.4" cy="255.1" r="0.45"/><circle cx="146.9" cy="251.4" r="0.45"/><circle cx="154.8" cy="248.7" r="0.45"/><circle cx="142.4" cy="264.3" r="0.45"/><circle cx="152.4" cy="255.3" r="0.45"/><circle cx="148.6" cy="255.7" r="0.45"/><circle cx="148" cy="250.9" r="0.45"/><circle cx="151.4" cy="253.8" r="0.45"/><circle cx="155.5" cy="247.4" r="0.45"/><circle cx="144.1" cy="251.9" r="0.45"/><circle cx="149.6" cy="262.9" r="0.45"/><circle cx="148.1" cy="248.2" r="0.45"/><circle cx="156" cy="258.7" r="0.45"/><circle cx="149.5" cy="269.8" r="0.45"/><circle cx="148.9" cy="247.5" r="0.45"/><circle cx="147.1" cy="247.1" r="0.45"/><circle cx="154.8" cy="245.3" r="0.45"/><circle cx="144" cy="254.4" r="0.45"/><circle cx="152.2" cy="249.9" r="0.45"/><circle cx="151.2" cy="258.1" r="0.45"/><circle cx="153.7" cy="251.8" r="0.45"/><circle cx="146.8" cy="261.5" r="0.45"/><circle cx="146.1" cy="259.8" r="0.45"/><circle cx="152" cy="244.6" r="0.45"/><circle cx="151" cy="257.2" r="0.45"/><circle cx="148.3" cy="251.8" r="0.45"/></g>
<g fill="#8478c8" opacity="0.5"><circle cx="192.8" cy="287.3" r="0.5"/><circle cx="194.6" cy="295.6" r="0.5"/><circle cx="195.9" cy="291.7" r="0.5"/><circle cx="202.8" cy="296.9" r="0.5"/><circle cx="218.4" cy="289.1" r="0.5"/><circle cx="208" cy="281.4" r="0.5"/><circle cx="193.9" cy="280.1" r="0.5"/><circle cx="207.4" cy="297.9" r="0.5"/><circle cx="208.4" cy="292.6" r="0.5"/><circle cx="200.9" cy="272.8" r="0.5"/><circle cx="201.1" cy="296.5" r="0.5"/><circle cx="209.9" cy="292.8" r="0.5"/><circle cx="196.2" cy="297.9" r="0.5"/><circle cx="206.2" cy="287.4" r="0.5"/><circle cx="194.6" cy="281.4" r="0.5"/><circle cx="209.5" cy="292.7" r="0.5"/><circle cx="194.8" cy="282.3" r="0.5"/><circle cx="190.3" cy="277.3" r="0.5"/><circle cx="200.2" cy="293.7" r="0.5"/><circle cx="198.5" cy="271.3" r="0.5"/><circle cx="198.1" cy="269.5" r="0.5"/><circle cx="209.1" cy="276.9" r="0.5"/><circle cx="213.3" cy="286.7" r="0.5"/><circle cx="220.1" cy="280.9" r="0.5"/><circle cx="212.4" cy="296.3" r="0.5"/><circle cx="206.5" cy="296.3" r="0.5"/><circle cx="197.9" cy="289.6" r="0.5"/><circle cx="214.2" cy="280" r="0.5"/><circle cx="204.2" cy="288.3" r="0.5"/><circle cx="217" cy="276.3" r="0.5"/><circle cx="208.5" cy="267.1" r="0.5"/><circle cx="205.2" cy="287.9" r="0.5"/><circle cx="195.3" cy="282.6" r="0.5"/><circle cx="188.3" cy="283.9" r="0.5"/><circle cx="201.8" cy="281.1" r="0.5"/><circle cx="191.4" cy="294.9" r="0.5"/><circle cx="214" cy="288.8" r="0.5"/><circle cx="212.3" cy="295.8" r="0.5"/><circle cx="199.4" cy="296.2" r="0.5"/><circle cx="187.8" cy="279.3" r="0.5"/><circle cx="183.2" cy="291.2" r="0.5"/><circle cx="199.6" cy="299.1" r="0.5"/><circle cx="195.5" cy="280.2" r="0.5"/><circle cx="196.1" cy="275.9" r="0.5"/><circle cx="190.1" cy="280.1" r="0.5"/><circle cx="191.7" cy="282.8" r="0.5"/><circle cx="209.4" cy="267.6" r="0.5"/><circle cx="189.1" cy="277.6" r="0.5"/><circle cx="215.2" cy="280.1" r="0.5"/><circle cx="206.8" cy="268.4" r="0.5"/><circle cx="204.4" cy="270.1" r="0.5"/><circle cx="213.2" cy="286.4" r="0.5"/><circle cx="200.7" cy="283.3" r="0.5"/><circle cx="196" cy="287.2" r="0.5"/><circle cx="214.2" cy="275.8" r="0.5"/><circle cx="208.7" cy="276.9" r="0.5"/><circle cx="217.9" cy="289.2" r="0.5"/><circle cx="201.1" cy="287.9" r="0.5"/><circle cx="218.9" cy="278.4" r="0.5"/><circle cx="211.1" cy="273.8" r="0.5"/><circle cx="190.6" cy="286.1" r="0.5"/><circle cx="199" cy="278.5" r="0.5"/><circle cx="181" cy="290.5" r="0.5"/><circle cx="181.3" cy="289.9" r="0.5"/><circle cx="207.7" cy="273.2" r="0.5"/><circle cx="210.2" cy="290.5" r="0.5"/><circle cx="200.5" cy="292.5" r="0.5"/><circle cx="194.8" cy="283.8" r="0.5"/><circle cx="209.3" cy="289.9" r="0.5"/><circle cx="207.2" cy="285.1" r="0.5"/><circle cx="189.2" cy="278.3" r="0.5"/><circle cx="195.4" cy="280.9" r="0.5"/><circle cx="203.9" cy="290.7" r="0.5"/><circle cx="219.4" cy="281.5" r="0.5"/><circle cx="210.9" cy="273.8" r="0.5"/><circle cx="213.2" cy="279.8" r="0.5"/><circle cx="211.5" cy="282.6" r="0.5"/><circle cx="197.3" cy="292.9" r="0.5"/><circle cx="185.5" cy="288.9" r="0.5"/><circle cx="195" cy="289.6" r="0.5"/><circle cx="212" cy="276.5" r="0.5"/><circle cx="188.8" cy="289.5" r="0.5"/><circle cx="208.2" cy="293.9" r="0.5"/><circle cx="189.8" cy="281.3" r="0.5"/><circle cx="197.1" cy="279.7" r="0.5"/><circle cx="196.4" cy="283.6" r="0.5"/><circle cx="190.9" cy="278.6" r="0.5"/><circle cx="214.8" cy="294.4" r="0.5"/><circle cx="188" cy="285.9" r="0.5"/><circle cx="214.1" cy="279.3" r="0.5"/><circle cx="212.4" cy="282.3" r="0.5"/><circle cx="217.5" cy="273.7" r="0.5"/><circle cx="206.9" cy="298.6" r="0.5"/><circle cx="218.5" cy="276.9" r="0.5"/><circle cx="193.5" cy="289.6" r="0.5"/><circle cx="191.7" cy="280.7" r="0.5"/><circle cx="201.1" cy="283.5" r="0.5"/><circle cx="191" cy="287.1" r="0.5"/><circle cx="208.5" cy="295.2" r="0.5"/><circle cx="183.7" cy="288.3" r="0.5"/><circle cx="200" cy="276.6" r="0.5"/><circle cx="204.9" cy="286.5" r="0.5"/><circle cx="216.7" cy="290.3" r="0.5"/><circle cx="198.6" cy="280" r="0.5"/><circle cx="208" cy="288" r="0.5"/><circle cx="200" cy="297.2" r="0.5"/><circle cx="192" cy="284.4" r="0.5"/><circle cx="189.7" cy="285.9" r="0.5"/><circle cx="194" cy="279.9" r="0.5"/><circle cx="203.7" cy="272.8" r="0.5"/><circle cx="203.8" cy="288.6" r="0.5"/><circle cx="208.2" cy="272.4" r="0.5"/><circle cx="182.1" cy="290.8" r="0.5"/><circle cx="188.4" cy="281.9" r="0.5"/><circle cx="195.6" cy="276.9" r="0.5"/><circle cx="204" cy="271.7" r="0.5"/><circle cx="198.5" cy="289.7" r="0.5"/><circle cx="201.1" cy="277.6" r="0.5"/><circle cx="212" cy="293.6" r="0.5"/><circle cx="195.2" cy="295.3" r="0.5"/><circle cx="192.6" cy="291.2" r="0.5"/><circle cx="195.4" cy="282" r="0.5"/><circle cx="210.2" cy="291.2" r="0.5"/><circle cx="210.6" cy="274.1" r="0.5"/><circle cx="191.4" cy="291.9" r="0.5"/><circle cx="198.4" cy="269.7" r="0.5"/><circle cx="211.4" cy="282.3" r="0.5"/><circle cx="201.9" cy="269.4" r="0.5"/><circle cx="208.8" cy="283.8" r="0.5"/><circle cx="206.4" cy="291.1" r="0.5"/><circle cx="209" cy="274.1" r="0.5"/><circle cx="206.5" cy="286.3" r="0.5"/><circle cx="206.3" cy="285.7" r="0.5"/><circle cx="211.3" cy="288.7" r="0.5"/><circle cx="210" cy="274" r="0.5"/><circle cx="201.1" cy="268.6" r="0.5"/><circle cx="216.7" cy="286.2" r="0.5"/><circle cx="197.6" cy="289.3" r="0.5"/><circle cx="190.3" cy="289.7" r="0.5"/><circle cx="204.9" cy="285.4" r="0.5"/><circle cx="192.9" cy="287.2" r="0.5"/><circle cx="201.7" cy="279.4" r="0.5"/><circle cx="200.4" cy="294.2" r="0.5"/><circle cx="217.8" cy="282" r="0.5"/><circle cx="216.4" cy="292.4" r="0.5"/><circle cx="213.3" cy="274.9" r="0.5"/><circle cx="216.5" cy="293.5" r="0.5"/><circle cx="186.1" cy="285.9" r="0.5"/><circle cx="192" cy="296" r="0.5"/><circle cx="194.7" cy="280" r="0.5"/><circle cx="207.6" cy="290" r="0.5"/><circle cx="209.3" cy="286.1" r="0.5"/><circle cx="206.8" cy="273.7" r="0.5"/><circle cx="198.4" cy="297.4" r="0.5"/><circle cx="183.9" cy="293.3" r="0.5"/><circle cx="197.2" cy="275.2" r="0.5"/><circle cx="201.7" cy="289.9" r="0.5"/><circle cx="182.6" cy="288.9" r="0.5"/><circle cx="199.5" cy="281.7" r="0.5"/><circle cx="191.1" cy="279.3" r="0.5"/><circle cx="202.7" cy="295.8" r="0.5"/><circle cx="206" cy="279.7" r="0.5"/><circle cx="217.9" cy="289.6" r="0.5"/><circle cx="195.5" cy="286" r="0.5"/><circle cx="206.8" cy="279.3" r="0.5"/><circle cx="206.7" cy="296.3" r="0.5"/><circle cx="218.3" cy="276.8" r="0.5"/><circle cx="206.7" cy="286.3" r="0.5"/><circle cx="191.7" cy="287.7" r="0.5"/><circle cx="197.7" cy="270" r="0.5"/><circle cx="203.8" cy="290.7" r="0.5"/><circle cx="188.4" cy="285.2" r="0.5"/><circle cx="195.6" cy="280" r="0.5"/><circle cx="209.2" cy="278" r="0.5"/><circle cx="207" cy="270.6" r="0.5"/><circle cx="200.5" cy="277.2" r="0.5"/><circle cx="197.4" cy="285.3" r="0.5"/><circle cx="213.7" cy="270.1" r="0.5"/><circle cx="195.8" cy="290.3" r="0.5"/><circle cx="209.6" cy="287.4" r="0.5"/><circle cx="189.8" cy="283.1" r="0.5"/><circle cx="202.9" cy="267.7" r="0.5"/><circle cx="201.9" cy="280.9" r="0.5"/><circle cx="215.3" cy="290.8" r="0.5"/><circle cx="215.8" cy="276.5" r="0.5"/><circle cx="202" cy="292.2" r="0.5"/><circle cx="204.6" cy="274.6" r="0.5"/><circle cx="202" cy="293.2" r="0.5"/><circle cx="181.6" cy="290.4" r="0.5"/><circle cx="185.1" cy="284.7" r="0.5"/><circle cx="212" cy="280" r="0.5"/><circle cx="205.1" cy="275.6" r="0.5"/><circle cx="197" cy="273.1" r="0.5"/><circle cx="209.5" cy="294.7" r="0.5"/><circle cx="204.1" cy="286.3" r="0.5"/><circle cx="196" cy="280.6" r="0.5"/><circle cx="180.4" cy="289.4" r="0.5"/><circle cx="199.2" cy="296.3" r="0.5"/><circle cx="210" cy="270" r="0.5"/><circle cx="210.6" cy="290.1" r="0.5"/><circle cx="213.2" cy="272.9" r="0.5"/><circle cx="206.7" cy="284.9" r="0.5"/><circle cx="197.5" cy="278" r="0.5"/><circle cx="199" cy="278.1" r="0.5"/><circle cx="203.5" cy="286.9" r="0.5"/><circle cx="202.6" cy="287.8" r="0.5"/><circle cx="206.5" cy="291.6" r="0.5"/><circle cx="188.4" cy="284.1" r="0.5"/><circle cx="203.5" cy="293.7" r="0.5"/><circle cx="190" cy="280.9" r="0.5"/><circle cx="208.5" cy="286" r="0.5"/><circle cx="196.4" cy="295.3" r="0.5"/><circle cx="204.9" cy="275.2" r="0.5"/><circle cx="204.9" cy="292.2" r="0.5"/><circle cx="196.1" cy="274.4" r="0.5"/><circle cx="189" cy="288.3" r="0.5"/><circle cx="214.4" cy="282.1" r="0.5"/><circle cx="205.4" cy="293.5" r="0.5"/><circle cx="202.4" cy="288.2" r="0.5"/><circle cx="186.4" cy="282.7" r="0.5"/><circle cx="197.3" cy="290.2" r="0.5"/><circle cx="186" cy="291.6" r="0.5"/><circle cx="186.3" cy="294.5" r="0.5"/><circle cx="207.3" cy="268.4" r="0.5"/><circle cx="216.5" cy="283.3" r="0.5"/><circle cx="202" cy="272.7" r="0.5"/></g>
<g fill="#dcdce4" opacity="0.6"><circle cx="200.9" cy="285" r="0.45"/><circle cx="206.2" cy="283.1" r="0.45"/><circle cx="201.4" cy="281.3" r="0.45"/><circle cx="207.3" cy="288.6" r="0.45"/><circle cx="198.7" cy="292.7" r="0.45"/><circle cx="208.8" cy="280.7" r="0.45"/><circle cx="196.9" cy="298.1" r="0.45"/><circle cx="197.9" cy="286.9" r="0.45"/><circle cx="215.3" cy="271.5" r="0.45"/><circle cx="218.2" cy="277" r="0.45"/><circle cx="216.2" cy="282.1" r="0.45"/><circle cx="204.2" cy="278.5" r="0.45"/><circle cx="213.7" cy="275.1" r="0.45"/><circle cx="196.1" cy="293.2" r="0.45"/><circle cx="205.1" cy="293.4" r="0.45"/><circle cx="200.3" cy="296.9" r="0.45"/><circle cx="211.5" cy="293" r="0.45"/><circle cx="219.6" cy="280.4" r="0.45"/><circle cx="194.9" cy="277" r="0.45"/><circle cx="211.4" cy="286.4" r="0.45"/><circle cx="190.4" cy="280.2" r="0.45"/><circle cx="187.2" cy="286.7" r="0.45"/><circle cx="203.2" cy="280.5" r="0.45"/><circle cx="182.7" cy="289.8" r="0.45"/><circle cx="180.6" cy="289.5" r="0.45"/><circle cx="199.3" cy="289" r="0.45"/><circle cx="182.5" cy="289.4" r="0.45"/><circle cx="208.8" cy="279" r="0.45"/><circle cx="214.3" cy="270.4" r="0.45"/><circle cx="216.3" cy="290.2" r="0.45"/><circle cx="213.5" cy="293.4" r="0.45"/><circle cx="207.3" cy="272.4" r="0.45"/><circle cx="211.3" cy="272.2" r="0.45"/><circle cx="212.8" cy="271" r="0.45"/><circle cx="186.8" cy="294.9" r="0.45"/><circle cx="189.2" cy="281.2" r="0.45"/><circle cx="194.7" cy="293.5" r="0.45"/><circle cx="189.9" cy="278.1" r="0.45"/><circle cx="219" cy="286.9" r="0.45"/><circle cx="198.6" cy="287.7" r="0.45"/><circle cx="191.5" cy="280.9" r="0.45"/><circle cx="191.8" cy="280.6" r="0.45"/><circle cx="219" cy="286.3" r="0.45"/><circle cx="212" cy="282.4" r="0.45"/><circle cx="211" cy="283" r="0.45"/><circle cx="204.7" cy="285.7" r="0.45"/><circle cx="183.9" cy="289.7" r="0.45"/><circle cx="205.9" cy="279.7" r="0.45"/><circle cx="214.9" cy="292.7" r="0.45"/><circle cx="213.1" cy="273.6" r="0.45"/><circle cx="187.7" cy="286.3" r="0.45"/><circle cx="201.5" cy="272.4" r="0.45"/><circle cx="184.9" cy="289.2" r="0.45"/><circle cx="207.8" cy="292.8" r="0.45"/><circle cx="189.8" cy="277" r="0.45"/><circle cx="198.4" cy="290.8" r="0.45"/><circle cx="206" cy="292.2" r="0.45"/><circle cx="214" cy="274.2" r="0.45"/><circle cx="197" cy="293.1" r="0.45"/><circle cx="198" cy="283.9" r="0.45"/><circle cx="212.8" cy="269.5" r="0.45"/><circle cx="202" cy="271.9" r="0.45"/><circle cx="218.9" cy="287.6" r="0.45"/><circle cx="205.2" cy="281.8" r="0.45"/><circle cx="209.6" cy="274.2" r="0.45"/><circle cx="219.6" cy="280.5" r="0.45"/><circle cx="207.8" cy="267.1" r="0.45"/><circle cx="210.3" cy="291.1" r="0.45"/><circle cx="194.8" cy="282.2" r="0.45"/><circle cx="196.3" cy="278.4" r="0.45"/><circle cx="207" cy="286.7" r="0.45"/><circle cx="207.3" cy="280.1" r="0.45"/><circle cx="206.8" cy="297.9" r="0.45"/><circle cx="207.3" cy="290.7" r="0.45"/><circle cx="215.3" cy="283.2" r="0.45"/><circle cx="188.1" cy="286.1" r="0.45"/><circle cx="210.1" cy="294.9" r="0.45"/><circle cx="195" cy="283.8" r="0.45"/><circle cx="185.7" cy="293.8" r="0.45"/><circle cx="217.6" cy="279" r="0.45"/><circle cx="196.7" cy="298.8" r="0.45"/><circle cx="205.2" cy="284.4" r="0.45"/><circle cx="203.1" cy="282" r="0.45"/><circle cx="211.5" cy="272.6" r="0.45"/><circle cx="213.4" cy="293.7" r="0.45"/><circle cx="209.1" cy="291" r="0.45"/><circle cx="194.7" cy="273.3" r="0.45"/><circle cx="203.3" cy="279.1" r="0.45"/><circle cx="213.1" cy="281.4" r="0.45"/><circle cx="200.5" cy="278.7" r="0.45"/><circle cx="190.4" cy="289.2" r="0.45"/><circle cx="218.2" cy="289.1" r="0.45"/><circle cx="208" cy="286.3" r="0.45"/><circle cx="187.3" cy="284.9" r="0.45"/><circle cx="197.5" cy="291.3" r="0.45"/><circle cx="203.8" cy="286.4" r="0.45"/><circle cx="187.1" cy="282.7" r="0.45"/><circle cx="206.1" cy="291.5" r="0.45"/><circle cx="188.6" cy="285.3" r="0.45"/><circle cx="191.8" cy="290" r="0.45"/><circle cx="201" cy="271.3" r="0.45"/><circle cx="184.8" cy="282.6" r="0.45"/><circle cx="198.1" cy="293.2" r="0.45"/><circle cx="189.4" cy="277.9" r="0.45"/><circle cx="209.6" cy="269.8" r="0.45"/><circle cx="198.2" cy="276.7" r="0.45"/><circle cx="200.1" cy="287.9" r="0.45"/><circle cx="196.2" cy="273.8" r="0.45"/><circle cx="193.8" cy="277.8" r="0.45"/><circle cx="182.1" cy="289.7" r="0.45"/><circle cx="197.5" cy="283.6" r="0.45"/><circle cx="212" cy="279.1" r="0.45"/><circle cx="207.1" cy="278.3" r="0.45"/><circle cx="202.2" cy="291.4" r="0.45"/><circle cx="197.5" cy="272.6" r="0.45"/><circle cx="204.2" cy="299.1" r="0.45"/><circle cx="199.8" cy="283.3" r="0.45"/><circle cx="190.5" cy="290.9" r="0.45"/><circle cx="194.1" cy="274.7" r="0.45"/><circle cx="214.6" cy="273.4" r="0.45"/><circle cx="194.5" cy="275.4" r="0.45"/><circle cx="216.6" cy="289.4" r="0.45"/><circle cx="200.5" cy="276.3" r="0.45"/><circle cx="196.1" cy="285" r="0.45"/><circle cx="200.8" cy="273.5" r="0.45"/><circle cx="202.1" cy="267.4" r="0.45"/><circle cx="210.5" cy="291.9" r="0.45"/><circle cx="209.2" cy="285.8" r="0.45"/><circle cx="214.5" cy="273.1" r="0.45"/><circle cx="189.1" cy="288.2" r="0.45"/><circle cx="210" cy="276" r="0.45"/><circle cx="212.6" cy="296.1" r="0.45"/><circle cx="211" cy="277.7" r="0.45"/><circle cx="188.7" cy="288.5" r="0.45"/><circle cx="209.2" cy="286.7" r="0.45"/><circle cx="202.9" cy="276.5" r="0.45"/><circle cx="198.3" cy="280.7" r="0.45"/><circle cx="215.8" cy="283.7" r="0.45"/><circle cx="216.8" cy="279.7" r="0.45"/><circle cx="210.7" cy="270.5" r="0.45"/><circle cx="214.8" cy="286.4" r="0.45"/></g>
<g fill="#7a6ec4" opacity="0.55"><circle cx="160.6" cy="319.9" r="0.5"/><circle cx="154.6" cy="321.7" r="0.5"/><circle cx="161.3" cy="319.2" r="0.5"/><circle cx="158.4" cy="320.2" r="0.5"/><circle cx="159.2" cy="316.6" r="0.5"/><circle cx="160" cy="320.7" r="0.5"/><circle cx="155.5" cy="317.7" r="0.5"/><circle cx="158" cy="322.6" r="0.5"/><circle cx="159.7" cy="317.2" r="0.5"/><circle cx="163.5" cy="317.6" r="0.5"/><circle cx="155.1" cy="322.8" r="0.5"/><circle cx="153.8" cy="318.1" r="0.5"/><circle cx="154.3" cy="321.6" r="0.5"/><circle cx="157.7" cy="321.7" r="0.5"/><circle cx="155.7" cy="316.5" r="0.5"/></g>
<g fill="#ffffff" opacity="0.7"><circle cx="154" cy="322.2" r="0.5"/><circle cx="164.4" cy="317.5" r="0.5"/><circle cx="161.1" cy="320.5" r="0.5"/><circle cx="158.2" cy="318.6" r="0.5"/><circle cx="164.4" cy="317.9" r="0.5"/><circle cx="159.6" cy="321.3" r="0.5"/></g>
<g fill="#7a6ec4" opacity="0.55"><circle cx="151.4" cy="333.5" r="0.5"/><circle cx="152.8" cy="329" r="0.5"/><circle cx="149.1" cy="334.2" r="0.5"/><circle cx="150.3" cy="333.3" r="0.5"/><circle cx="153.3" cy="326.1" r="0.5"/><circle cx="152.9" cy="335.2" r="0.5"/><circle cx="151.7" cy="329.4" r="0.5"/><circle cx="150.7" cy="332.8" r="0.5"/><circle cx="147.9" cy="335.1" r="0.5"/></g>
<g fill="#ffffff" opacity="0.7"><circle cx="151.2" cy="336.6" r="0.5"/><circle cx="153.8" cy="327.6" r="0.5"/><circle cx="149.8" cy="332.5" r="0.5"/><circle cx="152.2" cy="331.5" r="0.5"/></g>
<g fill="#7a6ec4" opacity="0.55"><circle cx="165" cy="349.1" r="0.5"/><circle cx="174.1" cy="350.2" r="0.5"/><circle cx="164.4" cy="345.9" r="0.5"/><circle cx="160.8" cy="339.4" r="0.5"/><circle cx="173.9" cy="344.5" r="0.5"/><circle cx="162" cy="343.5" r="0.5"/><circle cx="174.2" cy="344.8" r="0.5"/><circle cx="161.1" cy="338" r="0.5"/><circle cx="175.2" cy="348.1" r="0.5"/><circle cx="168.1" cy="350.9" r="0.5"/><circle cx="163.3" cy="348.7" r="0.5"/><circle cx="167.4" cy="344" r="0.5"/><circle cx="165.1" cy="345.1" r="0.5"/><circle cx="163.2" cy="337" r="0.5"/><circle cx="170.6" cy="343.9" r="0.5"/><circle cx="164.4" cy="345.7" r="0.5"/><circle cx="169.2" cy="347.7" r="0.5"/><circle cx="173.6" cy="348.3" r="0.5"/><circle cx="167.5" cy="343" r="0.5"/><circle cx="165.5" cy="345.8" r="0.5"/><circle cx="170.6" cy="347.5" r="0.5"/><circle cx="171.9" cy="346.6" r="0.5"/><circle cx="170.9" cy="349" r="0.5"/><circle cx="169.5" cy="346.5" r="0.5"/><circle cx="162.1" cy="336.4" r="0.5"/><circle cx="167.2" cy="349.5" r="0.5"/><circle cx="161.6" cy="340" r="0.5"/><circle cx="162.5" cy="335.5" r="0.5"/><circle cx="161.9" cy="343.9" r="0.5"/><circle cx="172.2" cy="351.9" r="0.5"/><circle cx="168" cy="348.5" r="0.5"/><circle cx="163.7" cy="346" r="0.5"/><circle cx="162.4" cy="337.8" r="0.5"/><circle cx="169.4" cy="346.4" r="0.5"/><circle cx="166.2" cy="337.5" r="0.5"/><circle cx="172.6" cy="349.9" r="0.5"/><circle cx="160.8" cy="340.5" r="0.5"/><circle cx="173.4" cy="351" r="0.5"/><circle cx="171.1" cy="347" r="0.5"/><circle cx="165.9" cy="338.1" r="0.5"/><circle cx="163.3" cy="337.8" r="0.5"/><circle cx="175.2" cy="346.8" r="0.5"/><circle cx="167.4" cy="343.6" r="0.5"/></g>
<g fill="#ffffff" opacity="0.7"><circle cx="166" cy="338.6" r="0.5"/><circle cx="168.1" cy="343.4" r="0.5"/><circle cx="166.8" cy="352.4" r="0.5"/><circle cx="167" cy="350.6" r="0.5"/><circle cx="162.9" cy="344.9" r="0.5"/><circle cx="166" cy="348.8" r="0.5"/><circle cx="168.6" cy="341.4" r="0.5"/><circle cx="167.2" cy="348" r="0.5"/><circle cx="170.2" cy="346.3" r="0.5"/><circle cx="167.4" cy="352" r="0.5"/><circle cx="174" cy="350.9" r="0.5"/><circle cx="169.9" cy="351.8" r="0.5"/><circle cx="167.6" cy="342.5" r="0.5"/><circle cx="165.5" cy="341.3" r="0.5"/><circle cx="166" cy="341.2" r="0.5"/><circle cx="163.3" cy="341.1" r="0.5"/><circle cx="160.2" cy="334.7" r="0.5"/><circle cx="170.4" cy="342.8" r="0.5"/><circle cx="173.6" cy="344.1" r="0.5"/></g>
<g fill="#ececf0" opacity="0.6"><circle cx="132.7" cy="369.4" r="0.45"/><circle cx="123.5" cy="362.5" r="0.45"/><circle cx="137.1" cy="364.2" r="0.45"/><circle cx="125.3" cy="363.6" r="0.45"/><circle cx="126.9" cy="368.8" r="0.45"/><circle cx="144.7" cy="367.3" r="0.45"/><circle cx="143.5" cy="372.4" r="0.45"/><circle cx="126.8" cy="370.4" r="0.45"/><circle cx="146.1" cy="357.7" r="0.45"/><circle cx="128.9" cy="366.5" r="0.45"/><circle cx="147" cy="353.8" r="0.45"/><circle cx="136.9" cy="364.9" r="0.45"/><circle cx="133.6" cy="364.6" r="0.45"/><circle cx="123.6" cy="365.7" r="0.45"/><circle cx="131.7" cy="366.8" r="0.45"/><circle cx="131.1" cy="364.7" r="0.45"/><circle cx="136.1" cy="366.9" r="0.45"/><circle cx="129.9" cy="363.5" r="0.45"/><circle cx="146.7" cy="350.7" r="0.45"/><circle cx="128.6" cy="369.8" r="0.45"/><circle cx="148.1" cy="363.3" r="0.45"/><circle cx="143.7" cy="364.2" r="0.45"/><circle cx="145.2" cy="365.2" r="0.45"/><circle cx="130.2" cy="362.2" r="0.45"/><circle cx="125.1" cy="365.6" r="0.45"/><circle cx="130" cy="365.7" r="0.45"/><circle cx="143.4" cy="358.1" r="0.45"/><circle cx="144" cy="361" r="0.45"/><circle cx="146.1" cy="360.3" r="0.45"/><circle cx="144.2" cy="360.9" r="0.45"/><circle cx="144" cy="369" r="0.45"/><circle cx="135.6" cy="363.4" r="0.45"/><circle cx="132.6" cy="370.3" r="0.45"/><circle cx="123.8" cy="366" r="0.45"/><circle cx="144.3" cy="371.7" r="0.45"/><circle cx="146.7" cy="366.7" r="0.45"/><circle cx="134.4" cy="367.7" r="0.45"/><circle cx="129.9" cy="368" r="0.45"/><circle cx="134.2" cy="369" r="0.45"/><circle cx="137.6" cy="360.3" r="0.45"/><circle cx="137" cy="366.2" r="0.45"/><circle cx="144.5" cy="369.6" r="0.45"/><circle cx="146.8" cy="353" r="0.45"/></g>
<g fill="#8478c8" opacity="0.52"><circle cx="188" cy="386.3" r="0.5"/><circle cx="203" cy="376.1" r="0.5"/><circle cx="188.4" cy="384.1" r="0.5"/><circle cx="205" cy="372.5" r="0.5"/><circle cx="203.8" cy="383.7" r="0.5"/><circle cx="208.9" cy="367.2" r="0.5"/><circle cx="192.8" cy="386.3" r="0.5"/><circle cx="195.8" cy="379.6" r="0.5"/><circle cx="197.2" cy="384.4" r="0.5"/><circle cx="210.1" cy="370.2" r="0.5"/><circle cx="196.3" cy="366.5" r="0.5"/><circle cx="193.1" cy="383.5" r="0.5"/><circle cx="204.4" cy="375.3" r="0.5"/><circle cx="206.6" cy="378.8" r="0.5"/><circle cx="192.6" cy="382.5" r="0.5"/><circle cx="207.2" cy="368.1" r="0.5"/><circle cx="205.9" cy="376.7" r="0.5"/><circle cx="189.6" cy="382.9" r="0.5"/><circle cx="201.9" cy="374.4" r="0.5"/><circle cx="189.7" cy="372.1" r="0.5"/><circle cx="197.2" cy="384.3" r="0.5"/><circle cx="202.3" cy="376.3" r="0.5"/><circle cx="191.8" cy="375.6" r="0.5"/><circle cx="211.7" cy="369.4" r="0.5"/><circle cx="196" cy="368.9" r="0.5"/><circle cx="191.2" cy="379.3" r="0.5"/><circle cx="201.6" cy="365.3" r="0.5"/><circle cx="190.7" cy="384.1" r="0.5"/><circle cx="201.7" cy="374.7" r="0.5"/><circle cx="203.3" cy="362" r="0.5"/><circle cx="199.6" cy="375.3" r="0.5"/><circle cx="210" cy="374.2" r="0.5"/><circle cx="197.6" cy="384.6" r="0.5"/><circle cx="206.3" cy="372.6" r="0.5"/><circle cx="187.1" cy="380.2" r="0.5"/><circle cx="208.3" cy="364.9" r="0.5"/><circle cx="195.8" cy="372.3" r="0.5"/><circle cx="191" cy="377.4" r="0.5"/><circle cx="197.8" cy="369.2" r="0.5"/><circle cx="207.7" cy="375.4" r="0.5"/><circle cx="192" cy="382.5" r="0.5"/><circle cx="196.9" cy="365.2" r="0.5"/><circle cx="194.3" cy="371.9" r="0.5"/><circle cx="205.1" cy="363.1" r="0.5"/><circle cx="199.8" cy="361.5" r="0.5"/><circle cx="189.5" cy="386.4" r="0.5"/><circle cx="190.3" cy="372.6" r="0.5"/><circle cx="188" cy="382.8" r="0.5"/><circle cx="197.4" cy="368.4" r="0.5"/><circle cx="199.6" cy="361.9" r="0.5"/><circle cx="197.6" cy="386.6" r="0.5"/><circle cx="190.7" cy="387.7" r="0.5"/><circle cx="200.6" cy="386.1" r="0.5"/><circle cx="202.4" cy="366.7" r="0.5"/><circle cx="189.3" cy="384.2" r="0.5"/><circle cx="190.2" cy="385.2" r="0.5"/><circle cx="202.5" cy="383.2" r="0.5"/><circle cx="197.6" cy="376.7" r="0.5"/><circle cx="192.9" cy="369.7" r="0.5"/><circle cx="192.4" cy="389.3" r="0.5"/><circle cx="195.5" cy="369.2" r="0.5"/><circle cx="193.5" cy="387.6" r="0.5"/><circle cx="194.3" cy="379.8" r="0.5"/><circle cx="204.8" cy="383.3" r="0.5"/><circle cx="201.8" cy="368.7" r="0.5"/><circle cx="201.8" cy="377.4" r="0.5"/><circle cx="200.8" cy="367.2" r="0.5"/><circle cx="201.8" cy="380.1" r="0.5"/><circle cx="207" cy="362.7" r="0.5"/><circle cx="203.9" cy="367.5" r="0.5"/><circle cx="207.5" cy="376.1" r="0.5"/><circle cx="209.3" cy="375" r="0.5"/><circle cx="205.5" cy="365" r="0.5"/><circle cx="185.1" cy="374.6" r="0.5"/><circle cx="191.5" cy="369.9" r="0.5"/><circle cx="199" cy="369.4" r="0.5"/><circle cx="190.2" cy="375.7" r="0.5"/><circle cx="200.8" cy="383.4" r="0.5"/><circle cx="202.5" cy="383.9" r="0.5"/><circle cx="199.5" cy="373.2" r="0.5"/><circle cx="186.9" cy="377.5" r="0.5"/><circle cx="205.8" cy="374.6" r="0.5"/><circle cx="203.2" cy="371.2" r="0.5"/><circle cx="185.5" cy="381.5" r="0.5"/><circle cx="190.4" cy="376.9" r="0.5"/><circle cx="206.5" cy="365.1" r="0.5"/><circle cx="185.5" cy="378.8" r="0.5"/><circle cx="197.5" cy="376.2" r="0.5"/><circle cx="194.9" cy="387.6" r="0.5"/><circle cx="195.2" cy="366.9" r="0.5"/><circle cx="202.6" cy="372" r="0.5"/><circle cx="202" cy="367.5" r="0.5"/><circle cx="211.6" cy="370.6" r="0.5"/><circle cx="199.6" cy="386.7" r="0.5"/><circle cx="205.1" cy="372.5" r="0.5"/><circle cx="192.7" cy="383.3" r="0.5"/><circle cx="207.3" cy="363" r="0.5"/><circle cx="202.2" cy="376" r="0.5"/><circle cx="206.1" cy="362.3" r="0.5"/><circle cx="209" cy="368.2" r="0.5"/><circle cx="197.1" cy="369.6" r="0.5"/><circle cx="200.6" cy="372" r="0.5"/><circle cx="205.7" cy="365.9" r="0.5"/><circle cx="200.3" cy="370.6" r="0.5"/><circle cx="202.9" cy="384.1" r="0.5"/><circle cx="205.7" cy="377.8" r="0.5"/><circle cx="196.6" cy="388.3" r="0.5"/><circle cx="193.6" cy="376.3" r="0.5"/><circle cx="196.1" cy="367.3" r="0.5"/><circle cx="198.4" cy="363" r="0.5"/><circle cx="203.5" cy="373.1" r="0.5"/><circle cx="188.9" cy="386.4" r="0.5"/><circle cx="189.2" cy="373.2" r="0.5"/><circle cx="203.8" cy="379.5" r="0.5"/><circle cx="200.6" cy="364.1" r="0.5"/><circle cx="190.5" cy="369.8" r="0.5"/><circle cx="193.4" cy="384.2" r="0.5"/><circle cx="205.1" cy="365.7" r="0.5"/><circle cx="200.6" cy="373.7" r="0.5"/><circle cx="192.5" cy="370.7" r="0.5"/><circle cx="195.3" cy="384.5" r="0.5"/><circle cx="200.3" cy="381.8" r="0.5"/><circle cx="207.3" cy="370.3" r="0.5"/><circle cx="187.6" cy="374.5" r="0.5"/><circle cx="198.6" cy="364.3" r="0.5"/><circle cx="203.1" cy="385.8" r="0.5"/><circle cx="195.8" cy="366.3" r="0.5"/><circle cx="193.1" cy="371.8" r="0.5"/><circle cx="186.8" cy="378.8" r="0.5"/><circle cx="206.5" cy="364.5" r="0.5"/><circle cx="188.6" cy="382" r="0.5"/><circle cx="201.9" cy="364.6" r="0.5"/><circle cx="192.9" cy="381.4" r="0.5"/><circle cx="192.8" cy="384.5" r="0.5"/><circle cx="203.8" cy="361.7" r="0.5"/><circle cx="200.6" cy="375.5" r="0.5"/><circle cx="195.6" cy="385.5" r="0.5"/><circle cx="200.7" cy="363" r="0.5"/><circle cx="203.4" cy="367" r="0.5"/><circle cx="204.3" cy="364.8" r="0.5"/><circle cx="200.5" cy="376.1" r="0.5"/><circle cx="201.6" cy="382.5" r="0.5"/><circle cx="191.6" cy="368.4" r="0.5"/><circle cx="196.7" cy="366.6" r="0.5"/><circle cx="204" cy="364.5" r="0.5"/><circle cx="200.2" cy="380.7" r="0.5"/><circle cx="187.5" cy="386.3" r="0.5"/><circle cx="193.1" cy="381.4" r="0.5"/></g>
<g fill="#dcdce4" opacity="0.6"><circle cx="206.5" cy="369.5" r="0.45"/><circle cx="193.5" cy="386.1" r="0.45"/><circle cx="196.4" cy="377.5" r="0.45"/><circle cx="189.2" cy="377.3" r="0.45"/><circle cx="196.3" cy="371.6" r="0.45"/><circle cx="196.7" cy="367.9" r="0.45"/><circle cx="199.5" cy="380.7" r="0.45"/><circle cx="192.4" cy="379" r="0.45"/><circle cx="195" cy="368.3" r="0.45"/><circle cx="201.2" cy="364.9" r="0.45"/><circle cx="189.6" cy="370.9" r="0.45"/><circle cx="189.3" cy="385" r="0.45"/><circle cx="203" cy="361.4" r="0.45"/><circle cx="201.6" cy="369.7" r="0.45"/><circle cx="207.8" cy="363.2" r="0.45"/><circle cx="201.5" cy="382" r="0.45"/><circle cx="207.4" cy="376" r="0.45"/><circle cx="194.5" cy="377.1" r="0.45"/><circle cx="188.5" cy="376.6" r="0.45"/><circle cx="193" cy="375.6" r="0.45"/><circle cx="201" cy="372" r="0.45"/><circle cx="209.4" cy="365.1" r="0.45"/><circle cx="203.9" cy="373.5" r="0.45"/><circle cx="196.7" cy="379.9" r="0.45"/><circle cx="199.4" cy="381.5" r="0.45"/><circle cx="209.1" cy="375" r="0.45"/><circle cx="193.9" cy="377.1" r="0.45"/><circle cx="191.2" cy="369.3" r="0.45"/><circle cx="200.3" cy="371.8" r="0.45"/><circle cx="194.7" cy="367.1" r="0.45"/><circle cx="197.8" cy="382.5" r="0.45"/><circle cx="205.3" cy="372.8" r="0.45"/><circle cx="190" cy="376" r="0.45"/><circle cx="195.7" cy="372.4" r="0.45"/><circle cx="192.9" cy="371.5" r="0.45"/><circle cx="196.6" cy="388.2" r="0.45"/><circle cx="196.2" cy="370.5" r="0.45"/><circle cx="182.4" cy="379.4" r="0.45"/><circle cx="192.3" cy="383.7" r="0.45"/><circle cx="203.1" cy="385.9" r="0.45"/><circle cx="200.2" cy="368.3" r="0.45"/><circle cx="205.8" cy="370.4" r="0.45"/><circle cx="197.2" cy="373.4" r="0.45"/><circle cx="198.1" cy="378.9" r="0.45"/><circle cx="192.9" cy="384.4" r="0.45"/><circle cx="203.6" cy="384.7" r="0.45"/><circle cx="192.2" cy="386.8" r="0.45"/><circle cx="196.2" cy="367.6" r="0.45"/><circle cx="197.5" cy="366.6" r="0.45"/><circle cx="192.1" cy="381.5" r="0.45"/><circle cx="186.5" cy="374.8" r="0.45"/><circle cx="199.5" cy="370.2" r="0.45"/><circle cx="203" cy="378.3" r="0.45"/><circle cx="198" cy="378.7" r="0.45"/><circle cx="191.1" cy="388" r="0.45"/><circle cx="186.9" cy="374.1" r="0.45"/><circle cx="210.5" cy="371.3" r="0.45"/><circle cx="191.8" cy="387" r="0.45"/><circle cx="201.7" cy="381.5" r="0.45"/><circle cx="208.9" cy="371.8" r="0.45"/><circle cx="198.3" cy="379.7" r="0.45"/><circle cx="198.2" cy="369.8" r="0.45"/><circle cx="199.6" cy="366.2" r="0.45"/><circle cx="192.4" cy="387.6" r="0.45"/><circle cx="198.2" cy="383.5" r="0.45"/><circle cx="207.8" cy="373" r="0.45"/><circle cx="205.4" cy="369.9" r="0.45"/><circle cx="210.9" cy="371.5" r="0.45"/><circle cx="199.4" cy="388" r="0.45"/><circle cx="201.3" cy="379.7" r="0.45"/><circle cx="199.7" cy="387.2" r="0.45"/><circle cx="186.9" cy="384" r="0.45"/><circle cx="201.9" cy="369.1" r="0.45"/><circle cx="202.7" cy="364.8" r="0.45"/><circle cx="203.7" cy="374.2" r="0.45"/><circle cx="200.6" cy="368.4" r="0.45"/><circle cx="193.6" cy="382.9" r="0.45"/><circle cx="192.2" cy="371.8" r="0.45"/><circle cx="200.8" cy="387.1" r="0.45"/><circle cx="200.6" cy="376.5" r="0.45"/><circle cx="186.9" cy="380.2" r="0.45"/><circle cx="203.5" cy="368.4" r="0.45"/></g>
<g fill="#ececf0" opacity="0.6"><circle cx="173.8" cy="431.6" r="0.45"/><circle cx="163.2" cy="414" r="0.45"/><circle cx="178.1" cy="425.5" r="0.45"/><circle cx="169.5" cy="429.1" r="0.45"/><circle cx="173.4" cy="430.6" r="0.45"/><circle cx="173.5" cy="427.4" r="0.45"/><circle cx="169.6" cy="419.6" r="0.45"/><circle cx="169.3" cy="423.1" r="0.45"/><circle cx="170" cy="421.7" r="0.45"/><circle cx="166.7" cy="421.6" r="0.45"/><circle cx="166.5" cy="424" r="0.45"/><circle cx="176" cy="426.1" r="0.45"/><circle cx="167.8" cy="425.4" r="0.45"/><circle cx="175" cy="421.1" r="0.45"/><circle cx="162.7" cy="417.2" r="0.45"/><circle cx="177.2" cy="425.8" r="0.45"/><circle cx="171.9" cy="431.3" r="0.45"/><circle cx="174.3" cy="422.3" r="0.45"/><circle cx="177.6" cy="424.8" r="0.45"/><circle cx="174.7" cy="426.3" r="0.45"/><circle cx="173.3" cy="425.6" r="0.45"/><circle cx="164.1" cy="412.8" r="0.45"/><circle cx="169.9" cy="426.5" r="0.45"/><circle cx="178.6" cy="426.2" r="0.45"/><circle cx="172.4" cy="427" r="0.45"/><circle cx="179.9" cy="423.9" r="0.45"/></g>
</g>
<defs><linearGradient id="cb" x1="0" y1="0" x2="0" y2="1"><stop offset="0" stop-color="#2c3a8e"/><stop offset="0.5" stop-color="#6a5aaa"/><stop offset="1" stop-color="#d6d6d8"/></linearGradient></defs>
<rect x="480.7" y="320.7" width="7.2" height="37" fill="url(#cb)"/>
<g stroke="#fff" stroke-width="0.6"><line x1="480.7" y1="328.3" x2="482" y2="328.3"/><line x1="486.6" y1="328.3" x2="487.9" y2="328.3"/><line x1="480.7" y1="337.8" x2="482" y2="337.8"/><line x1="486.6" y1="337.8" x2="487.9" y2="337.8"/><line x1="480.7" y1="347.5" x2="482" y2="347.5"/><line x1="486.6" y1="347.5" x2="487.9" y2="347.5"/><line x1="480.7" y1="357" x2="482" y2="357"/><line x1="486.6" y1="357" x2="487.9" y2="357"/></g>
<text x="490.8" y="330.1" font-size="5" fill="#444" textLength="8.5" lengthAdjust="spacingAndGlyphs" >0.6</text>
<text x="490.8" y="339.6" font-size="5" fill="#444" textLength="8.5" lengthAdjust="spacingAndGlyphs" >0.4</text>
<text x="490.8" y="349.3" font-size="5" fill="#444" textLength="8.5" lengthAdjust="spacingAndGlyphs" >0.2</text>
<text x="490.8" y="358.8" font-size="5" fill="#444" textLength="8.5" lengthAdjust="spacingAndGlyphs" >0.0</text>
<rect x="0.5" y="0.5" width="518.8" height="473.8" fill="none" stroke="#000" stroke-width="1.2"/>
</svg></body></html>
